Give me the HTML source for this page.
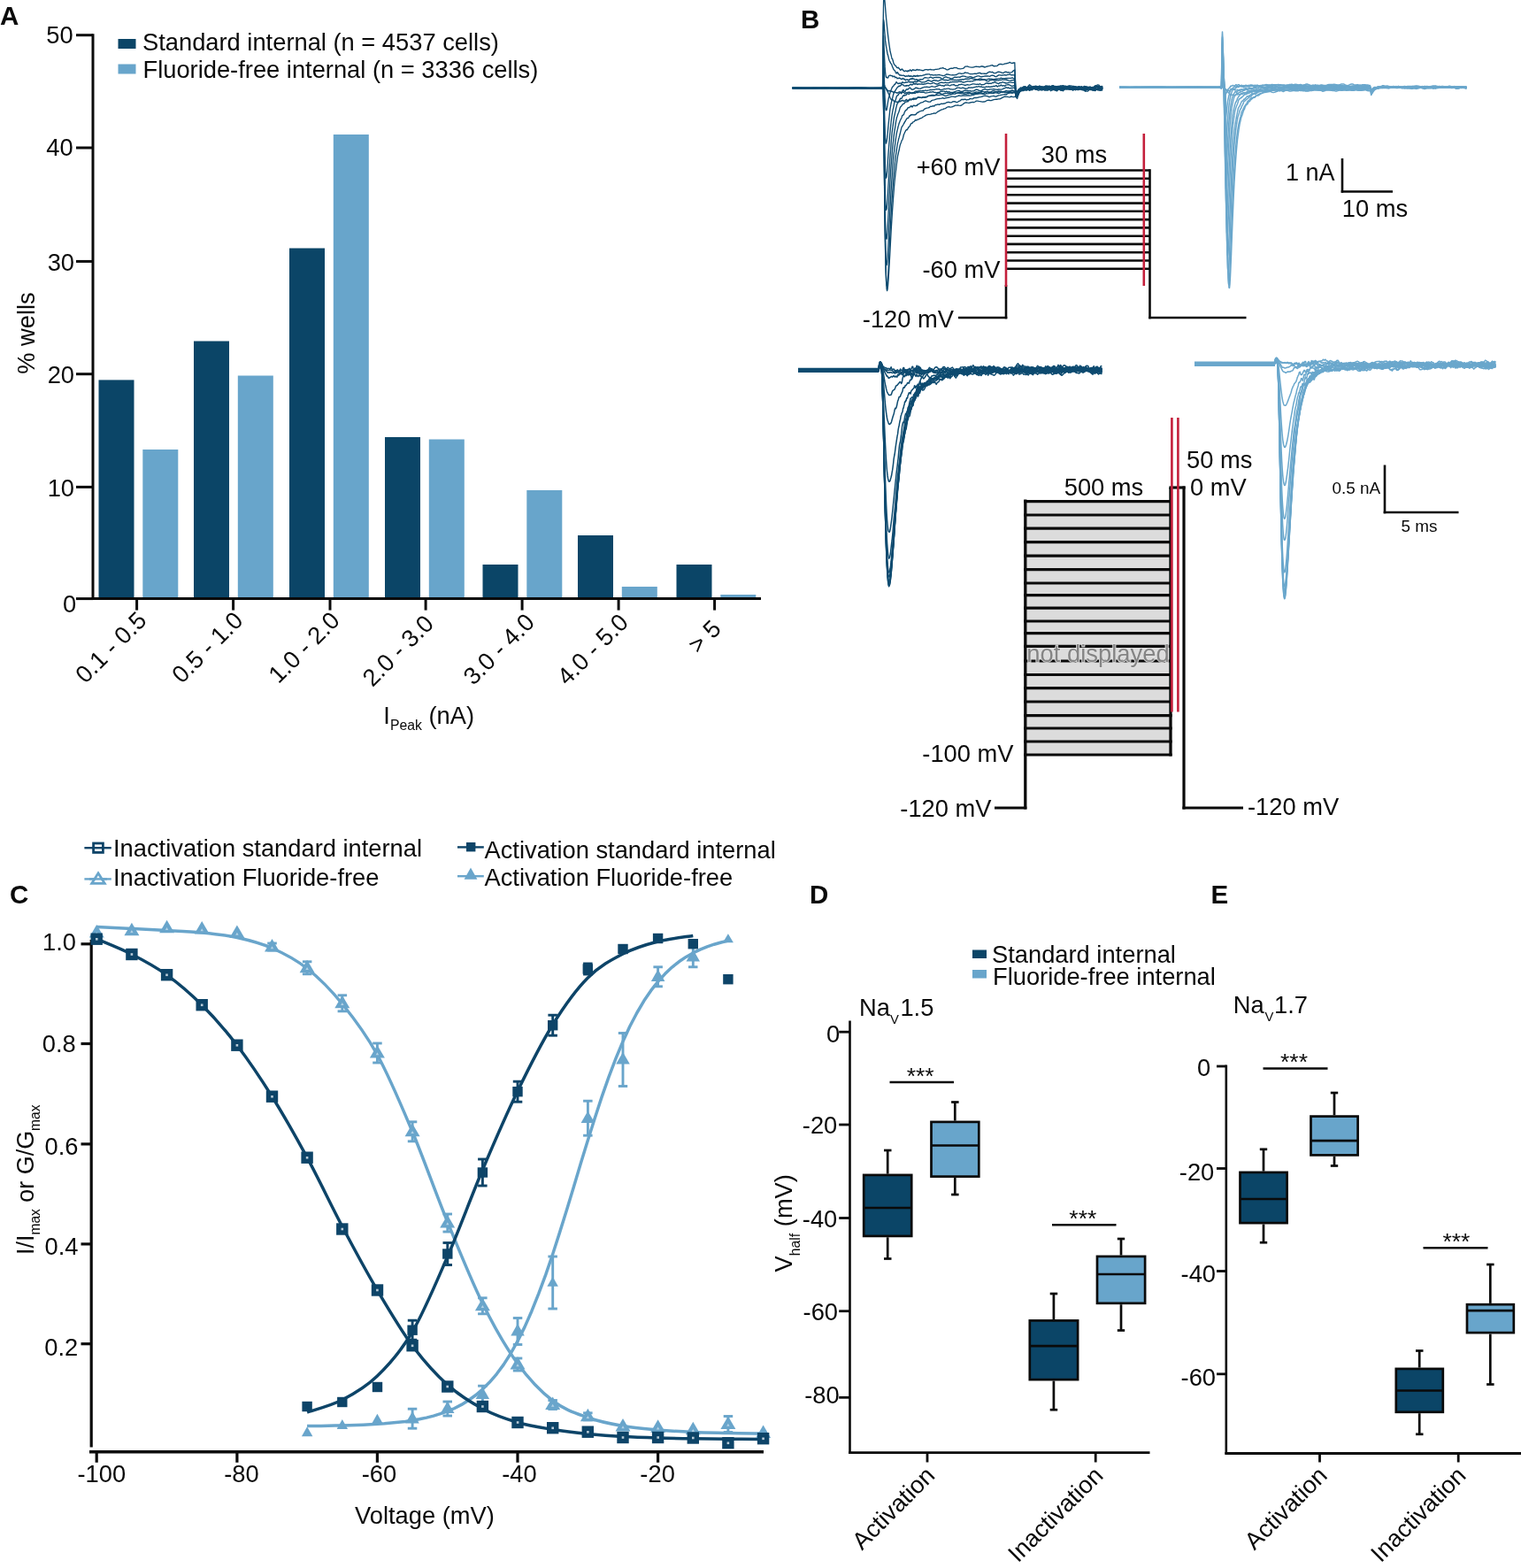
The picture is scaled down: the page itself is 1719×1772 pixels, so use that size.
<!DOCTYPE html>
<html lang="en">
<head>
<meta charset="utf-8">
<title>Figure</title>
<style>
html,body{margin:0;padding:0;background:#fff;}
svg{display:block;}
svg text{font-family:"Liberation Sans",Arial,Helvetica,sans-serif;}
</style>
</head>
<body>
<svg width="1719" height="1772" viewBox="0 0 1719 1772" fill="#0a0a0a">
<rect x="0" y="0" width="1719" height="1772" fill="#ffffff"/>
<g id="panelA">
<text x="0" y="28" font-size="29.5" font-weight="bold">A</text>
<rect x="111.5" y="429.4" width="40" height="246.6" fill="#0b4567"/>
<rect x="219" y="385.5" width="40" height="290.5" fill="#0b4567"/>
<rect x="327" y="280.5" width="40" height="395.5" fill="#0b4567"/>
<rect x="435" y="494" width="40" height="182" fill="#0b4567"/>
<rect x="545.5" y="638" width="40" height="38" fill="#0b4567"/>
<rect x="653" y="605" width="40" height="71" fill="#0b4567"/>
<rect x="764.5" y="638" width="40" height="38" fill="#0b4567"/>
<rect x="161.3" y="508" width="40" height="168" fill="#68a5cb"/>
<rect x="268.8" y="424.5" width="40" height="251.5" fill="#68a5cb"/>
<rect x="376.8" y="152" width="40" height="524" fill="#68a5cb"/>
<rect x="484.8" y="496.5" width="40" height="179.5" fill="#68a5cb"/>
<rect x="595.3" y="554" width="40" height="122" fill="#68a5cb"/>
<rect x="702.8" y="663" width="40" height="13" fill="#68a5cb"/>
<rect x="814.3" y="672" width="40" height="4" fill="#68a5cb"/>
<line x1="105" y1="38.2" x2="105" y2="677.5" stroke="#0a0a0a" stroke-width="3"/>
<line x1="103.5" y1="676.6" x2="860" y2="676.6" stroke="#0a0a0a" stroke-width="3"/>
<line x1="86" y1="39.7" x2="105" y2="39.7" stroke="#0a0a0a" stroke-width="3"/>
<text x="82.7" y="49.1" font-size="27.3" text-anchor="end">50</text>
<line x1="86" y1="167" x2="105" y2="167" stroke="#0a0a0a" stroke-width="3"/>
<text x="82.7" y="176.4" font-size="27.3" text-anchor="end">40</text>
<line x1="86" y1="295.4" x2="105" y2="295.4" stroke="#0a0a0a" stroke-width="3"/>
<text x="84" y="306" font-size="27.3" text-anchor="end">30</text>
<line x1="86" y1="422.7" x2="105" y2="422.7" stroke="#0a0a0a" stroke-width="3"/>
<text x="84" y="433.3" font-size="27.3" text-anchor="end">20</text>
<line x1="86" y1="550.4" x2="105" y2="550.4" stroke="#0a0a0a" stroke-width="3"/>
<text x="84" y="561" font-size="27.3" text-anchor="end">10</text>
<line x1="86" y1="676.6" x2="105" y2="676.6" stroke="#0a0a0a" stroke-width="3"/>
<text x="86.2" y="692.4" font-size="27.3" text-anchor="end">0</text>
<line x1="154.6" y1="676" x2="154.6" y2="689.6" stroke="#0a0a0a" stroke-width="3"/>
<text transform="translate(167.2 702.8) rotate(-45)" font-size="27.3" text-anchor="end">0.1 - 0.5</text>
<line x1="263.6" y1="676" x2="263.6" y2="689.6" stroke="#0a0a0a" stroke-width="3"/>
<text transform="translate(276.2 702.8) rotate(-45)" font-size="27.3" text-anchor="end">0.5 - 1.0</text>
<line x1="373" y1="676" x2="373" y2="689.6" stroke="#0a0a0a" stroke-width="3"/>
<text transform="translate(385.6 702.8) rotate(-45)" font-size="27.3" text-anchor="end">1.0 - 2.0</text>
<line x1="481.1" y1="676" x2="481.1" y2="689.6" stroke="#0a0a0a" stroke-width="3"/>
<text transform="translate(491.7 706.4) rotate(-45)" font-size="27.3" text-anchor="end">2.0 - 3.0</text>
<line x1="590.1" y1="676" x2="590.1" y2="689.6" stroke="#0a0a0a" stroke-width="3"/>
<text transform="translate(605.7 704.8) rotate(-45)" font-size="27.3" text-anchor="end">3.0 - 4.0</text>
<line x1="699.1" y1="676" x2="699.1" y2="689.6" stroke="#0a0a0a" stroke-width="3"/>
<text transform="translate(711.7 705) rotate(-45)" font-size="27.3" text-anchor="end">4.0 - 5.0</text>
<line x1="807.6" y1="676" x2="807.6" y2="689.6" stroke="#0a0a0a" stroke-width="3"/>
<text transform="translate(816.4 712.3) rotate(-45)" font-size="27.3" text-anchor="end">&gt; 5</text>
<rect x="133.5" y="44" width="20" height="11" fill="#0b4567"/>
<rect x="133.5" y="72.5" width="20" height="11" fill="#68a5cb"/>
<text x="161" y="56.5" font-size="27.3">Standard internal (n = 4537 cells)</text>
<text x="161.5" y="87.5" font-size="27.3">Fluoride-free internal (n = 3336 cells)</text>
<text transform="translate(39 376.5) rotate(-90)" font-size="27.3" text-anchor="middle">% wells</text>
<text x="433.3" y="817.5" font-size="27.3">I<tspan font-size="15.8" dy="7.5">Peak</tspan><tspan dy="-7.5"> (nA)</tspan></text>
</g>
<g id="panelB">
<text x="905" y="32" font-size="29.5" font-weight="bold">B</text>
<g fill="none">
<path d="M895.5,99.4 901.5,99.3 907.5,99.4 913.5,99.5 919.5,99.6 925.5,99.6 931.5,99.5 937.5,99.7 943.5,99.8 949.5,99.5 955.5,99.5 961.5,99.4 967.5,99.4 973.5,99.5 979.5,99.3 985.5,99.3 991.5,99.1 995.6,99.4 996.1,99.4 996.6,99.7 997.1,99.6 997.6,100.3 998.1,98.2 998.6,97.4 999.1,97.6 999.6,98.8 1000.1,99.4 1000.6,99.6 1001.1,99.6 1001.6,100.2 1002.1,100.9 1002.6,101.4 1003.1,102.1 1003.6,102.3 1004.1,102.7 1004.6,102.9 1005.1,102.6 1005.6,102.8 1006.1,102.6 1006.6,102.7 1007.1,103.5 1007.6,103.1 1008.1,103.5 1008.6,103.4 1009.1,103.8 1009.6,104.3 1010.1,104.7 1010.6,104.4 1011.1,103.7 1011.6,103.8 1012.1,104.5 1012.6,104.7 1013.1,104.7 1013.6,104.9 1014.1,105.3 1014.6,104.9 1015.1,104.7 1015.6,104.1 1016.1,104.1 1016.6,103.8 1017.1,104.1 1017.6,104 1018.1,104.8 1018.6,105.8 1019.1,105.3 1019.6,104.4 1020.1,104.1 1020.6,103.9 1021.1,104.4 1021.6,104.2 1022.1,105.4 1022.6,105.8 1023.1,105.5 1023.6,105.1 1024.1,104.6 1024.6,105 1025.1,105 1025.6,104.9 1026.1,104.2 1026.6,104.4 1027.1,104.5 1027.6,104.2 1028.1,104.5 1028.6,104.3 1029.1,105 1029.6,105.1 1030.1,105.4 1030.6,105.1 1031.1,104.5 1031.6,105 1032.1,104.8 1032.6,105.1 1033.1,104.1 1033.6,104.2 1034.1,103.3 1034.6,103.1 1035.1,103.1 1035.6,103.2 1036.1,103.8 1036.6,104.5 1037.1,104.7 1037.6,104.4 1039,103.8 1040.4,104.4 1041.8,104.3 1043.2,104.2 1044.6,104.5 1046,105.1 1047.4,104.8 1048.8,104.7 1050.2,104.4 1051.6,104 1053,104.1 1054.4,103.7 1055.8,104.4 1057.2,104.5 1058.6,104.8 1060,104.4 1061.4,104.4 1062.8,103.6 1064.2,103.2 1065.6,103.2 1067,103.1 1068.4,103.8 1069.8,103.1 1071.2,104.2 1072.6,103.5 1074,104.3 1075.4,104.3 1076.8,104.4 1078.2,104.2 1079.6,104.8 1081,105.4 1082.4,104.9 1083.8,104.5 1085.2,104.3 1086.6,104.6 1088,104.7 1089.4,105.1 1090.8,104.5 1092.2,104.4 1093.6,104.1 1095,104.7 1096.4,104.7 1097.8,105.6 1099.2,105.2 1100.6,105 1102,104.5 1103.4,104 1104.8,104.2 1106.2,104.2 1107.6,104.4 1109,103.6 1110.4,103.3 1111.8,103.7 1113.2,103.9 1114.6,103.6 1116,103.4 1117.4,104.3 1118.8,103.8 1120.2,103.8 1121.6,102.9 1123,102.6 1124.4,103.2 1125.8,103.4 1127.2,104.3 1128.6,103.7 1130,103.9 1131.4,103.8 1132.8,104 1134.2,103.6 1135.6,103.6 1137,104.2 1138.4,104.2 1139.8,104.8 1141.2,104.3 1142.6,104.4 1144,104.4 1145.4,104.4 1146.8,104.5 1148.2,103.5 1149.6,103.5 1151,102.2 1152.4,101.2 1153.8,100.9 1155.2,99.6 1156.6,97.8 1158,97.7 1159.4,98.3 1160.8,99 1162.2,98.8 1163.6,98.5 1165,98.7 1166.4,99.3 1167.8,98.4 1169.2,99.3 1170.6,97.6 1172,98.4 1173.4,97.8 1174.8,99.4 1176.2,99.7 1177.6,100.7 1179,99.7 1180.4,97.9 1181.8,97.8 1183.2,98.2 1184.6,99.1 1186,98.9 1187.4,98.2 1188.8,96.8 1190.2,96.6 1191.6,98 1193,99.1 1194.4,99.1 1195.8,98.1 1197.2,97.7 1198.6,96.9 1200,96.9 1201.4,96.6 1202.8,97.2 1204.2,97.1 1205.6,98.4 1207,97.6 1208.4,97.2 1209.8,97 1211.2,97.1 1212.6,97.3 1214,97.5 1215.4,98.1 1216.8,98.2 1218.2,99.5 1219.6,99.1 1221,99.2 1222.4,98 1223.8,98.6 1225.2,97.4 1226.6,97.6 1228,98.8 1229.4,99.8 1230.8,99.6 1232.2,98.8 1233.6,99.5 1235,99.4 1236.4,98.7 1237.8,97.5 1239.2,96.5 1240.6,95.9 1242,96.1 1243.4,98.2 1244.8,100 1246.2,99.4" fill="none" stroke="#0e4b70" stroke-width="1.35" stroke-linejoin="round"/>
<path d="M895.5,99.6 901.5,99.5 907.5,99.4 913.5,99.3 919.5,99.3 925.5,99.3 931.5,99.3 937.5,99.2 943.5,99.3 949.5,99.4 955.5,99.5 961.5,99.5 967.5,99.6 973.5,99.3 979.5,99.4 985.5,99.4 991.5,99.7 995.6,99.7 996.1,99.6 996.6,99.5 997.1,99.5 997.6,99.6 998.1,97 998.6,95.4 999.1,95.5 999.6,96.3 1000.1,97.7 1000.6,98.7 1001.1,99.1 1001.6,100.5 1002.1,101.6 1002.6,102.6 1003.1,103.5 1003.6,104.2 1004.1,105.7 1004.6,106.2 1005.1,107.9 1005.6,109.3 1006.1,110.5 1006.6,111.4 1007.1,112.5 1007.6,113 1008.1,112.9 1008.6,112.5 1009.1,112.8 1009.6,113.3 1010.1,114 1010.6,114.5 1011.1,114.8 1011.6,114.8 1012.1,114.9 1012.6,114.8 1013.1,115.1 1013.6,115.5 1014.1,115.3 1014.6,115.2 1015.1,114.9 1015.6,114.6 1016.1,114.1 1016.6,113.9 1017.1,114.3 1017.6,114.9 1018.1,114.2 1018.6,114 1019.1,113.7 1019.6,113.8 1020.1,113.3 1020.6,113.4 1021.1,113.9 1021.6,114.5 1022.1,114.2 1022.6,113.8 1023.1,113.7 1023.6,113.1 1024.1,112.7 1024.6,112.4 1025.1,113.3 1025.6,113.6 1026.1,113.7 1026.6,113.3 1027.1,112.8 1027.6,112.6 1028.1,112.1 1028.6,111.9 1029.1,112.1 1029.6,113 1030.1,112.8 1030.6,112.5 1031.1,111.9 1031.6,112.4 1032.1,112.4 1032.6,112.5 1033.1,111.9 1033.6,111.8 1034.1,111.3 1034.6,111.8 1035.1,112 1035.6,111.7 1036.1,111 1036.6,110.5 1037.1,110.5 1037.6,110.2 1039,109.9 1040.4,110.1 1041.8,110.6 1043.2,109.8 1044.6,109.9 1046,109.5 1047.4,109.7 1048.8,108.7 1050.2,108.4 1051.6,108.1 1053,107.8 1054.4,108.2 1055.8,108 1057.2,107.6 1058.6,107.5 1060,107.4 1061.4,107.6 1062.8,107.2 1064.2,107.1 1065.6,107.2 1067,107.8 1068.4,108.5 1069.8,108.2 1071.2,107.5 1072.6,107.2 1074,107.1 1075.4,106.5 1076.8,106 1078.2,106.2 1079.6,106.1 1081,105.4 1082.4,104.9 1083.8,105.4 1085.2,105.5 1086.6,105.8 1088,105.8 1089.4,106.2 1090.8,106.2 1092.2,106.2 1093.6,105.7 1095,105.7 1096.4,105.4 1097.8,106.2 1099.2,106 1100.6,106 1102,105.6 1103.4,105.6 1104.8,106 1106.2,105.5 1107.6,105.2 1109,104.8 1110.4,105.9 1111.8,106.4 1113.2,106.3 1114.6,105.7 1116,105.9 1117.4,105.7 1118.8,105.2 1120.2,105 1121.6,105.3 1123,105.5 1124.4,104.8 1125.8,104.9 1127.2,105.2 1128.6,105.5 1130,105.2 1131.4,104 1132.8,104 1134.2,103.9 1135.6,104.6 1137,104.8 1138.4,104.7 1139.8,104 1141.2,104 1142.6,103.8 1144,104.3 1145.4,104 1146.8,104.3 1148.2,103.4 1149.6,104 1151,102.2 1152.4,102.8 1153.8,102.4 1155.2,101.8 1156.6,100.5 1158,98.8 1159.4,98.2 1160.8,99.1 1162.2,99.5 1163.6,99 1165,99.5 1166.4,98.8 1167.8,99.9 1169.2,99.6 1170.6,99.9 1172,99.8 1173.4,99.1 1174.8,99 1176.2,98.1 1177.6,97.9 1179,99.1 1180.4,100.7 1181.8,101 1183.2,100.2 1184.6,98.7 1186,98.4 1187.4,97.8 1188.8,98.4 1190.2,97.4 1191.6,97.8 1193,97.5 1194.4,98 1195.8,97.3 1197.2,97.4 1198.6,98.9 1200,99.7 1201.4,99.8 1202.8,99.1 1204.2,99.7 1205.6,99.5 1207,99.4 1208.4,99.8 1209.8,100.3 1211.2,100.9 1212.6,100.8 1214,100.5 1215.4,100.6 1216.8,99.5 1218.2,100.5 1219.6,99.3 1221,98.7 1222.4,97.6 1223.8,99.4 1225.2,100.4 1226.6,101.1 1228,99.8 1229.4,99.7 1230.8,99 1232.2,99 1233.6,99.1 1235,99 1236.4,98.3 1237.8,97.8 1239.2,97.5 1240.6,98 1242,98.5 1243.4,99 1244.8,99.9 1246.2,99.3" fill="none" stroke="#0e4b70" stroke-width="1.35" stroke-linejoin="round"/>
<path d="M895.5,99 901.5,98.8 907.5,99.1 913.5,99.3 919.5,99.3 925.5,99.4 931.5,99.5 937.5,99.3 943.5,99.3 949.5,99.2 955.5,99.5 961.5,99.5 967.5,99.4 973.5,99.4 979.5,99.4 985.5,99.5 991.5,99.6 995.6,99.7 996.1,99.9 996.6,99.8 997.1,99.5 997.6,99.5 998.1,101.6 998.6,125.4 999.1,163.7 999.6,206.9 1000.1,246.6 1000.6,279.3 1001.1,303 1001.6,318.3 1002.1,326.7 1002.6,328.6 1003.1,326.8 1003.6,321.9 1004.1,315.3 1004.6,307.2 1005.1,298.2 1005.6,289.6 1006.1,280 1006.6,270.7 1007.1,261.3 1007.6,252.9 1008.1,244.9 1008.6,237.2 1009.1,230.5 1009.6,223.3 1010.1,217 1010.6,210.4 1011.1,204.8 1011.6,200.1 1012.1,195.4 1012.6,192 1013.1,187.5 1013.6,183.5 1014.1,179.6 1014.6,176.2 1015.1,174 1015.6,171.6 1016.1,169.8 1016.6,167.2 1017.1,164.6 1017.6,163 1018.1,161.8 1018.6,160.5 1019.1,158.9 1019.6,158.2 1020.1,157.3 1020.6,155.6 1021.1,153.5 1021.6,151.8 1022.1,150.8 1022.6,149.5 1023.1,148.6 1023.6,147.5 1024.1,147 1024.6,146.4 1025.1,146.8 1025.6,146.1 1026.1,145.4 1026.6,143.9 1027.1,143.7 1027.6,143.5 1028.1,142.7 1028.6,141.9 1029.1,140.6 1029.6,139.8 1030.1,139.4 1030.6,139.4 1031.1,139.1 1031.6,138.2 1032.1,137.8 1032.6,137.7 1033.1,137.3 1033.6,137 1034.1,136 1034.6,135.5 1035.1,136 1035.6,135.6 1036.1,135.7 1036.6,135.1 1037.1,135.1 1037.6,135.1 1039,134.4 1040.4,133.6 1041.8,133.3 1043.2,132.1 1044.6,131.5 1046,130.4 1047.4,129.9 1048.8,129.4 1050.2,129.4 1051.6,129.2 1053,128.6 1054.4,128.3 1055.8,127.8 1057.2,128.2 1058.6,127.3 1060,126.1 1061.4,125.4 1062.8,124.7 1064.2,123.9 1065.6,123.6 1067,122.8 1068.4,122.7 1069.8,121.5 1071.2,120.9 1072.6,120.6 1074,121.1 1075.4,120.9 1076.8,120.5 1078.2,119.8 1079.6,119.1 1081,119.1 1082.4,118.9 1083.8,119.2 1085.2,119.3 1086.6,119 1088,118 1089.4,116.9 1090.8,116 1092.2,115.8 1093.6,116.1 1095,116.3 1096.4,116 1097.8,115.6 1099.2,115.4 1100.6,115.7 1102,115 1103.4,114.1 1104.8,114.1 1106.2,114.4 1107.6,114.6 1109,114.9 1110.4,115.2 1111.8,115 1113.2,114.8 1114.6,114 1116,113.3 1117.4,113.1 1118.8,113.5 1120.2,113.6 1121.6,113.1 1123,112.6 1124.4,112.3 1125.8,112.2 1127.2,112.2 1128.6,111.9 1130,111.8 1131.4,111.2 1132.8,110.4 1134.2,109.7 1135.6,109.2 1137,109.4 1138.4,109.4 1139.8,109.7 1141.2,109.8 1142.6,109 1144,109.3 1145.4,109.6 1146.8,109.3 1148.2,108.5 1149.6,106.4 1151,103.8 1152.4,103.2 1153.8,101.2 1155.2,100.4 1156.6,100 1158,100.6 1159.4,100.6 1160.8,100.5 1162.2,99.9 1163.6,102.3 1165,101.4 1166.4,101.8 1167.8,100.4 1169.2,100.7 1170.6,100.2 1172,100.2 1173.4,100.6 1174.8,100.5 1176.2,99.6 1177.6,98.6 1179,98.5 1180.4,99 1181.8,100.3 1183.2,100.4 1184.6,100.6 1186,100.9 1187.4,100.4 1188.8,99.4 1190.2,98.1 1191.6,97.4 1193,99.6 1194.4,99.8 1195.8,101.3 1197.2,100.8 1198.6,102.2 1200,102.3 1201.4,102 1202.8,100.6 1204.2,100.2 1205.6,100.2 1207,99.9 1208.4,99.9 1209.8,100.6 1211.2,99.4 1212.6,99.1 1214,98 1215.4,98.9 1216.8,99.3 1218.2,100.1 1219.6,100.1 1221,98.9 1222.4,100.1 1223.8,99.6 1225.2,100.6 1226.6,100.1 1228,99.2 1229.4,98.4 1230.8,98.5 1232.2,100.9 1233.6,101.3 1235,101.2 1236.4,99.7 1237.8,100.1 1239.2,100.3 1240.6,100.9 1242,100 1243.4,97.8 1244.8,97.9 1246.2,99.6" fill="none" stroke="#0e4b70" stroke-width="1.35" stroke-linejoin="round"/>
<path d="M895.5,99.1 901.5,99.3 907.5,99.3 913.5,99.3 919.5,99.5 925.5,99.5 931.5,99.6 937.5,99.8 943.5,99.7 949.5,99.7 955.5,99.9 961.5,100.1 967.5,99.9 973.5,99.6 979.5,99.5 985.5,99.5 991.5,99.6 995.6,99.6 996.1,99.6 996.6,99.7 997.1,99.7 997.6,100.1 998.1,99.4 998.6,124.7 999.1,166.3 999.6,212.6 1000.1,252.8 1000.6,284.1 1001.1,304.6 1001.6,317.4 1002.1,323 1002.6,323 1003.1,319.4 1003.6,312.2 1004.1,303.7 1004.6,293.3 1005.1,283.3 1005.6,272 1006.1,261.6 1006.6,251.7 1007.1,242.6 1007.6,233.2 1008.1,225.2 1008.6,217.6 1009.1,210.8 1009.6,204 1010.1,197.9 1010.6,192.9 1011.1,187.4 1011.6,182.3 1012.1,178 1012.6,174.4 1013.1,170.9 1013.6,167.3 1014.1,164 1014.6,161.3 1015.1,159.4 1015.6,157 1016.1,155.4 1016.6,153.4 1017.1,151.8 1017.6,149.7 1018.1,147.4 1018.6,145.4 1019.1,143.6 1019.6,142.8 1020.1,142.3 1020.6,141.3 1021.1,140.5 1021.6,139.2 1022.1,139 1022.6,137.5 1023.1,137.1 1023.6,136 1024.1,135.4 1024.6,134.4 1025.1,133.8 1025.6,133.4 1026.1,133.3 1026.6,133.5 1027.1,132.5 1027.6,131.4 1028.1,130.8 1028.6,131 1029.1,130 1029.6,130.2 1030.1,129.5 1030.6,129.9 1031.1,129.5 1031.6,129.6 1032.1,129.9 1032.6,129.9 1033.1,129.5 1033.6,129.9 1034.1,129.8 1034.6,129.5 1035.1,129.3 1035.6,128.4 1036.1,128.2 1036.6,127.3 1037.1,127.2 1037.6,127.3 1039,126.1 1040.4,125.7 1041.8,125.2 1043.2,125 1044.6,123.4 1046,122.6 1047.4,122.1 1048.8,121.9 1050.2,121.5 1051.6,120.2 1053,120.3 1054.4,119.6 1055.8,120 1057.2,118.4 1058.6,118.5 1060,117.8 1061.4,118.4 1062.8,117.6 1064.2,117.2 1065.6,117.4 1067,117 1068.4,116.8 1069.8,115.8 1071.2,115.5 1072.6,115.5 1074,115.8 1075.4,115.8 1076.8,114.9 1078.2,114.6 1079.6,114.9 1081,115.6 1082.4,115.3 1083.8,114.3 1085.2,113.8 1086.6,112.5 1088,112.4 1089.4,112.5 1090.8,112.2 1092.2,113 1093.6,112.7 1095,112.5 1096.4,111.4 1097.8,111.7 1099.2,111.8 1100.6,110.7 1102,110.4 1103.4,110.5 1104.8,110.4 1106.2,109.8 1107.6,109.6 1109,109.4 1110.4,109 1111.8,108.4 1113.2,108.1 1114.6,108.5 1116,108.7 1117.4,109.5 1118.8,109.5 1120.2,108.8 1121.6,108.7 1123,108.3 1124.4,109 1125.8,109.1 1127.2,108.4 1128.6,107.8 1130,107.6 1131.4,107.3 1132.8,107.1 1134.2,106.9 1135.6,106.7 1137,107.1 1138.4,106 1139.8,105.4 1141.2,105 1142.6,104.8 1144,105.3 1145.4,104.6 1146.8,104.9 1148.2,104.6 1149.6,103.3 1151,101.2 1152.4,100 1153.8,98.9 1155.2,99.4 1156.6,98.7 1158,99.4 1159.4,98.7 1160.8,100.6 1162.2,99.9 1163.6,100.7 1165,99.7 1166.4,100.6 1167.8,100.2 1169.2,100.5 1170.6,101.3 1172,101.2 1173.4,102.2 1174.8,101.9 1176.2,101.4 1177.6,100.9 1179,100.3 1180.4,99.6 1181.8,100.3 1183.2,100.7 1184.6,101.2 1186,100.4 1187.4,99.7 1188.8,99.8 1190.2,99.9 1191.6,99.9 1193,99 1194.4,98.9 1195.8,98.3 1197.2,100 1198.6,100.2 1200,100 1201.4,100.3 1202.8,100.1 1204.2,100.2 1205.6,99 1207,98.2 1208.4,98.9 1209.8,99 1211.2,99.8 1212.6,100.1 1214,101.2 1215.4,101.7 1216.8,101.3 1218.2,99.9 1219.6,99.8 1221,100.2 1222.4,101.3 1223.8,100.2 1225.2,100.9 1226.6,100.5 1228,101 1229.4,101 1230.8,100.5 1232.2,100.1 1233.6,100 1235,100.4 1236.4,100.4 1237.8,101.3 1239.2,100.5 1240.6,101.7 1242,100.3 1243.4,100.1 1244.8,101.5 1246.2,101.5" fill="none" stroke="#0e4b70" stroke-width="1.35" stroke-linejoin="round"/>
<path d="M895.5,99.8 901.5,99.6 907.5,99.8 913.5,99.6 919.5,99.7 925.5,99.6 931.5,99.8 937.5,99.6 943.5,99.4 949.5,99.5 955.5,99.5 961.5,99.8 967.5,99.7 973.5,100 979.5,99.9 985.5,100.1 991.5,99.8 995.6,99.6 996.1,99.4 996.6,99.4 997.1,99.4 997.6,99.1 998.1,94.3 998.6,118.7 999.1,160.1 999.6,204.8 1000.1,243.4 1000.6,271.7 1001.1,289.5 1001.6,297.7 1002.1,299.6 1002.6,296.9 1003.1,291.5 1003.6,283.5 1004.1,274.4 1004.6,263.7 1005.1,253.9 1005.6,243.9 1006.1,233.9 1006.6,224.6 1007.1,215.1 1007.6,207.4 1008.1,199.7 1008.6,192.5 1009.1,185.4 1009.6,179.5 1010.1,174.5 1010.6,171 1011.1,166.8 1011.6,163 1012.1,158.8 1012.6,155.5 1013.1,152.2 1013.6,149.5 1014.1,147.1 1014.6,145.4 1015.1,142.8 1015.6,141.4 1016.1,139.4 1016.6,138.4 1017.1,136.8 1017.6,135.8 1018.1,134.7 1018.6,133.8 1019.1,132.7 1019.6,130.8 1020.1,130.3 1020.6,130 1021.1,129.9 1021.6,129 1022.1,127.1 1022.6,126.4 1023.1,125.3 1023.6,124.7 1024.1,124.5 1024.6,124 1025.1,123.8 1025.6,122.4 1026.1,121.8 1026.6,121.6 1027.1,121.8 1027.6,121.1 1028.1,121.1 1028.6,120.8 1029.1,120.7 1029.6,119.5 1030.1,119.9 1030.6,120.4 1031.1,121 1031.6,120.2 1032.1,119.2 1032.6,119.2 1033.1,119.1 1033.6,119.6 1034.1,119.6 1034.6,119.7 1035.1,119.2 1035.6,119.3 1036.1,119.5 1036.6,118.5 1037.1,118.7 1037.6,117.7 1039,117.3 1040.4,116.2 1041.8,115.8 1043.2,115.4 1044.6,114.5 1046,113.8 1047.4,114.3 1048.8,115 1050.2,115.1 1051.6,115 1053,113.6 1054.4,113.2 1055.8,112.8 1057.2,112.3 1058.6,111.8 1060,111.6 1061.4,111.5 1062.8,111.4 1064.2,111.2 1065.6,110.7 1067,111.3 1068.4,110.9 1069.8,110.5 1071.2,110.3 1072.6,110 1074,109.7 1075.4,109.2 1076.8,109.1 1078.2,109.3 1079.6,109.7 1081,108.9 1082.4,108.7 1083.8,107.9 1085.2,108.4 1086.6,108.3 1088,108 1089.4,108 1090.8,108.2 1092.2,107.9 1093.6,108 1095,108 1096.4,108.1 1097.8,107.8 1099.2,107.2 1100.6,107.2 1102,106.7 1103.4,106.4 1104.8,106 1106.2,105.6 1107.6,105.9 1109,105.9 1110.4,106 1111.8,105.6 1113.2,104 1114.6,104 1116,103.6 1117.4,104.3 1118.8,104.6 1120.2,105.2 1121.6,105.1 1123,104.5 1124.4,104.2 1125.8,103.7 1127.2,103.3 1128.6,102.9 1130,103.2 1131.4,103.2 1132.8,103.8 1134.2,103.4 1135.6,103.1 1137,102.5 1138.4,102.8 1139.8,103 1141.2,103 1142.6,102.5 1144,102 1145.4,102.5 1146.8,102.8 1148.2,107.3 1149.6,105.6 1151,104.2 1152.4,103.4 1153.8,101.3 1155.2,101.4 1156.6,101.3 1158,101.4 1159.4,100.1 1160.8,99 1162.2,98.1 1163.6,98.6 1165,99.1 1166.4,99.4 1167.8,98.6 1169.2,97.8 1170.6,97.9 1172,97.5 1173.4,98.3 1174.8,99.3 1176.2,101.5 1177.6,102 1179,101.4 1180.4,99.3 1181.8,97.3 1183.2,97.2 1184.6,97.2 1186,100.2 1187.4,100.9 1188.8,101.3 1190.2,101 1191.6,101.2 1193,101.9 1194.4,101.8 1195.8,101 1197.2,99.2 1198.6,100.4 1200,101.5 1201.4,102.8 1202.8,101.3 1204.2,100.9 1205.6,100.6 1207,101 1208.4,100.9 1209.8,101.2 1211.2,100.9 1212.6,101.3 1214,101.2 1215.4,101.2 1216.8,100.7 1218.2,100.7 1219.6,101.4 1221,100.9 1222.4,101.2 1223.8,100.7 1225.2,100.2 1226.6,100.8 1228,99.9 1229.4,100.9 1230.8,100.3 1232.2,99.8 1233.6,98.9 1235,98.3 1236.4,98.7 1237.8,99.4 1239.2,100.1 1240.6,100.1 1242,100.8 1243.4,100.1 1244.8,100 1246.2,99.2" fill="none" stroke="#0e4b70" stroke-width="1.35" stroke-linejoin="round"/>
<path d="M895.5,99.6 901.5,99.9 907.5,100 913.5,100.2 919.5,99.8 925.5,99.6 931.5,99.5 937.5,99.5 943.5,99.5 949.5,99.7 955.5,99.7 961.5,99.7 967.5,99.4 973.5,99.4 979.5,99.3 985.5,99.3 991.5,99.3 995.6,99.2 996.1,99.5 996.6,99.4 997.1,99.7 997.6,98.7 998.1,88.7 998.6,110.1 999.1,149.6 999.6,190.7 1000.1,225.4 1000.6,249.6 1001.1,264.4 1001.6,269.9 1002.1,270.1 1002.6,265.6 1003.1,259.1 1003.6,249.8 1004.1,240.8 1004.6,231.2 1005.1,222 1005.6,211.9 1006.1,202.5 1006.6,194 1007.1,187.1 1007.6,180.8 1008.1,174.5 1008.6,168.3 1009.1,163.7 1009.6,159.5 1010.1,154.9 1010.6,150.7 1011.1,147.4 1011.6,144.3 1012.1,140.7 1012.6,137.4 1013.1,134.7 1013.6,132.6 1014.1,131.2 1014.6,129.6 1015.1,128.3 1015.6,127.2 1016.1,125.7 1016.6,124 1017.1,122.1 1017.6,121.2 1018.1,120.4 1018.6,119.9 1019.1,119.4 1019.6,118.7 1020.1,117.9 1020.6,117.5 1021.1,117.4 1021.6,116.9 1022.1,116.8 1022.6,116.1 1023.1,115.4 1023.6,114.9 1024.1,115.1 1024.6,115 1025.1,114.8 1025.6,114.4 1026.1,114.9 1026.6,114 1027.1,113.9 1027.6,113.3 1028.1,113.2 1028.6,112.4 1029.1,112.3 1029.6,112.3 1030.1,112.4 1030.6,112.2 1031.1,111.8 1031.6,111.6 1032.1,111 1032.6,111.2 1033.1,112.1 1033.6,111.2 1034.1,111.5 1034.6,111.2 1035.1,112 1035.6,111.2 1036.1,111 1036.6,110.4 1037.1,110.3 1037.6,109.7 1039,110.1 1040.4,110.3 1041.8,110.1 1043.2,109.7 1044.6,110 1046,110.1 1047.4,109.4 1048.8,108.5 1050.2,108.2 1051.6,108 1053,107.5 1054.4,107.3 1055.8,107.7 1057.2,107.5 1058.6,106.2 1060,105.3 1061.4,105.2 1062.8,105.7 1064.2,106.3 1065.6,106.1 1067,105.7 1068.4,105.5 1069.8,105.3 1071.2,105.3 1072.6,105.1 1074,106 1075.4,106.1 1076.8,105.7 1078.2,104.1 1079.6,103.5 1081,102.9 1082.4,102.7 1083.8,102.3 1085.2,103.1 1086.6,103.5 1088,103.4 1089.4,102.7 1090.8,102.2 1092.2,102.4 1093.6,102.3 1095,102.8 1096.4,102.6 1097.8,103.2 1099.2,102.8 1100.6,102.9 1102,101.8 1103.4,101.2 1104.8,101.4 1106.2,102.2 1107.6,102.7 1109,102.6 1110.4,101.7 1111.8,101.2 1113.2,100.6 1114.6,101.1 1116,101.5 1117.4,101.4 1118.8,100.8 1120.2,100.8 1121.6,100.8 1123,100.7 1124.4,101 1125.8,101.2 1127.2,101.4 1128.6,101 1130,101.2 1131.4,101.1 1132.8,100.8 1134.2,100 1135.6,99.7 1137,98.7 1138.4,99.3 1139.8,99 1141.2,100 1142.6,99.4 1144,99.5 1145.4,99.1 1146.8,99.2 1148.2,107.2 1149.6,107.3 1151,104.9 1152.4,103.5 1153.8,101.4 1155.2,101.1 1156.6,100.5 1158,100.5 1159.4,100.2 1160.8,99.9 1162.2,100.2 1163.6,100.6 1165,100.5 1166.4,100 1167.8,100 1169.2,99.2 1170.6,99.1 1172,99.6 1173.4,99.3 1174.8,99.4 1176.2,99.4 1177.6,99.8 1179,101.5 1180.4,99.4 1181.8,100.9 1183.2,100.3 1184.6,102 1186,101.2 1187.4,100.7 1188.8,99.9 1190.2,100.4 1191.6,99.5 1193,99.7 1194.4,99.5 1195.8,99.8 1197.2,99.4 1198.6,99.3 1200,99.3 1201.4,100.3 1202.8,100.6 1204.2,100.5 1205.6,99.9 1207,99.2 1208.4,99.4 1209.8,99.5 1211.2,100 1212.6,101.1 1214,100.7 1215.4,101.6 1216.8,100.6 1218.2,101.7 1219.6,100.6 1221,100.3 1222.4,99.3 1223.8,100.4 1225.2,100.9 1226.6,102.8 1228,103.1 1229.4,103 1230.8,101.7 1232.2,100.7 1233.6,100.9 1235,101.9 1236.4,102.4 1237.8,102.5 1239.2,101.2 1240.6,101.5 1242,102.2 1243.4,102.4 1244.8,102 1246.2,101.7" fill="none" stroke="#0e4b70" stroke-width="1.35" stroke-linejoin="round"/>
<path d="M895.5,99.5 901.5,99.2 907.5,99.3 913.5,99.4 919.5,99.8 925.5,99.8 931.5,99.5 937.5,99.3 943.5,99.1 949.5,99.2 955.5,99.1 961.5,99.1 967.5,99.2 973.5,99.5 979.5,99.5 985.5,99.4 991.5,99.2 995.6,99.1 996.1,99.5 996.6,99.7 997.1,99.7 997.6,100.2 998.1,82.6 998.6,102 999.1,138.2 999.6,175.5 1000.1,205.2 1000.6,224.4 1001.1,234.9 1001.6,237.4 1002.1,235.9 1002.6,231.2 1003.1,224.5 1003.6,215.8 1004.1,207.7 1004.6,198.9 1005.1,190.3 1005.6,182.1 1006.1,175.4 1006.6,169.1 1007.1,162 1007.6,155.5 1008.1,150.4 1008.6,146.3 1009.1,143.1 1009.6,138.8 1010.1,135.6 1010.6,131.7 1011.1,130 1011.6,127.3 1012.1,125.6 1012.6,122.7 1013.1,120.6 1013.6,118.6 1014.1,117.2 1014.6,116.2 1015.1,115.9 1015.6,115.6 1016.1,115 1016.6,113.2 1017.1,112.1 1017.6,111.1 1018.1,111.5 1018.6,111.3 1019.1,111.2 1019.6,110.1 1020.1,109 1020.6,108.3 1021.1,107.6 1021.6,108.1 1022.1,108 1022.6,107.8 1023.1,107.3 1023.6,107.6 1024.1,107.5 1024.6,106.7 1025.1,105.8 1025.6,105.9 1026.1,105.8 1026.6,105.8 1027.1,106.6 1027.6,106.1 1028.1,105.7 1028.6,105 1029.1,105.4 1029.6,105.2 1030.1,105.4 1030.6,105.7 1031.1,105.5 1031.6,105.3 1032.1,105.2 1032.6,105.3 1033.1,105.1 1033.6,105.4 1034.1,105.2 1034.6,105.3 1035.1,104.7 1035.6,104.3 1036.1,103.6 1036.6,103.1 1037.1,103.4 1037.6,103 1039,102.7 1040.4,102.6 1041.8,102.9 1043.2,102.3 1044.6,102.6 1046,102 1047.4,102.6 1048.8,102.1 1050.2,101.8 1051.6,101.4 1053,101.6 1054.4,101.3 1055.8,101.3 1057.2,100.8 1058.6,100.6 1060,100.8 1061.4,100.6 1062.8,101.8 1064.2,101.4 1065.6,101.1 1067,100.5 1068.4,100.6 1069.8,100.3 1071.2,100.2 1072.6,100.1 1074,100.8 1075.4,100.8 1076.8,101.1 1078.2,100.9 1079.6,100.7 1081,99.5 1082.4,99.2 1083.8,99.1 1085.2,99.5 1086.6,99.7 1088,99.1 1089.4,99.5 1090.8,100.2 1092.2,100.2 1093.6,99.9 1095,98.8 1096.4,99.2 1097.8,99 1099.2,99.2 1100.6,98.7 1102,98.5 1103.4,97.8 1104.8,98.1 1106.2,97.5 1107.6,98.2 1109,97.8 1110.4,98.6 1111.8,98.4 1113.2,98.8 1114.6,97.9 1116,98.2 1117.4,97.8 1118.8,98.4 1120.2,98 1121.6,98 1123,97.3 1124.4,97.5 1125.8,96.6 1127.2,98 1128.6,97 1130,97.1 1131.4,96 1132.8,97.1 1134.2,96.7 1135.6,97.4 1137,96.1 1138.4,95.9 1139.8,95.5 1141.2,96.2 1142.6,97 1144,97.3 1145.4,96.9 1146.8,96.5 1148.2,105.8 1149.6,105.1 1151,104 1152.4,103 1153.8,101.8 1155.2,99.9 1156.6,99.1 1158,100.3 1159.4,99.9 1160.8,99.6 1162.2,98 1163.6,98.3 1165,100.3 1166.4,98.7 1167.8,99.2 1169.2,98.7 1170.6,99.6 1172,99 1173.4,98.7 1174.8,100.8 1176.2,101 1177.6,99.7 1179,99.3 1180.4,100.6 1181.8,101.4 1183.2,99.7 1184.6,99.9 1186,100 1187.4,102.7 1188.8,102 1190.2,101.7 1191.6,101.1 1193,101.9 1194.4,102.9 1195.8,101.5 1197.2,99.9 1198.6,99.8 1200,100.8 1201.4,100.5 1202.8,99.7 1204.2,99.6 1205.6,100.2 1207,99.4 1208.4,98.7 1209.8,98.7 1211.2,99 1212.6,98.5 1214,98.5 1215.4,97.8 1216.8,99.4 1218.2,99.7 1219.6,99.7 1221,99.2 1222.4,99.4 1223.8,99.7 1225.2,99.9 1226.6,100.5 1228,101.3 1229.4,100.8 1230.8,99.4 1232.2,99.4 1233.6,99.4 1235,99.3 1236.4,98.4 1237.8,96.8 1239.2,97.1 1240.6,98.9 1242,100.3 1243.4,99.3 1244.8,99.1 1246.2,98.3" fill="none" stroke="#0e4b70" stroke-width="1.35" stroke-linejoin="round"/>
<path d="M895.5,99.5 901.5,99.6 907.5,99.8 913.5,99.7 919.5,99.8 925.5,99.7 931.5,99.4 937.5,99.3 943.5,99.3 949.5,99.7 955.5,99.8 961.5,99.8 967.5,99.6 973.5,99.7 979.5,99.7 985.5,99.7 991.5,99.5 995.6,99.7 996.1,99.7 996.6,99.5 997.1,99.6 997.6,99.7 998.1,74.5 998.6,88 999.1,120.2 999.6,152.6 1000.1,176.8 1000.6,191.9 1001.1,198.7 1001.6,201.2 1002.1,199 1002.6,194.7 1003.1,187.5 1003.6,179.5 1004.1,172.4 1004.6,165.5 1005.1,159.5 1005.6,152.8 1006.1,147.4 1006.6,142.6 1007.1,137.7 1007.6,133.9 1008.1,129.9 1008.6,127.1 1009.1,124.2 1009.6,122.1 1010.1,120 1010.6,116.8 1011.1,115 1011.6,113.9 1012.1,113.2 1012.6,111.6 1013.1,109.8 1013.6,108.4 1014.1,107.9 1014.6,107.4 1015.1,107.5 1015.6,106.4 1016.1,105.8 1016.6,105.4 1017.1,105 1017.6,104.4 1018.1,104.6 1018.6,104.3 1019.1,104.2 1019.6,103 1020.1,102.7 1020.6,101.7 1021.1,101.9 1021.6,102.2 1022.1,103.3 1022.6,103.6 1023.1,103.2 1023.6,102.2 1024.1,101.3 1024.6,100.9 1025.1,101 1025.6,100.9 1026.1,101.1 1026.6,100.4 1027.1,100.1 1027.6,99.3 1028.1,99.1 1028.6,99.1 1029.1,99.7 1029.6,100.4 1030.1,100.9 1030.6,101 1031.1,101.3 1031.6,101.1 1032.1,101 1032.6,100.6 1033.1,100.6 1033.6,100.3 1034.1,99.9 1034.6,99.3 1035.1,99 1035.6,99.5 1036.1,99.7 1036.6,99.5 1037.1,99.5 1037.6,100 1039,100.1 1040.4,100.3 1041.8,99.4 1043.2,99 1044.6,98.4 1046,98.4 1047.4,98.2 1048.8,98.4 1050.2,98.6 1051.6,98.1 1053,97.5 1054.4,97.9 1055.8,98.1 1057.2,98.3 1058.6,97.4 1060,97 1061.4,96.2 1062.8,96.2 1064.2,96.8 1065.6,96.6 1067,97.3 1068.4,95.9 1069.8,96.2 1071.2,95.9 1072.6,96.6 1074,96.8 1075.4,95.9 1076.8,95.9 1078.2,95.5 1079.6,96.8 1081,96.6 1082.4,96.9 1083.8,95.6 1085.2,95.7 1086.6,95.2 1088,95.6 1089.4,95.8 1090.8,96.6 1092.2,95.8 1093.6,95.7 1095,96.1 1096.4,95.9 1097.8,95.4 1099.2,94.8 1100.6,94.8 1102,95.1 1103.4,95.4 1104.8,95.2 1106.2,95.5 1107.6,94.7 1109,95.7 1110.4,95.7 1111.8,95.6 1113.2,94.8 1114.6,93.9 1116,94 1117.4,94.5 1118.8,94.2 1120.2,94.5 1121.6,93.5 1123,93.5 1124.4,92.5 1125.8,93.7 1127.2,94.1 1128.6,94.7 1130,93.5 1131.4,93.7 1132.8,92.7 1134.2,93.1 1135.6,93.5 1137,94 1138.4,93.9 1139.8,93.4 1141.2,93.1 1142.6,93.1 1144,93.3 1145.4,93.4 1146.8,93.4 1148.2,106.4 1149.6,106.3 1151,103.5 1152.4,103 1153.8,102.3 1155.2,101.5 1156.6,98.8 1158,98.4 1159.4,98.4 1160.8,99 1162.2,97.2 1163.6,95.7 1165,96.9 1166.4,97.8 1167.8,98 1169.2,97.5 1170.6,99 1172,99.1 1173.4,99.2 1174.8,97.9 1176.2,98.6 1177.6,99.1 1179,99.3 1180.4,98.1 1181.8,96.9 1183.2,97.5 1184.6,98 1186,98.9 1187.4,98.6 1188.8,99.6 1190.2,99.2 1191.6,99.1 1193,98.4 1194.4,97.7 1195.8,98.9 1197.2,98.9 1198.6,99.3 1200,98.7 1201.4,99.2 1202.8,99.4 1204.2,98 1205.6,98.5 1207,99.3 1208.4,101.1 1209.8,100.7 1211.2,100.8 1212.6,99.6 1214,99.9 1215.4,99 1216.8,99.7 1218.2,100 1219.6,100.7 1221,100.2 1222.4,100.5 1223.8,99.3 1225.2,99.3 1226.6,98.3 1228,97.9 1229.4,98.3 1230.8,98.6 1232.2,99.2 1233.6,99.4 1235,98.7 1236.4,98.6 1237.8,97.7 1239.2,97.9 1240.6,97.4 1242,97.7 1243.4,97.7 1244.8,98.1 1246.2,97.4" fill="none" stroke="#0e4b70" stroke-width="1.35" stroke-linejoin="round"/>
<path d="M895.5,99.5 901.5,99.6 907.5,99.8 913.5,99.7 919.5,99.5 925.5,99.4 931.5,99.4 937.5,99.6 943.5,99.6 949.5,99.5 955.5,99.5 961.5,99.4 967.5,99.4 973.5,99.5 979.5,99.7 985.5,99.8 991.5,99.6 995.6,99.2 996.1,99.2 996.6,99.2 997.1,99.4 997.6,98.6 998.1,64.3 998.6,72.3 999.1,98.9 999.6,125.9 1000.1,146 1000.6,157.3 1001.1,162 1001.6,161.8 1002.1,159.6 1002.6,155.9 1003.1,151.4 1003.6,146.1 1004.1,140.9 1004.6,135.6 1005.1,131.1 1005.6,126.2 1006.1,122.4 1006.6,120 1007.1,117 1007.6,114.9 1008.1,112.8 1008.6,111.1 1009.1,108.8 1009.6,106.8 1010.1,105.4 1010.6,104.4 1011.1,103.5 1011.6,102.7 1012.1,102 1012.6,101.2 1013.1,100.4 1013.6,99.6 1014.1,98.9 1014.6,98.2 1015.1,98.1 1015.6,97.5 1016.1,97.1 1016.6,97.5 1017.1,97 1017.6,97 1018.1,96.3 1018.6,95.9 1019.1,95.8 1019.6,95.3 1020.1,95.5 1020.6,95.8 1021.1,96.3 1021.6,96.8 1022.1,97 1022.6,97.1 1023.1,97 1023.6,96.8 1024.1,97.2 1024.6,96.7 1025.1,96.5 1025.6,96.6 1026.1,96.9 1026.6,97.1 1027.1,96.6 1027.6,96.7 1028.1,95.9 1028.6,95.7 1029.1,95.2 1029.6,95.5 1030.1,95.4 1030.6,96 1031.1,95.8 1031.6,95.4 1032.1,94.9 1032.6,94.4 1033.1,94.7 1033.6,94.7 1034.1,95.3 1034.6,94.6 1035.1,94.3 1035.6,94.6 1036.1,95.2 1036.6,95.5 1037.1,94.9 1037.6,95.2 1039,94.8 1040.4,95.2 1041.8,95 1043.2,95.3 1044.6,95 1046,94.8 1047.4,94.3 1048.8,93.9 1050.2,94.3 1051.6,94.6 1053,94.3 1054.4,93.6 1055.8,93.7 1057.2,94.7 1058.6,95 1060,95 1061.4,93.9 1062.8,93.4 1064.2,93.1 1065.6,93.5 1067,93.6 1068.4,93.1 1069.8,93.6 1071.2,93.7 1072.6,93.6 1074,92.6 1075.4,92.8 1076.8,92.3 1078.2,92.6 1079.6,92.7 1081,92.6 1082.4,92.5 1083.8,91.8 1085.2,92.2 1086.6,92.2 1088,93 1089.4,93 1090.8,92.7 1092.2,92.1 1093.6,91.7 1095,91.8 1096.4,92 1097.8,91.9 1099.2,91.9 1100.6,91 1102,90.9 1103.4,90.1 1104.8,90.4 1106.2,90.3 1107.6,90.7 1109,90.2 1110.4,90.2 1111.8,90 1113.2,90.2 1114.6,91.3 1116,91.7 1117.4,91.8 1118.8,90.7 1120.2,90.5 1121.6,90.1 1123,90.7 1124.4,90.7 1125.8,91 1127.2,90.9 1128.6,90.8 1130,90.1 1131.4,90.3 1132.8,89.9 1134.2,90.2 1135.6,89.8 1137,90 1138.4,90.5 1139.8,90.9 1141.2,91.2 1142.6,91 1144,90.6 1145.4,90.7 1146.8,90.3 1148.2,107.4 1149.6,106.3 1151,103.7 1152.4,101.3 1153.8,100.7 1155.2,100.8 1156.6,101.4 1158,99.8 1159.4,99.5 1160.8,99.8 1162.2,101.1 1163.6,102 1165,100.9 1166.4,99.8 1167.8,98.3 1169.2,98.2 1170.6,99.8 1172,100 1173.4,99.9 1174.8,99.6 1176.2,99.2 1177.6,98.9 1179,100.1 1180.4,102 1181.8,101.9 1183.2,102.2 1184.6,101 1186,101 1187.4,98.6 1188.8,99.1 1190.2,99.8 1191.6,101.8 1193,101.5 1194.4,101.9 1195.8,99.9 1197.2,100.1 1198.6,100 1200,100.9 1201.4,99 1202.8,99.9 1204.2,100.4 1205.6,101 1207,100.1 1208.4,100.3 1209.8,101.2 1211.2,101.3 1212.6,102.2 1214,101.2 1215.4,100.4 1216.8,99 1218.2,98 1219.6,97.7 1221,98.1 1222.4,99.7 1223.8,99.5 1225.2,99.3 1226.6,98.2 1228,98.3 1229.4,98.6 1230.8,99.5 1232.2,98.8 1233.6,99.1 1235,100.1 1236.4,100.5 1237.8,100.3 1239.2,98.4 1240.6,97.9 1242,98 1243.4,98.5 1244.8,99.6 1246.2,98.7" fill="none" stroke="#0e4b70" stroke-width="1.35" stroke-linejoin="round"/>
<path d="M895.5,99.6 901.5,99.8 907.5,99.9 913.5,99.7 919.5,99.7 925.5,99.6 931.5,99.8 937.5,99.9 943.5,99.8 949.5,99.6 955.5,99.4 961.5,99.1 967.5,98.9 973.5,98.9 979.5,99.4 985.5,99.6 991.5,99.7 995.6,99.8 996.1,99.8 996.6,99.9 997.1,99.9 997.6,100.6 998.1,56.2 998.6,56.9 999.1,75.8 999.6,96 1000.1,110.6 1000.6,119.1 1001.1,123.8 1001.6,124.7 1002.1,124 1002.6,121.4 1003.1,118 1003.6,114.8 1004.1,112.2 1004.6,109.7 1005.1,108.7 1005.6,106.4 1006.1,104.6 1006.6,102.5 1007.1,101.6 1007.6,100.5 1008.1,99.2 1008.6,98.3 1009.1,97.8 1009.6,97.5 1010.1,96.6 1010.6,95.9 1011.1,95.3 1011.6,95.5 1012.1,94.3 1012.6,93.4 1013.1,92.5 1013.6,93.5 1014.1,93.8 1014.6,94.3 1015.1,94.6 1015.6,94.3 1016.1,94 1016.6,94.3 1017.1,94 1017.6,94.1 1018.1,94.1 1018.6,94.7 1019.1,93.5 1019.6,93.1 1020.1,92.8 1020.6,93.4 1021.1,93.4 1021.6,93.6 1022.1,93.5 1022.6,93.3 1023.1,93.2 1023.6,93.3 1024.1,92.9 1024.6,93 1025.1,93 1025.6,92.8 1026.1,92.6 1026.6,92.6 1027.1,92.2 1027.6,92.5 1028.1,92.6 1028.6,93 1029.1,92.5 1029.6,92.6 1030.1,92.8 1030.6,93 1031.1,92.6 1031.6,93 1032.1,92.7 1032.6,93.3 1033.1,92.3 1033.6,92.1 1034.1,91.9 1034.6,92.5 1035.1,92.6 1035.6,92.5 1036.1,92.2 1036.6,92.6 1037.1,91.6 1037.6,91.7 1039,91.5 1040.4,92.4 1041.8,93 1043.2,92.8 1044.6,92.9 1046,92.3 1047.4,91.7 1048.8,90.5 1050.2,91 1051.6,91.6 1053,92.2 1054.4,91.1 1055.8,90.6 1057.2,91 1058.6,91 1060,91.7 1061.4,91.1 1062.8,90.4 1064.2,89.8 1065.6,89.8 1067,90.5 1068.4,90.5 1069.8,90.5 1071.2,90.9 1072.6,90.3 1074,89.9 1075.4,90.2 1076.8,89.9 1078.2,90.5 1079.6,90.5 1081,90.7 1082.4,90.4 1083.8,90.1 1085.2,90 1086.6,90 1088,89.7 1089.4,90 1090.8,89.2 1092.2,89.2 1093.6,89.2 1095,89.3 1096.4,88.8 1097.8,88.4 1099.2,89.1 1100.6,89.2 1102,89.5 1103.4,89.8 1104.8,90.2 1106.2,89.4 1107.6,88.9 1109,89.1 1110.4,89.6 1111.8,90 1113.2,90 1114.6,90.2 1116,89.6 1117.4,89.2 1118.8,89.2 1120.2,89.1 1121.6,89.3 1123,89.6 1124.4,89.4 1125.8,89.2 1127.2,89.2 1128.6,88.8 1130,88.6 1131.4,88.2 1132.8,88.6 1134.2,88.6 1135.6,88.6 1137,88.3 1138.4,88.5 1139.8,88.4 1141.2,88.4 1142.6,88.3 1144,87.8 1145.4,88.8 1146.8,88.7 1148.2,109.6 1149.6,108.3 1151,105.3 1152.4,103.2 1153.8,102.9 1155.2,102.5 1156.6,102.6 1158,102 1159.4,101.4 1160.8,101.6 1162.2,101.2 1163.6,102.2 1165,100.3 1166.4,100.5 1167.8,99.9 1169.2,100 1170.6,100.6 1172,100.4 1173.4,100.7 1174.8,99.1 1176.2,99.2 1177.6,100.1 1179,100.2 1180.4,100.2 1181.8,100.7 1183.2,99.7 1184.6,98.3 1186,97 1187.4,97.9 1188.8,98.8 1190.2,99.9 1191.6,99.3 1193,98.4 1194.4,98.2 1195.8,98.4 1197.2,98.4 1198.6,98.1 1200,97.6 1201.4,97.9 1202.8,97.8 1204.2,99 1205.6,98.2 1207,97.8 1208.4,97.1 1209.8,98.2 1211.2,98.8 1212.6,99.3 1214,100.1 1215.4,101.2 1216.8,100.9 1218.2,99.8 1219.6,99.8 1221,100 1222.4,101.6 1223.8,101.5 1225.2,101.4 1226.6,100.3 1228,99.5 1229.4,99.2 1230.8,98.5 1232.2,98 1233.6,99.1 1235,99.5 1236.4,99.6 1237.8,98.8 1239.2,98.3 1240.6,99.2 1242,98.4 1243.4,98.5 1244.8,97.5 1246.2,97.9" fill="none" stroke="#0e4b70" stroke-width="1.35" stroke-linejoin="round"/>
<path d="M895.5,99.9 901.5,99.8 907.5,99.6 913.5,99.3 919.5,99 925.5,99 931.5,99.1 937.5,99.4 943.5,99.9 949.5,99.9 955.5,99.8 961.5,99.4 967.5,99.6 973.5,99.6 979.5,99.7 985.5,99.7 991.5,99.7 995.6,99.6 996.1,99.6 996.6,99.6 997.1,99.7 997.6,99.5 998.1,46.9 998.6,40.4 999.1,52.3 999.6,65.4 1000.1,75.4 1000.6,82 1001.1,86 1001.6,87.5 1002.1,87.1 1002.6,87.8 1003.1,87.9 1003.6,88.1 1004.1,86.9 1004.6,85.8 1005.1,85.3 1005.6,85.2 1006.1,85.1 1006.6,85.6 1007.1,85.5 1007.6,85.6 1008.1,85.6 1008.6,85.9 1009.1,86.8 1009.6,86.3 1010.1,86.1 1010.6,86.4 1011.1,86.3 1011.6,87.8 1012.1,87.4 1012.6,87.4 1013.1,87.3 1013.6,88.1 1014.1,88.8 1014.6,88.4 1015.1,88.6 1015.6,88.3 1016.1,88.5 1016.6,88 1017.1,88.3 1017.6,88.8 1018.1,89 1018.6,89.3 1019.1,89.5 1019.6,89.3 1020.1,88.7 1020.6,88.5 1021.1,89 1021.6,89.7 1022.1,89.3 1022.6,89.8 1023.1,90.1 1023.6,90.7 1024.1,89.9 1024.6,89.9 1025.1,89.8 1025.6,90.4 1026.1,90.3 1026.6,90.7 1027.1,90.3 1027.6,90.7 1028.1,89.6 1028.6,89.5 1029.1,88.9 1029.6,89 1030.1,89.5 1030.6,88.7 1031.1,89.1 1031.6,88.7 1032.1,89 1032.6,89.1 1033.1,89.4 1033.6,89.5 1034.1,90.1 1034.6,90.1 1035.1,90 1035.6,89.6 1036.1,89.7 1036.6,90.5 1037.1,90.7 1037.6,90.1 1039,90 1040.4,89.7 1041.8,89.9 1043.2,89.4 1044.6,87.9 1046,87.6 1047.4,87.9 1048.8,88.1 1050.2,87.9 1051.6,87.1 1053,87.7 1054.4,88.5 1055.8,87.6 1057.2,87.5 1058.6,87.3 1060,87.5 1061.4,87.5 1062.8,87.9 1064.2,88.8 1065.6,89.1 1067,87.6 1068.4,87 1069.8,87 1071.2,87.8 1072.6,87.8 1074,88.7 1075.4,88.8 1076.8,88.5 1078.2,87.5 1079.6,87.2 1081,87.5 1082.4,87.1 1083.8,87.2 1085.2,87.2 1086.6,86.4 1088,86 1089.4,86.1 1090.8,86.4 1092.2,86.9 1093.6,87.2 1095,87.2 1096.4,86.6 1097.8,86.9 1099.2,87.7 1100.6,87.4 1102,87 1103.4,86.3 1104.8,85.9 1106.2,85.9 1107.6,86.3 1109,86.8 1110.4,86.5 1111.8,86.3 1113.2,85.9 1114.6,86 1116,86 1117.4,86.1 1118.8,86.3 1120.2,85.4 1121.6,85.1 1123,85.3 1124.4,86.4 1125.8,86.7 1127.2,85.9 1128.6,84.9 1130,84.8 1131.4,85.2 1132.8,85 1134.2,84.9 1135.6,84.6 1137,85.2 1138.4,84.5 1139.8,84.3 1141.2,83.8 1142.6,84.8 1144,84.6 1145.4,84.8 1146.8,84.7 1148.2,109.6 1149.6,109.8 1151,107.1 1152.4,103.4 1153.8,102.8 1155.2,101.4 1156.6,100.4 1158,100.7 1159.4,99.7 1160.8,101.2 1162.2,99.6 1163.6,99.7 1165,98.8 1166.4,98.6 1167.8,98.1 1169.2,97.9 1170.6,99.2 1172,98.3 1173.4,98.4 1174.8,97 1176.2,97.7 1177.6,98.5 1179,98.9 1180.4,99.1 1181.8,98.4 1183.2,98.4 1184.6,99.1 1186,99.8 1187.4,99.3 1188.8,97.7 1190.2,98.5 1191.6,99.4 1193,100.8 1194.4,100.1 1195.8,99.5 1197.2,98.9 1198.6,98.5 1200,98.7 1201.4,99.1 1202.8,98.6 1204.2,98.4 1205.6,98.5 1207,99.3 1208.4,99.7 1209.8,98.6 1211.2,98.8 1212.6,98.6 1214,99.3 1215.4,98.1 1216.8,98.1 1218.2,98.3 1219.6,99.7 1221,99.5 1222.4,100.2 1223.8,99.5 1225.2,99.1 1226.6,99 1228,98.9 1229.4,99.8 1230.8,99.5 1232.2,99.5 1233.6,100 1235,100.8 1236.4,101.6 1237.8,101.9 1239.2,101.4 1240.6,101.4 1242,101.2 1243.4,101 1244.8,100.8 1246.2,100" fill="none" stroke="#0e4b70" stroke-width="1.35" stroke-linejoin="round"/>
<path d="M895.5,99.3 901.5,99.3 907.5,99.4 913.5,99.5 919.5,99.3 925.5,99.6 931.5,99.4 937.5,99.7 943.5,99.5 949.5,100 955.5,99.8 961.5,99.7 967.5,99.7 973.5,99.8 979.5,99.9 985.5,99.8 991.5,99.8 995.6,99.8 996.1,99.8 996.6,99.4 997.1,99.2 997.6,98.6 998.1,37.8 998.6,22.2 999.1,25 999.6,32.9 1000.1,40.1 1000.6,45.9 1001.1,49.8 1001.6,52.8 1002.1,55.9 1002.6,58.5 1003.1,61.3 1003.6,62.8 1004.1,64.6 1004.6,67 1005.1,68.5 1005.6,69.4 1006.1,70.4 1006.6,71.4 1007.1,71.9 1007.6,72.5 1008.1,73.9 1008.6,75.6 1009.1,76.3 1009.6,77.9 1010.1,78.7 1010.6,79.2 1011.1,79.5 1011.6,80.3 1012.1,81.5 1012.6,82.5 1013.1,83 1013.6,82 1014.1,81.6 1014.6,81.9 1015.1,83.5 1015.6,83.3 1016.1,84.3 1016.6,84.8 1017.1,85.1 1017.6,84.8 1018.1,85.1 1018.6,85 1019.1,85.3 1019.6,85.3 1020.1,85.3 1020.6,85.1 1021.1,85.2 1021.6,85.4 1022.1,85.8 1022.6,85.6 1023.1,86.5 1023.6,86.4 1024.1,86.2 1024.6,85.8 1025.1,86.1 1025.6,86.2 1026.1,85.8 1026.6,85.3 1027.1,86.1 1027.6,86 1028.1,86.3 1028.6,85.6 1029.1,86.3 1029.6,86 1030.1,85.9 1030.6,86.3 1031.1,86.5 1031.6,86.5 1032.1,86.3 1032.6,85.4 1033.1,85.9 1033.6,85.4 1034.1,86.5 1034.6,85.9 1035.1,86.3 1035.6,85.8 1036.1,85.9 1036.6,85.3 1037.1,86.3 1037.6,85.5 1039,85.9 1040.4,85.4 1041.8,85.6 1043.2,85 1044.6,84.9 1046,84.2 1047.4,84 1048.8,83.9 1050.2,83.8 1051.6,84.8 1053,84.3 1054.4,85 1055.8,84.8 1057.2,84.6 1058.6,84.8 1060,84.6 1061.4,84.4 1062.8,84.9 1064.2,85.1 1065.6,85.7 1067,85.4 1068.4,84.8 1069.8,83.8 1071.2,84 1072.6,84.3 1074,84.7 1075.4,84.8 1076.8,84.6 1078.2,84.9 1079.6,84.7 1081,84.5 1082.4,83.5 1083.8,82.8 1085.2,82.8 1086.6,83.3 1088,83.1 1089.4,82.9 1090.8,81.9 1092.2,82.3 1093.6,82.3 1095,83 1096.4,83.6 1097.8,83.7 1099.2,83.6 1100.6,83.3 1102,83.1 1103.4,83.5 1104.8,82.9 1106.2,82.5 1107.6,82.3 1109,83.4 1110.4,83.1 1111.8,83.2 1113.2,83.2 1114.6,83.5 1116,82.4 1117.4,81.5 1118.8,81.2 1120.2,81.7 1121.6,81.3 1123,82.5 1124.4,82.7 1125.8,82.5 1127.2,81.5 1128.6,81.1 1130,81.3 1131.4,81.8 1132.8,82.4 1134.2,82.5 1135.6,81.3 1137,81.2 1138.4,81.9 1139.8,81.7 1141.2,82.1 1142.6,81.8 1144,81.3 1145.4,79.8 1146.8,79 1148.2,108.1 1149.6,108.2 1151,104.9 1152.4,102.3 1153.8,100.5 1155.2,99.9 1156.6,99 1158,99.9 1159.4,98.8 1160.8,99.8 1162.2,98.6 1163.6,98.2 1165,97.9 1166.4,99.4 1167.8,98.2 1169.2,97.9 1170.6,97.1 1172,98.2 1173.4,98.3 1174.8,98.8 1176.2,99 1177.6,98.3 1179,100 1180.4,100.1 1181.8,99.7 1183.2,98.3 1184.6,98.2 1186,99 1187.4,99.1 1188.8,100.3 1190.2,100.7 1191.6,100.9 1193,100.2 1194.4,99.9 1195.8,100.1 1197.2,100.8 1198.6,101.6 1200,101 1201.4,98.9 1202.8,97.9 1204.2,98.3 1205.6,97.5 1207,97.4 1208.4,97.2 1209.8,98.8 1211.2,98.1 1212.6,98.6 1214,99.8 1215.4,100.9 1216.8,100.6 1218.2,100.4 1219.6,99.9 1221,100.7 1222.4,99.4 1223.8,100.3 1225.2,98.4 1226.6,99.6 1228,99.4 1229.4,100.3 1230.8,100.7 1232.2,101.6 1233.6,101.6 1235,102.1 1236.4,101.2 1237.8,101.9 1239.2,100.7 1240.6,101 1242,100.6 1243.4,101.2 1244.8,100.7 1246.2,100.1" fill="none" stroke="#0e4b70" stroke-width="1.35" stroke-linejoin="round"/>
<path d="M895.5,99.4 901.5,99.3 907.5,99.2 913.5,99.2 919.5,99.3 925.5,99.3 931.5,99.3 937.5,99.1 943.5,99.4 949.5,99.3 955.5,99.4 961.5,99.3 967.5,99.2 973.5,99.4 979.5,99.5 985.5,99.8 991.5,99.7 995.6,99.7 996.1,99.8 996.6,99.9 997.1,99.8 997.6,100.1 998.1,29.4 998.6,1.9 999.1,-3.7 999.6,-2.3 1000.1,2.6 1000.6,8.5 1001.1,15.2 1001.6,20.8 1002.1,25.7 1002.6,30.6 1003.1,35.6 1003.6,39.9 1004.1,43.9 1004.6,48 1005.1,51.5 1005.6,54.9 1006.1,58.3 1006.6,60.1 1007.1,62.2 1007.6,64.4 1008.1,66.3 1008.6,66.3 1009.1,68.3 1009.6,70.1 1010.1,71.9 1010.6,72.5 1011.1,73.5 1011.6,73.9 1012.1,74.3 1012.6,74.7 1013.1,75.6 1013.6,76.4 1014.1,76.6 1014.6,76.7 1015.1,76.1 1015.6,77 1016.1,77.1 1016.6,78 1017.1,78.5 1017.6,79.3 1018.1,79.2 1018.6,78.4 1019.1,78.6 1019.6,78 1020.1,78.8 1020.6,79.1 1021.1,79.9 1021.6,80.3 1022.1,80.6 1022.6,80.6 1023.1,80.1 1023.6,79.9 1024.1,80.2 1024.6,80.5 1025.1,80.5 1025.6,80.9 1026.1,79.7 1026.6,80.2 1027.1,80.3 1027.6,80.3 1028.1,79.3 1028.6,78.9 1029.1,79.3 1029.6,79.9 1030.1,80.3 1030.6,79.8 1031.1,79.2 1031.6,78.7 1032.1,78.9 1032.6,79.3 1033.1,79.3 1033.6,79.2 1034.1,79.3 1034.6,79.5 1035.1,79.4 1035.6,79 1036.1,78.6 1036.6,78.5 1037.1,79 1037.6,79 1039,78.8 1040.4,79.2 1041.8,79.5 1043.2,79.8 1044.6,79.1 1046,78.6 1047.4,78.7 1048.8,79 1050.2,78.7 1051.6,78.5 1053,78.9 1054.4,78.9 1055.8,79 1057.2,78.4 1058.6,78.3 1060,78.1 1061.4,77.9 1062.8,77.1 1064.2,77.1 1065.6,76.6 1067,77.3 1068.4,77.7 1069.8,78.8 1071.2,78.9 1072.6,78.1 1074,77.3 1075.4,77.1 1076.8,77.3 1078.2,76.5 1079.6,76.6 1081,76.5 1082.4,77.5 1083.8,77.6 1085.2,77.8 1086.6,77.7 1088,77.4 1089.4,76.8 1090.8,75.1 1092.2,75.2 1093.6,75 1095,75.6 1096.4,75.9 1097.8,76.1 1099.2,76.2 1100.6,75.8 1102,75.4 1103.4,75.2 1104.8,75.4 1106.2,75.5 1107.6,75.7 1109,74.8 1110.4,75 1111.8,75.5 1113.2,76 1114.6,75.3 1116,75 1117.4,74.7 1118.8,74.3 1120.2,73.8 1121.6,73.6 1123,74.7 1124.4,74.7 1125.8,74.6 1127.2,74.3 1128.6,72.9 1130,72.5 1131.4,72.4 1132.8,72.9 1134.2,72.6 1135.6,72 1137,71.9 1138.4,71.5 1139.8,71.1 1141.2,70.4 1142.6,71.1 1144,71.5 1145.4,71 1146.8,70.8 1148.2,109.2 1149.6,111.5 1151,106.3 1152.4,104 1153.8,102 1155.2,101.4 1156.6,101.7 1158,101.5 1159.4,102.1 1160.8,102 1162.2,101.2 1163.6,101.7 1165,101.2 1166.4,100.8 1167.8,100.2 1169.2,99.9 1170.6,99.8 1172,99.3 1173.4,100.2 1174.8,100.8 1176.2,100 1177.6,98.2 1179,97.9 1180.4,98.5 1181.8,99.6 1183.2,99.5 1184.6,98.4 1186,98.1 1187.4,97.8 1188.8,97.3 1190.2,97.1 1191.6,97.6 1193,98.9 1194.4,100.2 1195.8,98.1 1197.2,98.9 1198.6,97.4 1200,98.7 1201.4,98 1202.8,98.6 1204.2,98.5 1205.6,98.9 1207,98.7 1208.4,99.9 1209.8,100.1 1211.2,99.8 1212.6,99.3 1214,99.4 1215.4,101.2 1216.8,100.4 1218.2,100.6 1219.6,98 1221,98.7 1222.4,98.5 1223.8,101.8 1225.2,102.1 1226.6,103.1 1228,101.5 1229.4,100.8 1230.8,100.4 1232.2,100.9 1233.6,100.9 1235,101 1236.4,99.6 1237.8,98.8 1239.2,97.8 1240.6,98.1 1242,99.5 1243.4,99.4 1244.8,99.5 1246.2,99.8" fill="none" stroke="#0e4b70" stroke-width="1.35" stroke-linejoin="round"/>
</g>
<g fill="none">
<path d="M1265,98.7 1271,98.6 1277,98.5 1283,98.5 1289,98.4 1295,98.3 1301,98.4 1307,98.4 1313,98.6 1319,98.5 1325,98.5 1331,98.4 1337,98.4 1343,98.3 1349,98.4 1355,98.5 1361,98.5 1367,98.4 1373,98.4 1377.5,98.7 1378,98.6 1378.5,98.7 1379,98.7 1379.5,99.1 1380,99.8 1380.5,99.1 1381,97.7 1381.5,97.5 1382,98 1382.5,98.5 1383,99.6 1383.5,100.8 1384,101.6 1384.5,101.8 1385,101.5 1385.5,101.3 1386,101.4 1386.5,101.7 1387,101.7 1387.5,101.8 1388,101.8 1388.5,102.1 1389,102.6 1389.5,103.1 1390,102.6 1390.5,101.6 1391,100.7 1391.5,100.5 1392,100.9 1392.5,100.9 1393,101.1 1393.5,100.9 1394,101.2 1394.5,101.5 1395,101.5 1395.5,101.7 1396,101.8 1396.5,102.1 1397,102.1 1397.5,101.9 1398,101.8 1398.5,101.4 1399,101.9 1399.5,102.2 1400,102.1 1400.5,101.9 1401,101.4 1401.5,102.1 1402,101.8 1402.5,101.8 1403,101.2 1403.5,101.2 1404,101.3 1404.5,101.4 1405,101.5 1405.5,101.3 1406,101.4 1406.5,101.3 1407,101 1407.5,100.9 1408,100.7 1408.5,100.6 1409,100.5 1409.5,100.8 1410,101.8 1410.5,101.8 1411,102.2 1411.5,102.4 1412,102.9 1412.5,103 1413,102.8 1413.5,102.5 1414,102.3 1414.5,102.5 1415,102.9 1415.5,102.7 1416,101.9 1416.5,101.9 1417,102 1417.5,102 1418,101.7 1418.5,101.9 1419,101.9 1419.5,102.2 1420.9,102.2 1422.3,101.9 1423.7,101.5 1425.1,101.3 1426.5,101.9 1427.9,102.3 1429.3,101.6 1430.7,101.5 1432.1,101.4 1433.5,102.2 1434.9,102.6 1436.3,102.2 1437.7,101.8 1439.1,101.2 1440.5,101.5 1441.9,101.4 1443.3,102.1 1444.7,102.2 1446.1,102.9 1447.5,102.2 1448.9,101.8 1450.3,102 1451.7,102.2 1453.1,102.3 1454.5,101.9 1455.9,102.6 1457.3,102.9 1458.7,102.9 1460.1,102.7 1461.5,102.6 1462.9,102.5 1464.3,102.7 1465.7,102.5 1467.1,102.8 1468.5,102 1469.9,102.5 1471.3,102.2 1472.7,102.8 1474.1,102.6 1475.5,102.9 1476.9,103.1 1478.3,103 1479.7,102.8 1481.1,102.4 1482.5,102.5 1483.9,102 1485.3,101.7 1486.7,101.8 1488.1,101.9 1489.5,102 1490.9,101.5 1492.3,102.3 1493.7,102.5 1495.1,103.3 1496.5,102.7 1497.9,102.4 1499.3,101.9 1500.7,101.8 1502.1,102 1503.5,101.9 1504.9,102.2 1506.3,102.4 1507.7,102.5 1509.1,102.9 1510.5,103 1511.9,102.6 1513.3,102 1514.7,101.6 1516.1,101.7 1517.5,101.3 1518.9,101.3 1520.3,101.5 1521.7,101.6 1523.1,101.8 1524.5,101.3 1525.9,101.4 1527.3,101.9 1528.7,101.8 1530.1,101.7 1531.5,101.3 1532.9,101.3 1534.3,101.5 1535.7,101.6 1537.1,102.3 1538.5,102.2 1539.9,101.9 1541.3,101.8 1542.7,101.7 1544.1,101.8 1545.5,102.6 1546.9,102.8 1548.3,102.6 1549.7,102.3 1551.1,101.1 1552.5,100 1553.9,99.6 1555.3,99 1556.7,98.8 1558.1,98.6 1559.5,98.6 1560.9,98.3 1562.3,98.3 1563.7,98.1 1565.1,98.6 1566.5,98.4 1567.9,99.2 1569.3,99.1 1570.7,99.1 1572.1,98.9 1573.5,98.6 1574.9,98.3 1576.3,98.6 1577.7,99 1579.1,99.1 1580.5,99.1 1581.9,98.8 1583.3,98.9 1584.7,98.7 1586.1,98.4 1587.5,98.3 1588.9,97.9 1590.3,98.1 1591.7,98 1593.1,98.3 1594.5,98.4 1595.9,98.8 1597.3,98.6 1598.7,98.1 1600.1,97.8 1601.5,97.5 1602.9,97.3 1604.3,97.6 1605.7,98.1 1607.1,98 1608.5,98 1609.9,98 1611.3,98.6 1612.7,98.3 1614.1,98.5 1615.5,98.1 1616.9,98.5 1618.3,98.7 1619.7,98.4 1621.1,98.5 1622.5,98.2 1623.9,98.8 1625.3,98.3 1626.7,98.1 1628.1,97.9 1629.5,98.1 1630.9,98.2 1632.3,98.5 1633.7,98.2 1635.1,97.9 1636.5,98.2 1637.9,98.4 1639.3,98.5 1640.7,98.6 1642.1,98.1 1643.5,97.6 1644.9,97.9 1646.3,98.5 1647.7,98.9 1649.1,98.4 1650.5,98.2 1651.9,98.9 1653.3,99.1 1654.7,99.4 1656.1,99.1 1657.5,98.9" fill="none" stroke="#6aa7cc" stroke-width="1.5" stroke-linejoin="round"/>
<path d="M1265,98.6 1271,98.7 1277,98.6 1283,98.6 1289,98.6 1295,98.4 1301,98.5 1307,98.5 1313,98.6 1319,98.7 1325,98.8 1331,98.8 1337,98.6 1343,98.4 1349,98.5 1355,98.6 1361,98.7 1367,98.6 1373,98.5 1377.5,98.5 1378,98.6 1378.5,98.5 1379,98.3 1379.5,97.5 1380,98.4 1380.5,99.3 1381,96.9 1381.5,96.6 1382,96.7 1382.5,98.5 1383,99.2 1383.5,100.1 1384,100.2 1384.5,100.2 1385,100.9 1385.5,101.2 1386,101.7 1386.5,102.2 1387,102.6 1387.5,103.8 1388,104.3 1388.5,104.9 1389,104.9 1389.5,105.7 1390,106.6 1390.5,107 1391,107.3 1391.5,107.2 1392,107.5 1392.5,107.2 1393,107.2 1393.5,107.5 1394,107.5 1394.5,107.3 1395,107.5 1395.5,107.6 1396,107.8 1396.5,106.9 1397,106.5 1397.5,106.7 1398,106.9 1398.5,107 1399,106.8 1399.5,106.3 1400,106.4 1400.5,106.4 1401,107 1401.5,106.5 1402,106.4 1402.5,105.7 1403,105.5 1403.5,105.6 1404,105.6 1404.5,105.5 1405,104.8 1405.5,104.9 1406,104.6 1406.5,104.8 1407,104.7 1407.5,104.7 1408,104.6 1408.5,104.9 1409,105 1409.5,104.7 1410,104.6 1410.5,104.7 1411,104.2 1411.5,103.7 1412,103.1 1412.5,103.4 1413,102.9 1413.5,103.2 1414,103.4 1414.5,103.7 1415,104 1415.5,103.7 1416,103.6 1416.5,103.4 1417,103.3 1417.5,103.2 1418,103.3 1418.5,103.5 1419,103.8 1419.5,103.4 1420.9,103.4 1422.3,102.6 1423.7,102.6 1425.1,102.4 1426.5,102.9 1427.9,102.8 1429.3,103.1 1430.7,103 1432.1,103.3 1433.5,103.3 1434.9,102.7 1436.3,101.9 1437.7,101.6 1439.1,101.6 1440.5,101.6 1441.9,101.5 1443.3,101.2 1444.7,101.8 1446.1,101.4 1447.5,101.6 1448.9,101.5 1450.3,101.2 1451.7,101.8 1453.1,101.6 1454.5,102 1455.9,101.4 1457.3,101.1 1458.7,100.9 1460.1,101.3 1461.5,101.4 1462.9,101.8 1464.3,101.3 1465.7,101.3 1467.1,101.9 1468.5,101.7 1469.9,101.5 1471.3,100.9 1472.7,101.2 1474.1,101.6 1475.5,102.5 1476.9,102.6 1478.3,102.4 1479.7,101.5 1481.1,101.9 1482.5,101.6 1483.9,101.9 1485.3,101.7 1486.7,101.8 1488.1,101.3 1489.5,101.5 1490.9,102.1 1492.3,102.1 1493.7,102 1495.1,102 1496.5,101.9 1497.9,101.6 1499.3,100.9 1500.7,101 1502.1,101.2 1503.5,101.4 1504.9,101.3 1506.3,100.9 1507.7,100.8 1509.1,100.9 1510.5,101.6 1511.9,101.8 1513.3,101.8 1514.7,101.9 1516.1,102.3 1517.5,102.1 1518.9,101.9 1520.3,101.9 1521.7,102.2 1523.1,102 1524.5,101.9 1525.9,101.8 1527.3,102.2 1528.7,101.9 1530.1,102.2 1531.5,101.8 1532.9,101.8 1534.3,101.9 1535.7,102 1537.1,101.8 1538.5,102.2 1539.9,101.6 1541.3,101.7 1542.7,101.1 1544.1,101.5 1545.5,102 1546.9,102.1 1548.3,102.4 1549.7,103 1551.1,102.3 1552.5,101.5 1553.9,100.8 1555.3,99.2 1556.7,98.1 1558.1,97.7 1559.5,98.1 1560.9,98.3 1562.3,98.2 1563.7,97.9 1565.1,97.7 1566.5,97.9 1567.9,97.5 1569.3,97.8 1570.7,97.9 1572.1,98.5 1573.5,98.4 1574.9,98.2 1576.3,98.3 1577.7,98.6 1579.1,99.1 1580.5,99.3 1581.9,99 1583.3,98.7 1584.7,99.1 1586.1,99.4 1587.5,99.5 1588.9,98.7 1590.3,98.5 1591.7,98.2 1593.1,99.2 1594.5,99.4 1595.9,99.7 1597.3,99.4 1598.7,99.9 1600.1,100.4 1601.5,100.1 1602.9,99.7 1604.3,98.9 1605.7,98.7 1607.1,98.8 1608.5,99.7 1609.9,100.5 1611.3,100.2 1612.7,99.5 1614.1,99.1 1615.5,99.3 1616.9,98.9 1618.3,98.3 1619.7,98.4 1621.1,98.8 1622.5,99.7 1623.9,99.2 1625.3,99.5 1626.7,98.9 1628.1,98.8 1629.5,98.9 1630.9,99.2 1632.3,99 1633.7,98.9 1635.1,98.5 1636.5,98.1 1637.9,98 1639.3,98.7 1640.7,99.3 1642.1,98.8 1643.5,98.8 1644.9,98.7 1646.3,98.9 1647.7,98 1649.1,98.1 1650.5,98.6 1651.9,99.5 1653.3,98.7 1654.7,98.2 1656.1,98.4 1657.5,99" fill="none" stroke="#6aa7cc" stroke-width="1.5" stroke-linejoin="round"/>
<path d="M1265,98.9 1271,98.7 1277,98.7 1283,98.6 1289,98.6 1295,98.6 1301,98.5 1307,98.4 1313,98.3 1319,98.4 1325,98.4 1331,98.5 1337,98.5 1343,98.7 1349,98.6 1355,98.7 1361,98.4 1367,98.5 1373,98.4 1377.5,98.6 1378,98.7 1378.5,98.7 1379,98.6 1379.5,98.5 1380,98.8 1380.5,99.4 1381,96.5 1381.5,96.3 1382,97 1382.5,97.2 1383,97.6 1383.5,98 1384,98.9 1384.5,99.7 1385,105.1 1385.5,127.5 1386,163.7 1386.5,205.7 1387,245.4 1387.5,278.2 1388,302.1 1388.5,317.4 1389,325.1 1389.5,325.4 1390,320.8 1390.5,312 1391,300.7 1391.5,288.1 1392,274.7 1392.5,261.9 1393,249.1 1393.5,237.6 1394,225.9 1394.5,215.1 1395,205.4 1395.5,196.9 1396,189.1 1396.5,181.8 1397,175.3 1397.5,168.8 1398,163.3 1398.5,158.3 1399,154.1 1399.5,150.6 1400,146.7 1400.5,143.6 1401,140.7 1401.5,138.4 1402,136.3 1402.5,133.8 1403,132.3 1403.5,130.9 1404,129.7 1404.5,128.1 1405,126.4 1405.5,125 1406,123.9 1406.5,123.2 1407,121.4 1407.5,120.5 1408,118.9 1408.5,118.8 1409,118 1409.5,117.9 1410,117.3 1410.5,116.5 1411,115.5 1411.5,114.8 1412,114.7 1412.5,114.4 1413,113.7 1413.5,112.7 1414,112.6 1414.5,112 1415,111.7 1415.5,111 1416,110.4 1416.5,110.2 1417,110.1 1417.5,110.2 1418,110.2 1418.5,109.8 1419,109.1 1419.5,108.6 1420.9,107.8 1422.3,108 1423.7,107 1425.1,105.8 1426.5,105 1427.9,104.8 1429.3,104.4 1430.7,104.3 1432.1,104.1 1433.5,103.7 1434.9,103.4 1436.3,103.6 1437.7,104.2 1439.1,104.4 1440.5,104.2 1441.9,103.8 1443.3,103.4 1444.7,102.5 1446.1,102.4 1447.5,102.5 1448.9,102.9 1450.3,103.5 1451.7,102.8 1453.1,102 1454.5,101.5 1455.9,101.7 1457.3,101.6 1458.7,101 1460.1,100.5 1461.5,101 1462.9,101 1464.3,100.7 1465.7,100.4 1467.1,100.3 1468.5,100.3 1469.9,100.6 1471.3,100.6 1472.7,100.8 1474.1,99.9 1475.5,100.5 1476.9,100.4 1478.3,100.9 1479.7,100.3 1481.1,100.6 1482.5,100.4 1483.9,100.8 1485.3,100.7 1486.7,101.4 1488.1,101.1 1489.5,100.8 1490.9,100.7 1492.3,101.5 1493.7,101.3 1495.1,101.6 1496.5,100.9 1497.9,101.3 1499.3,101.4 1500.7,101.5 1502.1,101.5 1503.5,101.4 1504.9,101.3 1506.3,101.1 1507.7,100.5 1509.1,100.6 1510.5,100.7 1511.9,100.9 1513.3,101.2 1514.7,101.4 1516.1,101.7 1517.5,102.1 1518.9,101.4 1520.3,101.3 1521.7,101.2 1523.1,101.8 1524.5,101.2 1525.9,101.3 1527.3,101.6 1528.7,102.1 1530.1,101.7 1531.5,101.5 1532.9,101.4 1534.3,101.9 1535.7,102 1537.1,101.7 1538.5,100.9 1539.9,100.7 1541.3,100.8 1542.7,100.7 1544.1,100.9 1545.5,100.7 1546.9,100.4 1548.3,100.5 1549.7,101.9 1551.1,101.1 1552.5,99.5 1553.9,99.3 1555.3,99 1556.7,99.4 1558.1,99.3 1559.5,99.3 1560.9,99.1 1562.3,99.5 1563.7,99.3 1565.1,99.6 1566.5,99.6 1567.9,99.6 1569.3,99.2 1570.7,98.4 1572.1,98.8 1573.5,98.7 1574.9,98.5 1576.3,98.5 1577.7,98.8 1579.1,98.8 1580.5,98.7 1581.9,98.4 1583.3,99.3 1584.7,99.5 1586.1,99.3 1587.5,98.5 1588.9,97.8 1590.3,97.9 1591.7,98.2 1593.1,98.3 1594.5,98.1 1595.9,97.8 1597.3,97.4 1598.7,97.7 1600.1,98.4 1601.5,98.7 1602.9,98.3 1604.3,98 1605.7,98 1607.1,97.6 1608.5,97.9 1609.9,97.9 1611.3,98.4 1612.7,97.4 1614.1,97.7 1615.5,98.1 1616.9,98.2 1618.3,98.4 1619.7,98.3 1621.1,98.4 1622.5,97.6 1623.9,97.8 1625.3,98.1 1626.7,98.6 1628.1,98.4 1629.5,98.3 1630.9,98.2 1632.3,98.1 1633.7,98.6 1635.1,98.1 1636.5,98.2 1637.9,97.7 1639.3,98.5 1640.7,98.4 1642.1,98.6 1643.5,98.5 1644.9,99 1646.3,99.8 1647.7,99.9 1649.1,99.9 1650.5,99.4 1651.9,98.6 1653.3,98.1 1654.7,98.1 1656.1,98.5 1657.5,98.5" fill="none" stroke="#6aa7cc" stroke-width="1.5" stroke-linejoin="round"/>
<path d="M1265,98.5 1271,98.5 1277,98.8 1283,99 1289,99 1295,98.7 1301,98.6 1307,98.6 1313,98.7 1319,98.7 1325,98.8 1331,98.6 1337,98.8 1343,98.6 1349,98.6 1355,98.4 1361,98.7 1367,98.5 1373,98.3 1377.5,98.3 1378,98.5 1378.5,98.4 1379,98.3 1379.5,98.1 1380,98.9 1380.5,99.2 1381,94 1381.5,92.7 1382,94.3 1382.5,95.6 1383,96.8 1383.5,97.4 1384,98.6 1384.5,100.9 1385,117.6 1385.5,152.3 1386,195.8 1386.5,238.3 1387,273.2 1387.5,298.8 1388,314 1388.5,321.1 1389,320.7 1389.5,314.9 1390,304.9 1390.5,292.9 1391,280 1391.5,267 1392,253.7 1392.5,239.8 1393,227.3 1393.5,215.8 1394,206.1 1394.5,196.4 1395,188 1395.5,180.1 1396,174.2 1396.5,168.4 1397,162.8 1397.5,157.4 1398,153.1 1398.5,149.3 1399,145.8 1399.5,142.7 1400,140 1400.5,137.8 1401,135.6 1401.5,133.7 1402,131.9 1402.5,129.8 1403,127.8 1403.5,126.2 1404,125 1404.5,124.5 1405,123.7 1405.5,122.3 1406,121.2 1406.5,120.1 1407,119.7 1407.5,118.9 1408,118.1 1408.5,117.5 1409,116.9 1409.5,115.9 1410,114.6 1410.5,114.2 1411,113.7 1411.5,113.7 1412,112.9 1412.5,112 1413,111.7 1413.5,111.1 1414,111.4 1414.5,110.8 1415,111 1415.5,110.5 1416,110.8 1416.5,110 1417,109.9 1417.5,109.7 1418,109.6 1418.5,108.9 1419,108.3 1419.5,108.1 1420.9,107.6 1422.3,106.6 1423.7,106 1425.1,105.5 1426.5,105.5 1427.9,104.4 1429.3,103.8 1430.7,103.1 1432.1,103.2 1433.5,103.1 1434.9,102.9 1436.3,102.5 1437.7,102.3 1439.1,102.3 1440.5,102.1 1441.9,102.1 1443.3,101.5 1444.7,101 1446.1,100.2 1447.5,100.6 1448.9,100.9 1450.3,101.5 1451.7,101.7 1453.1,101.8 1454.5,101.6 1455.9,101.3 1457.3,101.5 1458.7,101.4 1460.1,101.4 1461.5,100.8 1462.9,101 1464.3,101 1465.7,100.8 1467.1,100.6 1468.5,100.4 1469.9,100.6 1471.3,100.9 1472.7,100.8 1474.1,100.9 1475.5,100.8 1476.9,100.9 1478.3,101 1479.7,101.3 1481.1,101.6 1482.5,101.9 1483.9,101.5 1485.3,101.2 1486.7,100.8 1488.1,101.6 1489.5,101.7 1490.9,102.1 1492.3,101.7 1493.7,101.4 1495.1,101.2 1496.5,100.8 1497.9,101 1499.3,101 1500.7,100.9 1502.1,101.2 1503.5,101.5 1504.9,101.6 1506.3,101.3 1507.7,100.9 1509.1,100.9 1510.5,100.9 1511.9,101 1513.3,100.9 1514.7,100.7 1516.1,100.6 1517.5,100.4 1518.9,100.4 1520.3,100.1 1521.7,100.6 1523.1,101 1524.5,101.2 1525.9,101 1527.3,100.7 1528.7,101 1530.1,100.7 1531.5,101 1532.9,100.6 1534.3,101.1 1535.7,100.8 1537.1,100.6 1538.5,100.4 1539.9,100.2 1541.3,100.2 1542.7,100.2 1544.1,100.7 1545.5,101 1546.9,100.8 1548.3,100.1 1549.7,101.6 1551.1,101.4 1552.5,100.6 1553.9,99.8 1555.3,99.6 1556.7,99.6 1558.1,99.7 1559.5,99.3 1560.9,99.3 1562.3,98.7 1563.7,98.3 1565.1,97.8 1566.5,98.5 1567.9,98.7 1569.3,99.3 1570.7,98.7 1572.1,98 1573.5,98.1 1574.9,98.5 1576.3,98.7 1577.7,99 1579.1,98.5 1580.5,98.6 1581.9,98.2 1583.3,98.5 1584.7,98.7 1586.1,98.7 1587.5,98.5 1588.9,98.1 1590.3,98.3 1591.7,98.9 1593.1,99.5 1594.5,99.4 1595.9,99.1 1597.3,99 1598.7,98.9 1600.1,99.4 1601.5,99 1602.9,99.5 1604.3,99.2 1605.7,99.2 1607.1,99.2 1608.5,99.4 1609.9,99.3 1611.3,99.1 1612.7,99.4 1614.1,99.5 1615.5,99.5 1616.9,99.4 1618.3,99.4 1619.7,99.8 1621.1,99.7 1622.5,99.7 1623.9,98.9 1625.3,99 1626.7,99 1628.1,99 1629.5,98.3 1630.9,98.5 1632.3,98.5 1633.7,98.6 1635.1,98.2 1636.5,97.9 1637.9,97.1 1639.3,97.5 1640.7,97.9 1642.1,98.9 1643.5,98.7 1644.9,98.8 1646.3,98.5 1647.7,98.5 1649.1,97.8 1650.5,97.8 1651.9,97.7 1653.3,98.3 1654.7,99 1656.1,99 1657.5,99" fill="none" stroke="#6aa7cc" stroke-width="1.5" stroke-linejoin="round"/>
<path d="M1265,98.6 1271,98.5 1277,98.7 1283,98.7 1289,98.7 1295,98.5 1301,98.5 1307,98.5 1313,98.5 1319,98.6 1325,98.6 1331,98.7 1337,98.6 1343,98.5 1349,98.5 1355,98.5 1361,98.6 1367,98.7 1373,98.8 1377.5,98.8 1378,98.8 1378.5,98.8 1379,98.7 1379.5,98.7 1380,99 1380.5,100 1381,91.9 1381.5,90.3 1382,91.3 1382.5,92.4 1383,94.1 1383.5,95.7 1384,97.4 1384.5,108.6 1385,139.5 1385.5,182.8 1386,226.2 1386.5,262.9 1387,288.3 1387.5,303.2 1388,307.9 1388.5,306.3 1389,298.3 1389.5,287.4 1390,274.4 1390.5,260.9 1391,246.5 1391.5,232.4 1392,219.8 1392.5,208.4 1393,197 1393.5,187 1394,177.6 1394.5,170.8 1395,164 1395.5,158.6 1396,153.1 1396.5,148.4 1397,144.1 1397.5,140.9 1398,137.6 1398.5,134.7 1399,132.2 1399.5,130.5 1400,129.3 1400.5,127.6 1401,125.6 1401.5,124.2 1402,123.2 1402.5,122.6 1403,121.6 1403.5,119.8 1404,119.1 1404.5,118.2 1405,117.2 1405.5,115.7 1406,114.5 1406.5,114.1 1407,114 1407.5,113.7 1408,113 1408.5,112.5 1409,112.3 1409.5,111.8 1410,111.5 1410.5,111.1 1411,110.5 1411.5,109.8 1412,109.9 1412.5,109.2 1413,109.3 1413.5,109 1414,109.1 1414.5,108 1415,107.4 1415.5,107 1416,106.8 1416.5,106.5 1417,106.1 1417.5,105.8 1418,106 1418.5,106.2 1419,106.3 1419.5,105.9 1420.9,104.8 1422.3,103.9 1423.7,102.9 1425.1,102.6 1426.5,102.7 1427.9,103 1429.3,103.1 1430.7,102.4 1432.1,101.9 1433.5,101.5 1434.9,101.6 1436.3,101.1 1437.7,102.2 1439.1,101.7 1440.5,101.9 1441.9,101.2 1443.3,101.8 1444.7,101.5 1446.1,101.8 1447.5,101.3 1448.9,101.2 1450.3,100.8 1451.7,101 1453.1,101.3 1454.5,101.7 1455.9,101.7 1457.3,101 1458.7,100.3 1460.1,99.6 1461.5,100.1 1462.9,100.4 1464.3,100.5 1465.7,100 1467.1,99.8 1468.5,100.1 1469.9,100.9 1471.3,100.9 1472.7,101.2 1474.1,101.1 1475.5,100.8 1476.9,100.8 1478.3,100.2 1479.7,100.3 1481.1,100.4 1482.5,101 1483.9,100.8 1485.3,100.4 1486.7,99.9 1488.1,99.6 1489.5,100.1 1490.9,100.6 1492.3,100.5 1493.7,99.7 1495.1,99.9 1496.5,100.1 1497.9,100.6 1499.3,100 1500.7,100.5 1502.1,100.8 1503.5,101.1 1504.9,101.1 1506.3,101.1 1507.7,101.1 1509.1,101.3 1510.5,101.4 1511.9,100.7 1513.3,99.8 1514.7,99.5 1516.1,99.7 1517.5,100 1518.9,99.9 1520.3,100 1521.7,100 1523.1,100.2 1524.5,100 1525.9,100.3 1527.3,99.9 1528.7,100.7 1530.1,100.7 1531.5,101.2 1532.9,101 1534.3,101.4 1535.7,101.4 1537.1,101.3 1538.5,100.8 1539.9,100.1 1541.3,100 1542.7,100.2 1544.1,100.5 1545.5,101 1546.9,100.6 1548.3,100.4 1549.7,102.3 1551.1,101.7 1552.5,100.9 1553.9,99.9 1555.3,98.8 1556.7,98.4 1558.1,98.4 1559.5,99.3 1560.9,99.1 1562.3,99.3 1563.7,99 1565.1,98.9 1566.5,98.8 1567.9,98.6 1569.3,98.4 1570.7,97.9 1572.1,98.4 1573.5,98 1574.9,97.4 1576.3,97.9 1577.7,98.6 1579.1,98.8 1580.5,98.5 1581.9,98.3 1583.3,99 1584.7,98.6 1586.1,99.3 1587.5,98.7 1588.9,99.2 1590.3,99.2 1591.7,99.4 1593.1,99.3 1594.5,99.6 1595.9,99.8 1597.3,99 1598.7,99.2 1600.1,99.6 1601.5,99.9 1602.9,99.4 1604.3,99.1 1605.7,99.2 1607.1,99.3 1608.5,99.1 1609.9,98.9 1611.3,98.2 1612.7,98.8 1614.1,99.2 1615.5,99.3 1616.9,98.8 1618.3,98.7 1619.7,98.5 1621.1,98.3 1622.5,98.2 1623.9,98.3 1625.3,98.4 1626.7,98.7 1628.1,98.7 1629.5,98.2 1630.9,98 1632.3,98.2 1633.7,99.1 1635.1,99 1636.5,99.1 1637.9,99.3 1639.3,99.3 1640.7,99.5 1642.1,99.2 1643.5,99.1 1644.9,99.7 1646.3,100.3 1647.7,99.9 1649.1,99.2 1650.5,98.2 1651.9,98.5 1653.3,98.2 1654.7,98.4 1656.1,99.1 1657.5,98.8" fill="none" stroke="#6aa7cc" stroke-width="1.5" stroke-linejoin="round"/>
<path d="M1265,98.9 1271,98.7 1277,98.7 1283,98.6 1289,98.7 1295,98.6 1301,98.6 1307,98.7 1313,98.6 1319,98.7 1325,98.4 1331,98.6 1337,98.7 1343,98.8 1349,98.5 1355,98.3 1361,98.5 1367,98.6 1373,98.5 1377.5,98.4 1378,98.3 1378.5,98.4 1379,98.3 1379.5,98.6 1380,98.2 1380.5,98.2 1381,84.3 1381.5,82.5 1382,84.1 1382.5,87.4 1383,90.2 1383.5,92.2 1384,98 1384.5,123.7 1385,165.1 1385.5,208.3 1386,244.4 1386.5,270.3 1387,284 1387.5,288.6 1388,286 1388.5,278.9 1389,267.5 1389.5,254.1 1390,240.3 1390.5,227.2 1391,214.7 1391.5,202.9 1392,191.9 1392.5,182.3 1393,173.1 1393.5,166.1 1394,159 1394.5,153.6 1395,148.1 1395.5,144 1396,140.6 1396.5,137.6 1397,134.7 1397.5,132 1398,129.4 1398.5,126.8 1399,124.3 1399.5,122.3 1400,121.4 1400.5,120.6 1401,120 1401.5,118.8 1402,117.6 1402.5,116.5 1403,115.4 1403.5,114.2 1404,114.2 1404.5,114.1 1405,113.5 1405.5,112.6 1406,112.1 1406.5,112.3 1407,111.6 1407.5,111.1 1408,110.7 1408.5,110 1409,109.5 1409.5,108.8 1410,108.7 1410.5,109 1411,109.1 1411.5,108.9 1412,107.8 1412.5,107.7 1413,107.6 1413.5,107.3 1414,106.8 1414.5,106 1415,105.7 1415.5,105.7 1416,106.2 1416.5,106.1 1417,106 1417.5,105.3 1418,105 1418.5,104.9 1419,104.9 1419.5,104.7 1420.9,104 1422.3,103.7 1423.7,103.7 1425.1,103.2 1426.5,102.7 1427.9,102.5 1429.3,102.6 1430.7,102.6 1432.1,102.2 1433.5,101.9 1434.9,101.2 1436.3,101.2 1437.7,100.7 1439.1,101.3 1440.5,101.2 1441.9,101.2 1443.3,101.5 1444.7,101.3 1446.1,101 1447.5,100.4 1448.9,100.2 1450.3,100.4 1451.7,99.9 1453.1,99.8 1454.5,99.7 1455.9,99.3 1457.3,99.2 1458.7,99.1 1460.1,100.1 1461.5,100 1462.9,99.9 1464.3,99.7 1465.7,99.5 1467.1,99.6 1468.5,99.4 1469.9,100 1471.3,100.1 1472.7,99.8 1474.1,100 1475.5,100 1476.9,100.2 1478.3,100.5 1479.7,101 1481.1,100.6 1482.5,99.7 1483.9,99.4 1485.3,99.7 1486.7,99.4 1488.1,99.6 1489.5,100 1490.9,100.1 1492.3,99.8 1493.7,99.7 1495.1,99.7 1496.5,99.6 1497.9,99.4 1499.3,98.8 1500.7,99.5 1502.1,99.6 1503.5,99.6 1504.9,99.3 1506.3,99.6 1507.7,100 1509.1,100.3 1510.5,99.6 1511.9,100.4 1513.3,100.2 1514.7,100.5 1516.1,99.8 1517.5,99.8 1518.9,100.1 1520.3,100.7 1521.7,100.4 1523.1,100.7 1524.5,100.6 1525.9,100.5 1527.3,100 1528.7,99.8 1530.1,99.9 1531.5,99.7 1532.9,99.7 1534.3,99.6 1535.7,99.3 1537.1,99.5 1538.5,99.2 1539.9,100 1541.3,99.8 1542.7,99.8 1544.1,99.8 1545.5,100 1546.9,99.8 1548.3,99.5 1549.7,101.9 1551.1,100 1552.5,99 1553.9,98.4 1555.3,98.8 1556.7,98.8 1558.1,98.7 1559.5,99.1 1560.9,98.5 1562.3,98.7 1563.7,98.4 1565.1,98.1 1566.5,98.2 1567.9,98.5 1569.3,99.2 1570.7,99 1572.1,98.6 1573.5,98.4 1574.9,98.8 1576.3,99 1577.7,99.4 1579.1,99.6 1580.5,99.2 1581.9,98.9 1583.3,98 1584.7,98.5 1586.1,98.9 1587.5,99.2 1588.9,98.9 1590.3,98.4 1591.7,97.9 1593.1,97.7 1594.5,97.5 1595.9,97.5 1597.3,97.8 1598.7,98.1 1600.1,98.5 1601.5,98.7 1602.9,98.5 1604.3,98.4 1605.7,98.6 1607.1,98.6 1608.5,98.4 1609.9,98 1611.3,97.9 1612.7,98.1 1614.1,98.1 1615.5,98.5 1616.9,98.1 1618.3,98.4 1619.7,97.7 1621.1,98.4 1622.5,98.5 1623.9,98.5 1625.3,98 1626.7,97.4 1628.1,97.7 1629.5,98.2 1630.9,99.2 1632.3,99 1633.7,99.1 1635.1,98.3 1636.5,98.6 1637.9,98.6 1639.3,99.1 1640.7,99.3 1642.1,99 1643.5,99.3 1644.9,99.4 1646.3,99.8 1647.7,99.6 1649.1,99.5 1650.5,98.8 1651.9,98.9 1653.3,98.8 1654.7,99.4 1656.1,99.9 1657.5,100.6" fill="none" stroke="#6aa7cc" stroke-width="1.5" stroke-linejoin="round"/>
<path d="M1265,98.9 1271,98.8 1277,98.7 1283,98.6 1289,98.7 1295,98.7 1301,98.5 1307,98.5 1313,98.6 1319,98.7 1325,98.8 1331,98.8 1337,98.7 1343,98.7 1349,98.5 1355,98.6 1361,98.6 1367,98.8 1373,98.8 1377.5,98.6 1378,98.5 1378.5,98.6 1379,98.7 1379.5,99.4 1380,99.8 1380.5,100 1381,80.7 1381.5,77.1 1382,79.5 1382.5,82.8 1383,86.2 1383.5,89.5 1384,108.3 1384.5,146.4 1385,189 1385.5,224.9 1386,249.2 1386.5,262.7 1387,265.5 1387.5,261.5 1388,252.2 1388.5,240.5 1389,227 1389.5,213.9 1390,201.2 1390.5,189 1391,178.9 1391.5,169.6 1392,161.1 1392.5,152.6 1393,145.9 1393.5,140.8 1394,137.1 1394.5,133.4 1395,130.2 1395.5,126.4 1396,124.6 1396.5,122.6 1397,121.2 1397.5,119.6 1398,118.6 1398.5,117.5 1399,116 1399.5,114.1 1400,112.8 1400.5,111.8 1401,111.8 1401.5,111.4 1402,111.2 1402.5,110.2 1403,110.5 1403.5,109.8 1404,109.7 1404.5,108.9 1405,108.8 1405.5,107.5 1406,107.4 1406.5,106.8 1407,107 1407.5,106.5 1408,106.4 1408.5,106.6 1409,106.1 1409.5,106.1 1410,105.7 1410.5,105.6 1411,105.6 1411.5,105.2 1412,105.2 1412.5,104.7 1413,104.2 1413.5,103.7 1414,104.2 1414.5,104 1415,103.8 1415.5,103.5 1416,103.3 1416.5,103.3 1417,103.3 1417.5,102.6 1418,102.7 1418.5,102.5 1419,102.6 1419.5,102.8 1420.9,102.4 1422.3,102.7 1423.7,101.8 1425.1,101.8 1426.5,101.4 1427.9,100.9 1429.3,100.4 1430.7,100.5 1432.1,100.6 1433.5,100 1434.9,99.6 1436.3,100 1437.7,100 1439.1,100.3 1440.5,100.2 1441.9,100.3 1443.3,100.3 1444.7,99.8 1446.1,99.7 1447.5,100.1 1448.9,100 1450.3,99.7 1451.7,99.5 1453.1,99.7 1454.5,100 1455.9,100.1 1457.3,99.7 1458.7,99.7 1460.1,98.7 1461.5,99.1 1462.9,99.1 1464.3,99.7 1465.7,99.4 1467.1,99.4 1468.5,99.3 1469.9,99.5 1471.3,99.8 1472.7,99.4 1474.1,99.2 1475.5,98.7 1476.9,98.2 1478.3,99 1479.7,99.1 1481.1,99.5 1482.5,99.2 1483.9,99 1485.3,99.8 1486.7,99.4 1488.1,98.8 1489.5,97.9 1490.9,98.2 1492.3,98.2 1493.7,98.6 1495.1,98.7 1496.5,99 1497.9,99 1499.3,99.2 1500.7,99.4 1502.1,99.5 1503.5,99.4 1504.9,99.1 1506.3,98.7 1507.7,99.2 1509.1,99.6 1510.5,99.6 1511.9,98.9 1513.3,98.7 1514.7,99 1516.1,99.1 1517.5,99.2 1518.9,99.2 1520.3,99.3 1521.7,98.9 1523.1,98.7 1524.5,98.9 1525.9,99.3 1527.3,99.9 1528.7,99.9 1530.1,99.8 1531.5,99.7 1532.9,99.6 1534.3,99.9 1535.7,99.9 1537.1,100.5 1538.5,100.6 1539.9,100.4 1541.3,99.9 1542.7,100.2 1544.1,99.4 1545.5,99.1 1546.9,99.1 1548.3,99.8 1549.7,102.8 1551.1,101.7 1552.5,100.7 1553.9,100.1 1555.3,99.5 1556.7,98.9 1558.1,98.8 1559.5,99 1560.9,99.5 1562.3,99.4 1563.7,98.7 1565.1,98 1566.5,98.4 1567.9,98.6 1569.3,98.8 1570.7,98.7 1572.1,98.8 1573.5,98.5 1574.9,98.1 1576.3,98 1577.7,97.9 1579.1,98.4 1580.5,98.5 1581.9,98.3 1583.3,98.4 1584.7,98.2 1586.1,98.3 1587.5,97.8 1588.9,97.7 1590.3,97.6 1591.7,97.4 1593.1,97.5 1594.5,98.3 1595.9,98.2 1597.3,98.4 1598.7,98.4 1600.1,98.7 1601.5,98.6 1602.9,98.6 1604.3,98.3 1605.7,98.3 1607.1,97.9 1608.5,98.8 1609.9,98.6 1611.3,99 1612.7,99.1 1614.1,98.9 1615.5,98.6 1616.9,98.3 1618.3,98.2 1619.7,98.3 1621.1,98.4 1622.5,98.9 1623.9,98.8 1625.3,98.5 1626.7,98.1 1628.1,98 1629.5,97.4 1630.9,97.6 1632.3,97.9 1633.7,98.5 1635.1,98.3 1636.5,98.3 1637.9,98.4 1639.3,98.7 1640.7,99.1 1642.1,98.8 1643.5,98.9 1644.9,98.7 1646.3,98.9 1647.7,98.8 1649.1,98.4 1650.5,98.4 1651.9,98.7 1653.3,99 1654.7,98.8 1656.1,98.7 1657.5,98.4" fill="none" stroke="#6aa7cc" stroke-width="1.5" stroke-linejoin="round"/>
<path d="M1265,98.6 1271,98.7 1277,98.9 1283,98.6 1289,98.6 1295,98.5 1301,98.6 1307,98.6 1313,98.6 1319,98.7 1325,98.8 1331,98.7 1337,98.5 1343,98.5 1349,98.5 1355,98.5 1361,98.5 1367,98.6 1373,98.6 1377.5,98.6 1378,98.5 1378.5,98.6 1379,98.6 1379.5,98.9 1380,98.9 1380.5,99.1 1381,75.3 1381.5,70.8 1382,73.7 1382.5,78 1383,82.8 1383.5,94.8 1384,126.9 1384.5,167.2 1385,201.5 1385.5,225.5 1386,237.3 1386.5,240.7 1387,236.2 1387.5,227.6 1388,215.5 1388.5,203.7 1389,191.8 1389.5,181 1390,170.3 1390.5,161.1 1391,153.5 1391.5,147.6 1392,141.8 1392.5,136.3 1393,131.7 1393.5,128.3 1394,125.5 1394.5,123.2 1395,120.6 1395.5,118.8 1396,117.1 1396.5,115.6 1397,115.1 1397.5,113.9 1398,113.2 1398.5,111.3 1399,110.6 1399.5,109.7 1400,109.1 1400.5,108.2 1401,107.7 1401.5,107.6 1402,106.9 1402.5,106 1403,105.6 1403.5,105.9 1404,106.4 1404.5,105.8 1405,105.8 1405.5,105.4 1406,105.5 1406.5,104.9 1407,104.8 1407.5,104.9 1408,105 1408.5,104.6 1409,104 1409.5,103.4 1410,103.3 1410.5,103.1 1411,103.1 1411.5,103.1 1412,103.2 1412.5,103.1 1413,102.8 1413.5,102.8 1414,102.6 1414.5,102.8 1415,102.4 1415.5,102.3 1416,101.9 1416.5,101.5 1417,100.9 1417.5,101.1 1418,101.4 1418.5,101.8 1419,101.2 1419.5,100.9 1420.9,101.2 1422.3,100.9 1423.7,100.8 1425.1,99.9 1426.5,99.8 1427.9,99.5 1429.3,99.3 1430.7,99.3 1432.1,99.4 1433.5,99.6 1434.9,99.4 1436.3,99.5 1437.7,99.5 1439.1,100 1440.5,99.6 1441.9,98.6 1443.3,98.5 1444.7,98.9 1446.1,99.4 1447.5,99.3 1448.9,98.9 1450.3,98.8 1451.7,98.2 1453.1,98.2 1454.5,98 1455.9,98 1457.3,98.3 1458.7,98.5 1460.1,98.3 1461.5,98.2 1462.9,98.3 1464.3,98.4 1465.7,98.2 1467.1,98.1 1468.5,98.2 1469.9,98.4 1471.3,98.6 1472.7,98.5 1474.1,99.1 1475.5,99 1476.9,99.1 1478.3,99.1 1479.7,99.9 1481.1,100 1482.5,99.7 1483.9,99 1485.3,99.5 1486.7,99.5 1488.1,99.6 1489.5,99.6 1490.9,99.9 1492.3,100.4 1493.7,100.8 1495.1,100.8 1496.5,100.6 1497.9,100.1 1499.3,99.8 1500.7,99.8 1502.1,100 1503.5,100 1504.9,99.6 1506.3,99.2 1507.7,99.2 1509.1,99.1 1510.5,98.4 1511.9,98.6 1513.3,98.9 1514.7,99.1 1516.1,98.5 1517.5,98.3 1518.9,98.1 1520.3,98.1 1521.7,98.1 1523.1,98.4 1524.5,98.3 1525.9,98.9 1527.3,99.1 1528.7,99.3 1530.1,98.8 1531.5,98.7 1532.9,98.2 1534.3,98.4 1535.7,98.6 1537.1,99 1538.5,98.9 1539.9,98.6 1541.3,98.4 1542.7,98.3 1544.1,98.7 1545.5,98.7 1546.9,98.4 1548.3,97.8 1549.7,101.9 1551.1,101.1 1552.5,100.5 1553.9,99.4 1555.3,99.3 1556.7,98.8 1558.1,98.3 1559.5,97.8 1560.9,98.3 1562.3,98.8 1563.7,98.9 1565.1,98.5 1566.5,98.4 1567.9,98.5 1569.3,98.7 1570.7,99.3 1572.1,99.2 1573.5,99.1 1574.9,98.4 1576.3,98 1577.7,97.6 1579.1,97.9 1580.5,97.6 1581.9,98.2 1583.3,98.4 1584.7,98.7 1586.1,98 1587.5,98 1588.9,98 1590.3,98.4 1591.7,98.1 1593.1,98.1 1594.5,97.8 1595.9,97.8 1597.3,97.6 1598.7,97.2 1600.1,97.1 1601.5,97.1 1602.9,97.6 1604.3,98.1 1605.7,98.9 1607.1,99.5 1608.5,99.3 1609.9,99.1 1611.3,98.8 1612.7,98.6 1614.1,98.7 1615.5,98.5 1616.9,98.6 1618.3,98.1 1619.7,98.9 1621.1,98.8 1622.5,99 1623.9,98.5 1625.3,98.6 1626.7,98.4 1628.1,98.3 1629.5,98.3 1630.9,98 1632.3,97.7 1633.7,98.2 1635.1,98.5 1636.5,98.8 1637.9,98.9 1639.3,98.7 1640.7,98.7 1642.1,98.5 1643.5,98.3 1644.9,97.9 1646.3,97.8 1647.7,98.3 1649.1,98.9 1650.5,98.5 1651.9,98.5 1653.3,98.4 1654.7,98.7 1656.1,98.8 1657.5,98.6" fill="none" stroke="#6aa7cc" stroke-width="1.5" stroke-linejoin="round"/>
<path d="M1265,98.5 1271,98.6 1277,98.5 1283,98.6 1289,98.6 1295,98.6 1301,98.5 1307,98.5 1313,98.6 1319,98.6 1325,98.4 1331,98.4 1337,98.5 1343,98.7 1349,98.7 1355,98.5 1361,98.4 1367,98.5 1373,98.6 1377.5,98.5 1378,98.6 1378.5,98.6 1379,98.8 1379.5,99 1380,98.8 1380.5,98.4 1381,67.8 1381.5,62.4 1382,65.3 1382.5,71.5 1383,79.7 1383.5,106 1384,144.1 1384.5,178.5 1385,202.5 1385.5,213.2 1386,214.6 1386.5,209.5 1387,200.5 1387.5,190.4 1388,179.5 1388.5,168.9 1389,158.6 1389.5,149.6 1390,141.9 1390.5,135.9 1391,130.6 1391.5,126.2 1392,122.5 1392.5,119.4 1393,117.3 1393.5,114.6 1394,112.6 1394.5,110.8 1395,109.2 1395.5,108.3 1396,107.6 1396.5,107.3 1397,106.6 1397.5,105.9 1398,105.2 1398.5,105.2 1399,105.3 1399.5,105.2 1400,104.7 1400.5,104.6 1401,104.3 1401.5,104.2 1402,103.6 1402.5,103.7 1403,103.3 1403.5,103.6 1404,103.1 1404.5,103 1405,102.4 1405.5,102.3 1406,102.3 1406.5,102 1407,101.8 1407.5,101.4 1408,101.2 1408.5,101.4 1409,101.4 1409.5,101.7 1410,100.9 1410.5,100.6 1411,100.1 1411.5,100.4 1412,100.5 1412.5,100.8 1413,100.7 1413.5,100.4 1414,100.5 1414.5,101 1415,100.5 1415.5,100.1 1416,99.5 1416.5,99.7 1417,99.7 1417.5,99.6 1418,99.2 1418.5,99.1 1419,99.1 1419.5,99.9 1420.9,99.8 1422.3,99.4 1423.7,98.4 1425.1,98.4 1426.5,98.5 1427.9,98.8 1429.3,98.4 1430.7,98.3 1432.1,97.6 1433.5,97.7 1434.9,97.5 1436.3,97.4 1437.7,97.5 1439.1,98 1440.5,98.9 1441.9,98.8 1443.3,98.3 1444.7,98.7 1446.1,98.3 1447.5,99 1448.9,98.7 1450.3,98.6 1451.7,98.3 1453.1,98.9 1454.5,99.1 1455.9,99 1457.3,98.4 1458.7,98.2 1460.1,97.5 1461.5,97.8 1462.9,97.7 1464.3,98.3 1465.7,97.7 1467.1,97.6 1468.5,97.8 1469.9,98.2 1471.3,98.2 1472.7,97.7 1474.1,97.8 1475.5,98.2 1476.9,98.4 1478.3,98.2 1479.7,97.9 1481.1,98.3 1482.5,98.2 1483.9,98.4 1485.3,98.6 1486.7,98.6 1488.1,98.1 1489.5,97.5 1490.9,97.3 1492.3,98.3 1493.7,98.4 1495.1,98.4 1496.5,98.4 1497.9,98.8 1499.3,98.7 1500.7,98.7 1502.1,98.6 1503.5,98.9 1504.9,98 1506.3,97.9 1507.7,98.2 1509.1,98.7 1510.5,99.1 1511.9,98.7 1513.3,98.2 1514.7,98 1516.1,98 1517.5,98.5 1518.9,98.3 1520.3,98.5 1521.7,98.4 1523.1,98.4 1524.5,97.9 1525.9,97.9 1527.3,97.9 1528.7,98 1530.1,98.2 1531.5,98.1 1532.9,98.4 1534.3,98.7 1535.7,99 1537.1,99.2 1538.5,98.9 1539.9,98.4 1541.3,97.8 1542.7,97.5 1544.1,97.4 1545.5,97.2 1546.9,97.5 1548.3,97.3 1549.7,102.9 1551.1,101.2 1552.5,100.3 1553.9,100 1555.3,99.4 1556.7,98.8 1558.1,98.3 1559.5,97.9 1560.9,97.6 1562.3,96.8 1563.7,96.8 1565.1,97.2 1566.5,97.6 1567.9,97.5 1569.3,97.4 1570.7,97.8 1572.1,98.2 1573.5,98.2 1574.9,97.9 1576.3,98.4 1577.7,98.3 1579.1,98 1580.5,97.5 1581.9,98.1 1583.3,98.6 1584.7,98.5 1586.1,97.8 1587.5,97.6 1588.9,97.7 1590.3,98.3 1591.7,98.7 1593.1,99.2 1594.5,99.3 1595.9,99.3 1597.3,99.2 1598.7,98.7 1600.1,98.6 1601.5,98.4 1602.9,98.8 1604.3,98.9 1605.7,99 1607.1,98.9 1608.5,99 1609.9,98.7 1611.3,98.5 1612.7,98.6 1614.1,99.1 1615.5,98.8 1616.9,99.1 1618.3,99.1 1619.7,99.8 1621.1,98.8 1622.5,98.3 1623.9,98.3 1625.3,98.6 1626.7,98.9 1628.1,98.7 1629.5,98.5 1630.9,98.6 1632.3,98.4 1633.7,98.5 1635.1,98.7 1636.5,98.7 1637.9,99.1 1639.3,98.5 1640.7,99.2 1642.1,98.7 1643.5,99.2 1644.9,98.8 1646.3,99.1 1647.7,99.2 1649.1,98.8 1650.5,98.4 1651.9,98.3 1653.3,98.6 1654.7,99.1 1656.1,98.4 1657.5,97.9" fill="none" stroke="#6aa7cc" stroke-width="1.5" stroke-linejoin="round"/>
<path d="M1265,98.3 1271,98.3 1277,98.4 1283,98.7 1289,98.7 1295,98.8 1301,98.6 1307,98.6 1313,98.5 1319,98.5 1325,98.6 1331,98.7 1337,98.7 1343,98.7 1349,98.9 1355,98.8 1361,98.9 1367,98.9 1373,98.9 1377.5,98.9 1378,98.9 1378.5,99 1379,98.7 1379.5,99 1380,98.9 1380.5,99.2 1381,61.6 1381.5,54.8 1382,59.3 1382.5,66.3 1383,84.8 1383.5,116.8 1384,149.4 1384.5,172.5 1385,185 1385.5,188.3 1386,185.1 1386.5,178.3 1387,170.1 1387.5,160.9 1388,151.8 1388.5,143.5 1389,136.6 1389.5,131.3 1390,126.5 1390.5,122.5 1391,118.8 1391.5,116 1392,113 1392.5,111.2 1393,109.5 1393.5,108.6 1394,107.1 1394.5,106 1395,105 1395.5,104.5 1396,103.8 1396.5,103.9 1397,103.7 1397.5,104.3 1398,103.8 1398.5,103.4 1399,102.6 1399.5,102.5 1400,102.4 1400.5,101.9 1401,101.6 1401.5,101.3 1402,101.4 1402.5,101.3 1403,101 1403.5,101 1404,101.2 1404.5,101.4 1405,101.3 1405.5,101 1406,101 1406.5,100.6 1407,100.2 1407.5,99.5 1408,99.5 1408.5,99.7 1409,100 1409.5,100.4 1410,100.7 1410.5,100.7 1411,100.4 1411.5,99.5 1412,99.1 1412.5,99 1413,99.5 1413.5,99.7 1414,99.5 1414.5,99.7 1415,99.7 1415.5,99.9 1416,99.5 1416.5,99.3 1417,99 1417.5,98.6 1418,98.2 1418.5,98.6 1419,98.5 1419.5,98.6 1420.9,97.9 1422.3,97.7 1423.7,98.5 1425.1,98.8 1426.5,99.6 1427.9,99.4 1429.3,99.6 1430.7,99.3 1432.1,98.6 1433.5,98.5 1434.9,98.1 1436.3,98.1 1437.7,98.1 1439.1,98.6 1440.5,98.9 1441.9,99 1443.3,98.3 1444.7,98.2 1446.1,98.4 1447.5,98.7 1448.9,98.2 1450.3,97.9 1451.7,98.2 1453.1,98.1 1454.5,98.3 1455.9,97.7 1457.3,98.1 1458.7,98.3 1460.1,98.7 1461.5,98.7 1462.9,98.1 1464.3,97.8 1465.7,98.4 1467.1,98.8 1468.5,98.8 1469.9,98.1 1471.3,97.8 1472.7,98.5 1474.1,98.8 1475.5,98.9 1476.9,98.2 1478.3,98 1479.7,98 1481.1,98 1482.5,98.1 1483.9,97.6 1485.3,97.7 1486.7,97.5 1488.1,97.4 1489.5,97.7 1490.9,97.9 1492.3,98.5 1493.7,97.9 1495.1,97.7 1496.5,97.6 1497.9,98 1499.3,98 1500.7,98.3 1502.1,98 1503.5,97.5 1504.9,97.3 1506.3,97.3 1507.7,97.6 1509.1,97.2 1510.5,97.8 1511.9,98 1513.3,97.8 1514.7,97 1516.1,96.9 1517.5,97.5 1518.9,98.1 1520.3,98 1521.7,98 1523.1,97.6 1524.5,97.9 1525.9,97.8 1527.3,98 1528.7,98 1530.1,97.8 1531.5,97.6 1532.9,97.2 1534.3,97.3 1535.7,97.5 1537.1,97.6 1538.5,97.5 1539.9,97.1 1541.3,97.4 1542.7,97.1 1544.1,97.4 1545.5,98 1546.9,98.5 1548.3,98.1 1549.7,104.3 1551.1,102.4 1552.5,101.2 1553.9,100.3 1555.3,99.9 1556.7,99.7 1558.1,99.9 1559.5,99.5 1560.9,99.4 1562.3,98.6 1563.7,98.5 1565.1,98.6 1566.5,99.3 1567.9,99.1 1569.3,98.7 1570.7,97.9 1572.1,98.4 1573.5,98 1574.9,98.1 1576.3,98.4 1577.7,99.1 1579.1,99.2 1580.5,98.7 1581.9,98.9 1583.3,99.4 1584.7,99.8 1586.1,99.4 1587.5,99.4 1588.9,99.5 1590.3,99.9 1591.7,99.8 1593.1,99.7 1594.5,99.9 1595.9,99.6 1597.3,99.7 1598.7,99.2 1600.1,99.1 1601.5,98.9 1602.9,98.7 1604.3,98.8 1605.7,99 1607.1,99.6 1608.5,99.9 1609.9,99.5 1611.3,99.6 1612.7,99.5 1614.1,99.9 1615.5,99.2 1616.9,99.8 1618.3,99.2 1619.7,100 1621.1,99.6 1622.5,99.9 1623.9,99.5 1625.3,99.1 1626.7,98.5 1628.1,98.5 1629.5,98.8 1630.9,98.5 1632.3,98.2 1633.7,97.9 1635.1,98.4 1636.5,98.8 1637.9,98.6 1639.3,98.3 1640.7,98.1 1642.1,97.9 1643.5,98.6 1644.9,98.6 1646.3,98.8 1647.7,98.6 1649.1,98.7 1650.5,98.4 1651.9,98.8 1653.3,98.5 1654.7,98.3 1656.1,97.9 1657.5,98.2" fill="none" stroke="#6aa7cc" stroke-width="1.5" stroke-linejoin="round"/>
<path d="M1265,98.6 1271,98.6 1277,98.4 1283,98.5 1289,98.8 1295,98.7 1301,98.5 1307,98.5 1313,98.5 1319,98.4 1325,98.3 1331,98.3 1337,98.3 1343,98.2 1349,98.3 1355,98.4 1361,98.6 1367,98.6 1373,98.7 1377.5,98.6 1378,98.5 1378.5,98.3 1379,98.4 1379.5,98 1380,97.8 1380.5,97.3 1381,55.1 1381.5,48.2 1382,53.6 1382.5,65.2 1383,91.1 1383.5,120.7 1384,143 1384.5,156 1385,160.2 1385.5,159.3 1386,154.9 1386.5,148.7 1387,142.4 1387.5,135.4 1388,129.1 1388.5,123.4 1389,119 1389.5,115.2 1390,112.1 1390.5,109.5 1391,107.4 1391.5,106 1392,104.5 1392.5,102.8 1393,101.6 1393.5,100.9 1394,101.1 1394.5,100.4 1395,100.2 1395.5,100.2 1396,100.1 1396.5,100 1397,99 1397.5,98 1398,97.2 1398.5,97.4 1399,97.8 1399.5,98.4 1400,98.4 1400.5,98 1401,97.6 1401.5,97.3 1402,97.8 1402.5,97.5 1403,98 1403.5,97.5 1404,97.9 1404.5,98.1 1405,98.4 1405.5,98.8 1406,98.4 1406.5,98 1407,97.6 1407.5,97.6 1408,97.9 1408.5,97.8 1409,97.8 1409.5,97.7 1410,97.8 1410.5,98.1 1411,97.6 1411.5,97.6 1412,97.4 1412.5,97.5 1413,97.1 1413.5,97.1 1414,97.3 1414.5,96.9 1415,96.3 1415.5,96.5 1416,96.8 1416.5,97.6 1417,97.8 1417.5,97.8 1418,97.6 1418.5,97.1 1419,97.1 1419.5,96.8 1420.9,97.3 1422.3,97 1423.7,97.3 1425.1,97 1426.5,97.4 1427.9,96.9 1429.3,96.6 1430.7,96.4 1432.1,96.8 1433.5,97.3 1434.9,97.7 1436.3,98.3 1437.7,98.6 1439.1,98.6 1440.5,97.8 1441.9,97.7 1443.3,98 1444.7,98.2 1446.1,98.1 1447.5,98.1 1448.9,98.3 1450.3,98.1 1451.7,97.1 1453.1,96.8 1454.5,97.1 1455.9,97.6 1457.3,97.2 1458.7,97.5 1460.1,97.6 1461.5,97.3 1462.9,96.8 1464.3,97 1465.7,97.1 1467.1,97.1 1468.5,97.1 1469.9,97.3 1471.3,97.5 1472.7,97.6 1474.1,97.3 1475.5,97.4 1476.9,97 1478.3,97.6 1479.7,97.3 1481.1,97.5 1482.5,97 1483.9,96.8 1485.3,96.6 1486.7,97.2 1488.1,97.3 1489.5,97.6 1490.9,96.7 1492.3,96.3 1493.7,96 1495.1,96.3 1496.5,96.9 1497.9,96.8 1499.3,97.1 1500.7,97 1502.1,97.2 1503.5,97.3 1504.9,97 1506.3,97 1507.7,97.2 1509.1,97.6 1510.5,97.6 1511.9,97 1513.3,97 1514.7,97.2 1516.1,97.3 1517.5,96.8 1518.9,96.9 1520.3,96.9 1521.7,97.6 1523.1,97.4 1524.5,97.8 1525.9,97.4 1527.3,97.3 1528.7,97.1 1530.1,97.1 1531.5,97.4 1532.9,97.2 1534.3,97 1535.7,97.1 1537.1,97.4 1538.5,97.6 1539.9,97 1541.3,96.9 1542.7,96.7 1544.1,97.1 1545.5,97.1 1546.9,97.1 1548.3,96.7 1549.7,104.6 1551.1,102.7 1552.5,101 1553.9,99.7 1555.3,99.2 1556.7,98.9 1558.1,98.6 1559.5,98.4 1560.9,98.3 1562.3,98.3 1563.7,98.2 1565.1,97.7 1566.5,97.3 1567.9,97.2 1569.3,97.6 1570.7,98 1572.1,98.5 1573.5,98.7 1574.9,98.5 1576.3,98.5 1577.7,98.3 1579.1,98.4 1580.5,98.5 1581.9,98.3 1583.3,98.3 1584.7,98.4 1586.1,99.2 1587.5,99.7 1588.9,99.7 1590.3,99.5 1591.7,99.3 1593.1,99.6 1594.5,99.6 1595.9,100.4 1597.3,99.8 1598.7,99.7 1600.1,98.9 1601.5,99.2 1602.9,99.3 1604.3,99.4 1605.7,99.1 1607.1,98.8 1608.5,99.1 1609.9,99.1 1611.3,98.5 1612.7,98.3 1614.1,98.8 1615.5,99.5 1616.9,98.8 1618.3,98.3 1619.7,98 1621.1,98.3 1622.5,98.4 1623.9,98.4 1625.3,98.3 1626.7,98.5 1628.1,98.5 1629.5,98.1 1630.9,98 1632.3,98.1 1633.7,98.1 1635.1,98.4 1636.5,98.6 1637.9,98.7 1639.3,99 1640.7,99 1642.1,98.8 1643.5,98.7 1644.9,98.4 1646.3,98.3 1647.7,98.1 1649.1,98.2 1650.5,98.1 1651.9,98 1653.3,98.1 1654.7,98.4 1656.1,98.5 1657.5,99.1" fill="none" stroke="#6aa7cc" stroke-width="1.5" stroke-linejoin="round"/>
<path d="M1265,98.7 1271,98.9 1277,98.7 1283,98.7 1289,98.6 1295,98.6 1301,98.6 1307,98.3 1313,98.5 1319,98.5 1325,98.8 1331,98.6 1337,98.6 1343,98.7 1349,98.5 1355,98.3 1361,98.2 1367,98.3 1373,98.5 1377.5,98.4 1378,98.6 1378.5,98.5 1379,98.5 1379.5,97.6 1380,97.6 1380.5,97.6 1381,50.4 1381.5,41.8 1382,48.1 1382.5,67 1383,92.4 1383.5,113.9 1384,127.3 1384.5,133.1 1385,134 1385.5,131.8 1386,128.5 1386.5,123.9 1387,119.2 1387.5,114.9 1388,112 1388.5,109.7 1389,107.8 1389.5,105.9 1390,103.9 1390.5,102.7 1391,101.8 1391.5,101.1 1392,100.5 1392.5,100.1 1393,100 1393.5,99.5 1394,99 1394.5,98 1395,98.1 1395.5,97.9 1396,97.8 1396.5,97.9 1397,98.3 1397.5,98.8 1398,98.6 1398.5,98.2 1399,98 1399.5,98.1 1400,97.8 1400.5,97.4 1401,96.9 1401.5,96.7 1402,97.4 1402.5,97.6 1403,97.8 1403.5,97.3 1404,96.9 1404.5,97.2 1405,97.8 1405.5,98.2 1406,97.7 1406.5,97.4 1407,97 1407.5,97 1408,96.2 1408.5,96.8 1409,97 1409.5,97.1 1410,96.7 1410.5,96.4 1411,96.4 1411.5,96.8 1412,97 1412.5,97.5 1413,97.2 1413.5,97.2 1414,96.9 1414.5,97 1415,97.4 1415.5,97.1 1416,97.3 1416.5,97 1417,97.5 1417.5,97.3 1418,96.7 1418.5,96.9 1419,97 1419.5,96.9 1420.9,96.6 1422.3,96.7 1423.7,97 1425.1,96.8 1426.5,96.6 1427.9,96.3 1429.3,96.2 1430.7,95.6 1432.1,95.7 1433.5,95.9 1434.9,96.3 1436.3,96.6 1437.7,96.5 1439.1,96.6 1440.5,96.8 1441.9,96.7 1443.3,96.9 1444.7,96.7 1446.1,96.5 1447.5,96.5 1448.9,96.4 1450.3,96.4 1451.7,96.1 1453.1,96.5 1454.5,96.3 1455.9,96.4 1457.3,96.1 1458.7,96.7 1460.1,96.5 1461.5,96.6 1462.9,96.5 1464.3,96.5 1465.7,96.6 1467.1,96.6 1468.5,96.3 1469.9,96.6 1471.3,96.4 1472.7,96.5 1474.1,95.6 1475.5,96.2 1476.9,95.9 1478.3,96 1479.7,96 1481.1,96.5 1482.5,96.6 1483.9,96.3 1485.3,96.4 1486.7,96.1 1488.1,96.4 1489.5,96.6 1490.9,97.3 1492.3,97.2 1493.7,97.4 1495.1,97.3 1496.5,97.6 1497.9,97.4 1499.3,97.3 1500.7,97 1502.1,96.2 1503.5,96.4 1504.9,96.5 1506.3,97.4 1507.7,96.8 1509.1,96.9 1510.5,96.4 1511.9,96.8 1513.3,96.4 1514.7,96.6 1516.1,96.8 1517.5,97 1518.9,97 1520.3,97.3 1521.7,97.3 1523.1,97.5 1524.5,97.6 1525.9,97.6 1527.3,97.4 1528.7,97.6 1530.1,97.2 1531.5,97.1 1532.9,96.3 1534.3,96.5 1535.7,96.4 1537.1,97.2 1538.5,97.5 1539.9,97.5 1541.3,97.5 1542.7,97.2 1544.1,97.5 1545.5,96.9 1546.9,96.9 1548.3,96.8 1549.7,106.7 1551.1,105.1 1552.5,102.9 1553.9,101.3 1555.3,100.7 1556.7,99.9 1558.1,99.7 1559.5,99.3 1560.9,99.2 1562.3,99.3 1563.7,99 1565.1,98.8 1566.5,99 1567.9,99.5 1569.3,99.9 1570.7,99.6 1572.1,99.1 1573.5,99.2 1574.9,98.9 1576.3,98.9 1577.7,98.6 1579.1,98.6 1580.5,98.2 1581.9,98.3 1583.3,98.4 1584.7,98.2 1586.1,98.3 1587.5,98.4 1588.9,98.3 1590.3,98.2 1591.7,98.7 1593.1,98.9 1594.5,99.1 1595.9,98.8 1597.3,98.5 1598.7,99 1600.1,99.3 1601.5,99.1 1602.9,98.6 1604.3,98.2 1605.7,98.4 1607.1,97.9 1608.5,97.9 1609.9,97.5 1611.3,97.6 1612.7,98 1614.1,98.4 1615.5,98.3 1616.9,97.6 1618.3,97.3 1619.7,96.9 1621.1,96.9 1622.5,97.1 1623.9,97.4 1625.3,97.6 1626.7,97.7 1628.1,98.1 1629.5,98.2 1630.9,98.6 1632.3,98.8 1633.7,98.5 1635.1,99 1636.5,98.8 1637.9,98.7 1639.3,98.5 1640.7,98.4 1642.1,98.7 1643.5,99.1 1644.9,99 1646.3,98.9 1647.7,98.2 1649.1,98.6 1650.5,98.6 1651.9,98.9 1653.3,99 1654.7,99.2 1656.1,99.1 1657.5,99" fill="none" stroke="#6aa7cc" stroke-width="1.5" stroke-linejoin="round"/>
<path d="M1265,98.5 1271,98.5 1277,98.5 1283,98.5 1289,98.3 1295,98.5 1301,98.4 1307,98.4 1313,98.4 1319,98.5 1325,98.8 1331,98.5 1337,98.3 1343,98.1 1349,98.2 1355,98.5 1361,98.7 1367,98.7 1373,98.8 1377.5,98.8 1378,98.7 1378.5,98.5 1379,98.5 1379.5,98.2 1380,97.9 1380.5,97.6 1381,44.9 1381.5,35.9 1382,44.5 1382.5,63.2 1383,80.8 1383.5,94 1384,101.1 1384.5,104.5 1385,105.7 1385.5,106.1 1386,104.9 1386.5,104.4 1387,102.8 1387.5,102 1388,100.8 1388.5,100.1 1389,99.8 1389.5,99.4 1390,98.8 1390.5,98 1391,97 1391.5,97.4 1392,97.2 1392.5,96.9 1393,96.5 1393.5,96.4 1394,96.8 1394.5,96.8 1395,97.1 1395.5,97.1 1396,96.5 1396.5,96 1397,95.7 1397.5,96.1 1398,96.2 1398.5,96.4 1399,96.1 1399.5,95.7 1400,95.7 1400.5,95.8 1401,96.6 1401.5,97.1 1402,97.1 1402.5,97 1403,96.2 1403.5,96.4 1404,96.7 1404.5,97 1405,96.9 1405.5,96.7 1406,96.6 1406.5,96.8 1407,97.3 1407.5,96.7 1408,96.6 1408.5,96.6 1409,96.8 1409.5,96.8 1410,96.8 1410.5,97.6 1411,97.7 1411.5,97.1 1412,96.3 1412.5,96.3 1413,96.2 1413.5,96 1414,96 1414.5,96.2 1415,96.4 1415.5,96.5 1416,96.4 1416.5,96.6 1417,96.5 1417.5,96.6 1418,96.3 1418.5,96.3 1419,96.4 1419.5,96.4 1420.9,96.3 1422.3,96.7 1423.7,96.8 1425.1,96.6 1426.5,96.2 1427.9,96.4 1429.3,96.4 1430.7,96.8 1432.1,96.7 1433.5,96.4 1434.9,95.9 1436.3,95.8 1437.7,95.5 1439.1,95.7 1440.5,95.7 1441.9,95.8 1443.3,95.7 1444.7,95.6 1446.1,95.8 1447.5,95.7 1448.9,95.9 1450.3,96.1 1451.7,96.4 1453.1,96.6 1454.5,96.1 1455.9,96.1 1457.3,95.5 1458.7,95.6 1460.1,95.3 1461.5,95.9 1462.9,95.4 1464.3,95.3 1465.7,95.4 1467.1,96 1468.5,95.7 1469.9,95.5 1471.3,96 1472.7,96.4 1474.1,96.5 1475.5,95.3 1476.9,94.9 1478.3,95.3 1479.7,96.2 1481.1,96.8 1482.5,96.7 1483.9,96.6 1485.3,96.8 1486.7,96.1 1488.1,96.7 1489.5,96.3 1490.9,96.7 1492.3,96.4 1493.7,96.6 1495.1,97 1496.5,96.5 1497.9,96.4 1499.3,96.2 1500.7,95.8 1502.1,95.6 1503.5,95.4 1504.9,95.6 1506.3,95.5 1507.7,95.3 1509.1,95.5 1510.5,95.7 1511.9,96 1513.3,95.9 1514.7,95.5 1516.1,94.9 1517.5,95 1518.9,95 1520.3,96 1521.7,96.4 1523.1,96.8 1524.5,96.2 1525.9,95.5 1527.3,95 1528.7,94.9 1530.1,95.7 1531.5,95.9 1532.9,96 1534.3,95.6 1535.7,96.2 1537.1,96.1 1538.5,96.2 1539.9,95.7 1541.3,95.7 1542.7,95.7 1544.1,96 1545.5,95.9 1546.9,96.2 1548.3,96.4 1549.7,107.4 1551.1,104 1552.5,101.3 1553.9,99.9 1555.3,99.3 1556.7,99 1558.1,99 1559.5,99.2 1560.9,99.3 1562.3,99 1563.7,98.7 1565.1,98.9 1566.5,98.9 1567.9,98.6 1569.3,98.3 1570.7,97.8 1572.1,98.3 1573.5,98.6 1574.9,98.8 1576.3,98.8 1577.7,98.4 1579.1,98.5 1580.5,98.8 1581.9,99.1 1583.3,99.3 1584.7,98.7 1586.1,98.6 1587.5,98.4 1588.9,98.6 1590.3,98.4 1591.7,98.5 1593.1,98.3 1594.5,98.3 1595.9,98.4 1597.3,98.7 1598.7,98.8 1600.1,98 1601.5,97.8 1602.9,97.7 1604.3,97.8 1605.7,97.7 1607.1,97.7 1608.5,97.8 1609.9,98.4 1611.3,98.2 1612.7,98 1614.1,97.7 1615.5,97.8 1616.9,97.9 1618.3,98.1 1619.7,98.4 1621.1,98.7 1622.5,98.6 1623.9,98.3 1625.3,98.6 1626.7,99.1 1628.1,99.2 1629.5,99 1630.9,98.8 1632.3,98.9 1633.7,98.9 1635.1,99.2 1636.5,98.7 1637.9,99.1 1639.3,98.3 1640.7,98.5 1642.1,98 1643.5,98 1644.9,98.3 1646.3,98.2 1647.7,98.1 1649.1,97.9 1650.5,98 1651.9,98.6 1653.3,98.2 1654.7,98.9 1656.1,98.3 1657.5,98.8" fill="none" stroke="#6aa7cc" stroke-width="1.5" stroke-linejoin="round"/>
</g>
<line x1="902" y1="418.4" x2="993" y2="418.4" stroke="#0e4b70" stroke-width="5.4"/>
<path d="M989,418.6 990.6,418.6 991.1,418.4 991.6,418.6 992.1,418.9 992.6,419.3 993.1,417.7 993.6,414.6 994.1,412.7 994.6,411.5 995.1,411.9 995.6,412.5 996.1,414.4 996.6,419.9 997.1,431.8 997.6,448.5 998.1,470.2 998.6,493.7 999.1,518.9 999.6,542.2 1000.1,564.8 1000.6,585.6 1001.1,604.5 1001.6,620.4 1002.1,633.5 1002.6,644 1003.1,652.1 1003.6,657.8 1004.1,661.3 1004.6,662.7 1005.1,662.1 1005.6,660.5 1006.1,657.6 1006.6,653.5 1007.1,649.2 1007.6,643.6 1008.1,637.6 1008.6,631.2 1009.1,625.6 1009.6,618.8 1010.1,611.7 1010.6,604.3 1011.1,597.3 1011.6,590.8 1012.1,584.2 1012.6,578.2 1013.1,572.3 1013.6,565.8 1014.1,560.2 1014.6,554.5 1015.1,548.2 1015.6,543.9 1016.1,538.1 1016.6,532.4 1017.1,527.1 1017.6,522.5 1018.1,518.2 1018.6,515.3 1019.1,511.2 1019.6,508.6 1020.1,504.2 1020.6,499.8 1021.1,497.4 1021.6,494.5 1022.1,492.6 1022.6,490.2 1023.1,487.1 1023.6,486 1024.1,485 1024.6,482 1025.1,478.7 1025.6,475.3 1026.1,474.7 1026.6,472.5 1027.1,470.5 1027.6,470.4 1028.1,470.1 1028.6,467.8 1029.1,465.2 1029.6,462.2 1030.1,460.3 1030.6,457 1031.1,454.1 1031.6,452.5 1032.1,451.3 1032.6,451.9 1033.1,450.3 1033.6,448.6 1034.1,447.1 1034.6,448.4 1035.1,447.2 1035.6,447.4 1036.1,446.4 1036.6,447.1 1037.1,445.7 1037.6,443.9 1038.1,443.5 1038.6,444.2 1039.1,444 1039.6,444.2 1040.1,441.8 1040.6,440.6 1041.1,437.6 1041.6,437.5 1042.1,439.1 1042.6,439.5 1043.9,437.3 1045.2,436.9 1046.5,433.7 1047.8,432.1 1049.1,430.6 1050.4,431.1 1051.7,431.8 1053,432.1 1054.3,431.9 1055.6,432.6 1056.9,430.3 1058.2,430.1 1059.5,426.9 1060.8,425.4 1062.1,423.9 1063.4,425.5 1064.7,425.5 1066,424.9 1067.3,423.5 1068.6,424.1 1069.9,425.3 1071.2,426 1072.5,425.7 1073.8,426.3 1075.1,422.9 1076.4,423.4 1077.7,421.8 1079,425.5 1080.3,423.4 1081.6,424.9 1082.9,422.2 1084.2,421.5 1085.5,418.8 1086.8,419.6 1088.1,419.4 1089.4,421.1 1090.7,418.7 1092,419.8 1093.3,417.1 1094.6,416.3 1095.9,414.5 1097.2,413.8 1098.5,415.2 1099.8,412.7 1101.1,414.7 1102.4,414.5 1103.7,415.3 1105,414.6 1106.3,416.5 1107.6,418.1 1108.9,418 1110.2,419.2 1111.5,420.2 1112.8,420.7 1114.1,420.5 1115.4,421.2 1116.7,420.4 1118,420.3 1119.3,419.5 1120.6,419.5 1121.9,418.1 1123.2,416.2 1124.5,416.1 1125.8,417.1 1127.1,417.3 1128.4,418.3 1129.7,418.8 1131,420.7 1132.3,421.9 1133.6,421.5 1134.9,421.6 1136.2,421 1137.5,419.6 1138.8,420.2 1140.1,418.9 1141.4,419.4 1142.7,419.7 1144,418.7 1145.3,416.9 1146.6,415.3 1147.9,416.5 1149.2,416.9 1150.5,417.4 1151.8,417 1153.1,417.4 1154.4,416.7 1155.7,418.6 1157,419.7 1158.3,419.3 1159.6,420 1160.9,421.2 1162.2,421.5 1163.5,419.8 1164.8,417.4 1166.1,419.6 1167.4,419.3 1168.7,419.4 1170,418.1 1171.3,418.9 1172.6,419.2 1173.9,418.8 1175.2,416.3 1176.5,417 1177.8,417.5 1179.1,419.4 1180.4,419.8 1181.7,417.6 1183,417.4 1184.3,417.1 1185.6,416.8 1186.9,416 1188.2,416.6 1189.5,416.9 1190.8,419 1192.1,416.4 1193.4,418.8 1194.7,418.4 1196,418.8 1197.3,420.9 1198.6,420.4 1199.9,420.8 1201.2,418 1202.5,417.3 1203.8,418.1 1205.1,418.8 1206.4,419.7 1207.7,421.3 1209,420.1 1210.3,419 1211.6,417.3 1212.9,418 1214.2,419.5 1215.5,420.4 1216.8,421.6 1218.1,421.6 1219.4,422.1 1220.7,421.2 1222,419.2 1223.3,417.9 1224.6,419 1225.9,419.7 1227.2,418.1 1228.5,416.4 1229.8,416.6 1231.1,417 1232.4,417.3 1233.7,416.9 1235,419.3 1236.3,419.3 1237.6,422.2 1238.9,421 1240.2,420.7 1241.5,419.2 1242.8,420.2 1244.1,419.5 1245.4,418.4" fill="none" stroke="#0e4b70" stroke-width="1.5" stroke-linejoin="round"/>
<path d="M989,418 990.6,418 991.1,417.7 991.6,417.8 992.1,417.9 992.6,418.5 993.1,416.9 993.6,414.3 994.1,412.6 994.6,411.3 995.1,411.2 995.6,411.1 996.1,412.8 996.6,419.1 997.1,431.2 997.6,448.1 998.1,469.3 998.6,492.9 999.1,517.3 999.6,541.1 1000.1,563.5 1000.6,584.9 1001.1,603.7 1001.6,619.6 1002.1,632.6 1002.6,642.4 1003.1,650.2 1003.6,656.2 1004.1,659.9 1004.6,661.4 1005.1,661.3 1005.6,659.6 1006.1,657.2 1006.6,652.8 1007.1,648.1 1007.6,642.9 1008.1,636.5 1008.6,631 1009.1,624.6 1009.6,617.5 1010.1,611.9 1010.6,604.7 1011.1,598.1 1011.6,589.4 1012.1,582.5 1012.6,576.6 1013.1,571.6 1013.6,564.1 1014.1,558.1 1014.6,551.1 1015.1,547.4 1015.6,543.5 1016.1,538.5 1016.6,534.1 1017.1,527.6 1017.6,523.9 1018.1,518.5 1018.6,515.3 1019.1,510.4 1019.6,505.9 1020.1,503.3 1020.6,500.1 1021.1,499.2 1021.6,496.5 1022.1,493.1 1022.6,487.2 1023.1,485.8 1023.6,482.7 1024.1,481 1024.6,476.8 1025.1,474 1025.6,472.8 1026.1,471.2 1026.6,469.1 1027.1,467 1027.6,465.7 1028.1,466.1 1028.6,465.2 1029.1,462.5 1029.6,462.9 1030.1,461.9 1030.6,457.8 1031.1,455.5 1031.6,452.4 1032.1,453 1032.6,450.3 1033.1,450.2 1033.6,450.3 1034.1,449.9 1034.6,450.4 1035.1,449.6 1035.6,448.1 1036.1,447.7 1036.6,447.6 1037.1,446.6 1037.6,444.5 1038.1,445.1 1038.6,444.6 1039.1,443 1039.6,441.4 1040.1,440 1040.6,439.6 1041.1,438.5 1041.6,439.2 1042.1,440.4 1042.6,441.1 1043.9,440.7 1045.2,438.9 1046.5,436 1047.8,435.8 1049.1,433.2 1050.4,433.2 1051.7,431.2 1053,429.6 1054.3,428 1055.6,426.9 1056.9,427.7 1058.2,426.9 1059.5,425.4 1060.8,424.8 1062.1,425 1063.4,423.8 1064.7,423.8 1066,422.8 1067.3,424 1068.6,424.6 1069.9,422.8 1071.2,422 1072.5,422.2 1073.8,423.5 1075.1,423.6 1076.4,420.9 1077.7,421.5 1079,421.1 1080.3,423 1081.6,421.3 1082.9,421.8 1084.2,420.6 1085.5,419.7 1086.8,422.8 1088.1,422.6 1089.4,424.3 1090.7,421.7 1092,422.1 1093.3,423.5 1094.6,423.1 1095.9,422.5 1097.2,422.2 1098.5,422.9 1099.8,423 1101.1,421.9 1102.4,419.9 1103.7,418.1 1105,418 1106.3,419.3 1107.6,419.6 1108.9,420 1110.2,418.6 1111.5,418.1 1112.8,416.9 1114.1,416.4 1115.4,416.2 1116.7,414.4 1118,415.2 1119.3,418 1120.6,417.3 1121.9,417.8 1123.2,416.8 1124.5,418.4 1125.8,419.2 1127.1,419.1 1128.4,421.1 1129.7,418.7 1131,418.9 1132.3,418.8 1133.6,420.8 1134.9,419.4 1136.2,418 1137.5,416.8 1138.8,419.6 1140.1,420.3 1141.4,418.8 1142.7,416.7 1144,414.9 1145.3,417 1146.6,417.2 1147.9,419 1149.2,418 1150.5,420.1 1151.8,419.2 1153.1,419.9 1154.4,417.9 1155.7,417.4 1157,417.9 1158.3,418.7 1159.6,422.2 1160.9,422 1162.2,421.5 1163.5,420.7 1164.8,420.9 1166.1,421.9 1167.4,421.2 1168.7,421.3 1170,421.9 1171.3,421.8 1172.6,423.3 1173.9,422.2 1175.2,420.3 1176.5,419.4 1177.8,419.2 1179.1,420.5 1180.4,421.7 1181.7,422.7 1183,422 1184.3,421.7 1185.6,419.5 1186.9,419.9 1188.2,422.4 1189.5,423.3 1190.8,422.8 1192.1,421.9 1193.4,422.4 1194.7,421.9 1196,420.8 1197.3,418.8 1198.6,417.2 1199.9,416 1201.2,416.7 1202.5,416.4 1203.8,415.7 1205.1,416 1206.4,416.5 1207.7,416.6 1209,417.3 1210.3,417.7 1211.6,418.3 1212.9,416.1 1214.2,417.2 1215.5,415.5 1216.8,417.3 1218.1,417.2 1219.4,416.3 1220.7,415.9 1222,417.3 1223.3,418 1224.6,417.9 1225.9,417 1227.2,417.3 1228.5,417.9 1229.8,418 1231.1,418.2 1232.4,417.3 1233.7,418.3 1235,419.7 1236.3,419.5 1237.6,417.7 1238.9,416.9 1240.2,415.9 1241.5,416.5 1242.8,416.4 1244.1,417.8 1245.4,416.6" fill="none" stroke="#0e4b70" stroke-width="1.5" stroke-linejoin="round"/>
<path d="M989,417.9 990.6,418 991.1,418 991.6,418 992.1,417.8 992.6,417.8 993.1,416.9 993.6,415.5 994.1,414.2 994.6,413.3 995.1,412.6 995.6,412.8 996.1,413.8 996.6,420.3 997.1,432.4 997.6,449.6 998.1,470.2 998.6,492.9 999.1,516.9 999.6,540.7 1000.1,563 1000.6,583.8 1001.1,602.4 1001.6,618.1 1002.1,631.1 1002.6,640.8 1003.1,648.6 1003.6,653.5 1004.1,657.2 1004.6,658.4 1005.1,658.2 1005.6,656.9 1006.1,654.2 1006.6,650.2 1007.1,645 1007.6,640 1008.1,634.5 1008.6,628.2 1009.1,623 1009.6,616.1 1010.1,609.4 1010.6,601.9 1011.1,595.3 1011.6,588 1012.1,581.4 1012.6,575.2 1013.1,569.3 1013.6,562.7 1014.1,557.1 1014.6,550.9 1015.1,546.8 1015.6,541.2 1016.1,536 1016.6,530.8 1017.1,526.3 1017.6,522.9 1018.1,516.9 1018.6,512.3 1019.1,507.5 1019.6,501.9 1020.1,499.5 1020.6,496.1 1021.1,494.1 1021.6,487.5 1022.1,485.9 1022.6,483.4 1023.1,483 1023.6,481 1024.1,477.1 1024.6,473.5 1025.1,474.2 1025.6,472.6 1026.1,470.9 1026.6,464 1027.1,462.7 1027.6,461.9 1028.1,460.7 1028.6,459.2 1029.1,457.3 1029.6,456 1030.1,455.3 1030.6,454.4 1031.1,454.8 1031.6,452.6 1032.1,453.2 1032.6,452.8 1033.1,451.6 1033.6,450.9 1034.1,448.5 1034.6,446.6 1035.1,444.3 1035.6,444.2 1036.1,445.1 1036.6,445.9 1037.1,442.8 1037.6,440.2 1038.1,437.5 1038.6,439 1039.1,438 1039.6,437.1 1040.1,437.5 1040.6,438 1041.1,438.7 1041.6,437.9 1042.1,437.4 1042.6,436.1 1043.9,434.3 1045.2,433.3 1046.5,432.5 1047.8,431.4 1049.1,431.4 1050.4,430.6 1051.7,427.4 1053,427.4 1054.3,427.7 1055.6,428.2 1056.9,428.3 1058.2,428.7 1059.5,429.1 1060.8,426.9 1062.1,426.2 1063.4,424.8 1064.7,426.9 1066,425.9 1067.3,426.7 1068.6,423.6 1069.9,424.3 1071.2,424.3 1072.5,424.4 1073.8,422.3 1075.1,420.2 1076.4,420.6 1077.7,422 1079,424 1080.3,423.3 1081.6,422.9 1082.9,421 1084.2,422.2 1085.5,418.5 1086.8,418.7 1088.1,418.1 1089.4,419 1090.7,420.5 1092,419.1 1093.3,420.6 1094.6,420.7 1095.9,420.3 1097.2,418.1 1098.5,417.9 1099.8,420 1101.1,420.4 1102.4,421.6 1103.7,423.3 1105,421.7 1106.3,421.2 1107.6,419.2 1108.9,419.8 1110.2,419.7 1111.5,420.2 1112.8,420.4 1114.1,421.3 1115.4,420.7 1116.7,421.4 1118,421.5 1119.3,420.9 1120.6,423.1 1121.9,423.4 1123.2,424.2 1124.5,423.6 1125.8,421.9 1127.1,419 1128.4,418.9 1129.7,418.5 1131,419.8 1132.3,419.6 1133.6,418.9 1134.9,418.5 1136.2,419.2 1137.5,417.5 1138.8,417.3 1140.1,419 1141.4,420.1 1142.7,422.3 1144,418.8 1145.3,417.7 1146.6,415.8 1147.9,415.1 1149.2,416.6 1150.5,415.1 1151.8,416.1 1153.1,413.4 1154.4,414.9 1155.7,412.3 1157,414.1 1158.3,414.1 1159.6,414.4 1160.9,414.3 1162.2,414.3 1163.5,415.6 1164.8,415.2 1166.1,417.1 1167.4,418.7 1168.7,417.1 1170,415.8 1171.3,417.6 1172.6,419.6 1173.9,419.7 1175.2,418.7 1176.5,418.3 1177.8,418 1179.1,415.7 1180.4,416.4 1181.7,413.9 1183,414.6 1184.3,413.5 1185.6,414.9 1186.9,415.8 1188.2,415.6 1189.5,416.7 1190.8,415.3 1192.1,417.7 1193.4,417.3 1194.7,417.6 1196,416.8 1197.3,418.9 1198.6,417.2 1199.9,419.1 1201.2,418.4 1202.5,419.7 1203.8,418.1 1205.1,418.4 1206.4,419.2 1207.7,419.8 1209,417.6 1210.3,416.3 1211.6,414.6 1212.9,414.2 1214.2,414.8 1215.5,415.1 1216.8,417.8 1218.1,417.5 1219.4,416.2 1220.7,414.3 1222,413.9 1223.3,416.2 1224.6,417.3 1225.9,417.8 1227.2,417.2 1228.5,416.3 1229.8,417.7 1231.1,418.6 1232.4,419.5 1233.7,416.8 1235,415.2 1236.3,413.8 1237.6,417.4 1238.9,416.9 1240.2,417.9 1241.5,416 1242.8,415.9 1244.1,416.3 1245.4,417" fill="none" stroke="#0e4b70" stroke-width="1.5" stroke-linejoin="round"/>
<path d="M989,418.6 990.6,418.9 991.1,419 991.6,419.2 992.1,419.2 992.6,419.3 993.1,417.5 993.6,415.3 994.1,413.7 994.6,413.4 995.1,413.7 995.6,414.1 996.1,415.3 996.6,420.5 997.1,431.9 997.6,448.4 998.1,468.9 998.6,492.1 999.1,516.2 999.6,539.3 1000.1,561.9 1000.6,582.7 1001.1,600.5 1001.6,615.9 1002.1,628.8 1002.6,639.2 1003.1,646.7 1003.6,652 1004.1,655.4 1004.6,657 1005.1,657.1 1005.6,656 1006.1,653.4 1006.6,649 1007.1,644.4 1007.6,639 1008.1,633 1008.6,627.9 1009.1,621.8 1009.6,615.6 1010.1,609.1 1010.6,602.3 1011.1,596 1011.6,588.5 1012.1,581.3 1012.6,574.6 1013.1,569 1013.6,562.8 1014.1,556.7 1014.6,551 1015.1,546 1015.6,540.7 1016.1,533.6 1016.6,528.1 1017.1,523.1 1017.6,520.9 1018.1,515.5 1018.6,511.6 1019.1,506 1019.6,504 1020.1,501.4 1020.6,498.6 1021.1,492.6 1021.6,487.8 1022.1,485.9 1022.6,486.5 1023.1,484.4 1023.6,481.9 1024.1,482.1 1024.6,478.7 1025.1,476.8 1025.6,472.7 1026.1,470.3 1026.6,467.9 1027.1,465.8 1027.6,464.5 1028.1,461.7 1028.6,460.3 1029.1,461.6 1029.6,463 1030.1,461.4 1030.6,459.7 1031.1,457.4 1031.6,454.8 1032.1,455.6 1032.6,454.1 1033.1,453.7 1033.6,451.2 1034.1,452.2 1034.6,450.6 1035.1,448.4 1035.6,445.3 1036.1,443.5 1036.6,445 1037.1,446.3 1037.6,448.1 1038.1,446.8 1038.6,442.1 1039.1,441.6 1039.6,440.6 1040.1,441.8 1040.6,440.1 1041.1,439.9 1041.6,438.4 1042.1,439.1 1042.6,437.3 1043.9,436.3 1045.2,435.8 1046.5,434.1 1047.8,434.6 1049.1,435 1050.4,435 1051.7,434.1 1053,431.2 1054.3,431.1 1055.6,431.3 1056.9,432.1 1058.2,434.4 1059.5,432 1060.8,431.7 1062.1,429.1 1063.4,428.9 1064.7,428.5 1066,428.7 1067.3,427.7 1068.6,425.8 1069.9,423.4 1071.2,423.7 1072.5,423 1073.8,422.2 1075.1,422.8 1076.4,420.7 1077.7,422.4 1079,424.8 1080.3,427.2 1081.6,425.2 1082.9,423.1 1084.2,419.7 1085.5,420.8 1086.8,421 1088.1,422.9 1089.4,421.9 1090.7,423.1 1092,421.6 1093.3,420.9 1094.6,418.7 1095.9,420.4 1097.2,420 1098.5,420.2 1099.8,420 1101.1,421.2 1102.4,420.4 1103.7,421.4 1105,421.7 1106.3,422.8 1107.6,422.8 1108.9,424.5 1110.2,422.6 1111.5,421.6 1112.8,419.6 1114.1,420.1 1115.4,418.3 1116.7,419.5 1118,420.2 1119.3,420 1120.6,418.1 1121.9,417.3 1123.2,418.7 1124.5,419.2 1125.8,418.2 1127.1,419.2 1128.4,419.7 1129.7,419.9 1131,418.1 1132.3,418.8 1133.6,417.8 1134.9,419.2 1136.2,418 1137.5,417.2 1138.8,417.7 1140.1,418.8 1141.4,419.1 1142.7,417.9 1144,416.7 1145.3,417.4 1146.6,418.5 1147.9,416.6 1149.2,420.2 1150.5,420 1151.8,423.1 1153.1,422.7 1154.4,421.9 1155.7,421.6 1157,423.3 1158.3,422.9 1159.6,423.6 1160.9,422.4 1162.2,423.9 1163.5,422.1 1164.8,421.7 1166.1,420.1 1167.4,419.4 1168.7,418.6 1170,419.5 1171.3,417.9 1172.6,417.4 1173.9,416.3 1175.2,416.6 1176.5,414.8 1177.8,415.7 1179.1,416.5 1180.4,416.6 1181.7,415.6 1183,415.8 1184.3,414.6 1185.6,416 1186.9,417.2 1188.2,418.6 1189.5,419.3 1190.8,418.3 1192.1,420.9 1193.4,421.3 1194.7,421.8 1196,420.5 1197.3,421.6 1198.6,422.2 1199.9,424.3 1201.2,423.3 1202.5,422 1203.8,421 1205.1,419.1 1206.4,419.8 1207.7,419.3 1209,420.4 1210.3,418.6 1211.6,418.3 1212.9,416.2 1214.2,416.4 1215.5,417.1 1216.8,418.2 1218.1,418.5 1219.4,417.9 1220.7,417.9 1222,417.2 1223.3,415.1 1224.6,415.5 1225.9,417.5 1227.2,418.3 1228.5,419.6 1229.8,419 1231.1,419.2 1232.4,418.1 1233.7,417.3 1235,417.5 1236.3,418.4 1237.6,419.7 1238.9,420.2 1240.2,421.7 1241.5,422.6 1242.8,421.6 1244.1,422.1 1245.4,422.7" fill="none" stroke="#0e4b70" stroke-width="1.5" stroke-linejoin="round"/>
<path d="M989,417.8 990.6,417.9 991.1,417.9 991.6,417.8 992.1,417.7 992.6,417.5 993.1,416.5 993.6,415.6 994.1,414.6 994.6,414.4 995.1,414.7 995.6,414.8 996.1,415.8 996.6,420.8 997.1,432.5 997.6,448.6 998.1,468.8 998.6,491.3 999.1,514.7 999.6,537.8 1000.1,559.5 1000.6,579 1001.1,596.4 1001.6,611.7 1002.1,624.5 1002.6,634.4 1003.1,641.5 1003.6,647 1004.1,650.3 1004.6,651.9 1005.1,652 1005.6,650.3 1006.1,647 1006.6,643 1007.1,638.4 1007.6,633.2 1008.1,628 1008.6,622.2 1009.1,617.3 1009.6,610.2 1010.1,604.1 1010.6,596.9 1011.1,590.3 1011.6,584.2 1012.1,578 1012.6,572 1013.1,565.9 1013.6,559 1014.1,553 1014.6,546.7 1015.1,542.8 1015.6,538 1016.1,534.3 1016.6,528.7 1017.1,524.1 1017.6,520.3 1018.1,515.7 1018.6,510.9 1019.1,506.6 1019.6,503.1 1020.1,500.7 1020.6,498.3 1021.1,495.9 1021.6,493.9 1022.1,491.9 1022.6,490.1 1023.1,486.7 1023.6,484.4 1024.1,479.7 1024.6,478.2 1025.1,473.3 1025.6,472.6 1026.1,468.3 1026.6,466.5 1027.1,464 1027.6,462.1 1028.1,457.5 1028.6,456.3 1029.1,455.5 1029.6,454.3 1030.1,452.8 1030.6,451.7 1031.1,453 1031.6,454.4 1032.1,453.5 1032.6,453.4 1033.1,451.7 1033.6,452.1 1034.1,451.5 1034.6,448.6 1035.1,448 1035.6,447.2 1036.1,445.8 1036.6,444.5 1037.1,441.4 1037.6,440.9 1038.1,440.8 1038.6,440.8 1039.1,440.9 1039.6,438.1 1040.1,439.6 1040.6,438.5 1041.1,438.1 1041.6,438.6 1042.1,438 1042.6,438.3 1043.9,435 1045.2,434 1046.5,433.5 1047.8,431.5 1049.1,430.8 1050.4,430.7 1051.7,429.3 1053,428.5 1054.3,428.7 1055.6,427.2 1056.9,426.7 1058.2,423.6 1059.5,423.6 1060.8,421.5 1062.1,420.6 1063.4,421.4 1064.7,421.8 1066,419.7 1067.3,420 1068.6,419.4 1069.9,420.7 1071.2,421.5 1072.5,421.8 1073.8,423.1 1075.1,423 1076.4,421.9 1077.7,421.6 1079,420.1 1080.3,422.6 1081.6,422.5 1082.9,422.4 1084.2,421.2 1085.5,421.4 1086.8,421.5 1088.1,422.2 1089.4,420.6 1090.7,423 1092,423 1093.3,424.7 1094.6,422.6 1095.9,422.7 1097.2,420.6 1098.5,419.1 1099.8,418.8 1101.1,419.1 1102.4,421.1 1103.7,423.4 1105,423.4 1106.3,420.8 1107.6,418.9 1108.9,418.3 1110.2,418.7 1111.5,419.9 1112.8,420.1 1114.1,417.5 1115.4,417 1116.7,416 1118,417.5 1119.3,417.2 1120.6,419.7 1121.9,421.1 1123.2,419.3 1124.5,419 1125.8,418.9 1127.1,418.3 1128.4,420.5 1129.7,420.3 1131,420.9 1132.3,417.6 1133.6,418.8 1134.9,419.5 1136.2,418.5 1137.5,416.2 1138.8,416.6 1140.1,418.3 1141.4,419.1 1142.7,417.3 1144,416.4 1145.3,416.9 1146.6,416.3 1147.9,414.4 1149.2,412 1150.5,410.8 1151.8,412.6 1153.1,413.9 1154.4,414.9 1155.7,414.8 1157,415.3 1158.3,415.5 1159.6,416.2 1160.9,417.7 1162.2,420.2 1163.5,421.3 1164.8,422 1166.1,421 1167.4,420.2 1168.7,417.3 1170,416.3 1171.3,416.5 1172.6,419.1 1173.9,420.3 1175.2,421.9 1176.5,421.7 1177.8,421.8 1179.1,419.4 1180.4,419.3 1181.7,418.8 1183,418.8 1184.3,418 1185.6,419 1186.9,418.2 1188.2,415.8 1189.5,414.6 1190.8,413.5 1192.1,413.9 1193.4,415.4 1194.7,416.8 1196,416.5 1197.3,415.4 1198.6,414.2 1199.9,415.7 1201.2,417.8 1202.5,417 1203.8,416.8 1205.1,414.4 1206.4,417.5 1207.7,418.6 1209,418.9 1210.3,418.9 1211.6,418.1 1212.9,418 1214.2,417.2 1215.5,416.3 1216.8,417.1 1218.1,416.8 1219.4,418.2 1220.7,419.6 1222,420 1223.3,420.1 1224.6,417.9 1225.9,416.6 1227.2,416.4 1228.5,418.3 1229.8,419.3 1231.1,419.6 1232.4,419.3 1233.7,421.1 1235,421.2 1236.3,420.2 1237.6,419.8 1238.9,419.3 1240.2,419.1 1241.5,418.6 1242.8,418.6 1244.1,416.1 1245.4,415.6" fill="none" stroke="#0e4b70" stroke-width="1.5" stroke-linejoin="round"/>
<path d="M989,419.7 990.6,419.5 991.1,419.5 991.6,419.3 992.1,419.4 992.6,420 993.1,418.4 993.6,415.6 994.1,414 994.6,413.6 995.1,414.1 995.6,413.9 996.1,415.4 996.6,420.9 997.1,431.6 997.6,448 998.1,467.8 998.6,490.1 999.1,512.3 999.6,534.7 1000.1,555.7 1000.6,575.4 1001.1,592.1 1001.6,607.2 1002.1,619.8 1002.6,630 1003.1,637.2 1003.6,642.1 1004.1,645.5 1004.6,646.9 1005.1,646.7 1005.6,645.2 1006.1,642.5 1006.6,638.9 1007.1,634.7 1007.6,629.5 1008.1,624.1 1008.6,618 1009.1,612.7 1009.6,606.2 1010.1,599.9 1010.6,593.2 1011.1,586.3 1011.6,580.2 1012.1,574.6 1012.6,569.9 1013.1,565 1013.6,559 1014.1,553.1 1014.6,545.9 1015.1,540.2 1015.6,535.4 1016.1,530.7 1016.6,525.5 1017.1,520.9 1017.6,517.9 1018.1,513.4 1018.6,509 1019.1,505.1 1019.6,502.6 1020.1,498.3 1020.6,494.2 1021.1,492.1 1021.6,489.7 1022.1,488.9 1022.6,486.3 1023.1,484.5 1023.6,480 1024.1,477.6 1024.6,474.4 1025.1,472.5 1025.6,472.1 1026.1,469.4 1026.6,468.9 1027.1,465.8 1027.6,464.7 1028.1,462.4 1028.6,462.7 1029.1,460.3 1029.6,460.2 1030.1,460.2 1030.6,459.7 1031.1,459.2 1031.6,456.8 1032.1,458.2 1032.6,454.2 1033.1,453.9 1033.6,451.7 1034.1,450.4 1034.6,448.2 1035.1,447.3 1035.6,444.6 1036.1,441.8 1036.6,441.3 1037.1,442.2 1037.6,440.9 1038.1,439.5 1038.6,439.9 1039.1,441.4 1039.6,440.2 1040.1,439 1040.6,437.1 1041.1,438.6 1041.6,437.3 1042.1,439.1 1042.6,438.4 1043.9,437.4 1045.2,434.7 1046.5,434 1047.8,436 1049.1,434.8 1050.4,433.9 1051.7,432.5 1053,433.2 1054.3,431 1055.6,428.9 1056.9,427.7 1058.2,427.9 1059.5,428 1060.8,425.5 1062.1,423.9 1063.4,423 1064.7,423.7 1066,422.1 1067.3,424 1068.6,423.3 1069.9,425.5 1071.2,424 1072.5,425.1 1073.8,420.4 1075.1,421.1 1076.4,420.6 1077.7,421.8 1079,419.1 1080.3,418.6 1081.6,420.8 1082.9,422.6 1084.2,421.1 1085.5,420.2 1086.8,419.2 1088.1,420.7 1089.4,420 1090.7,421.9 1092,421 1093.3,421.6 1094.6,421.5 1095.9,420 1097.2,421.1 1098.5,419.4 1099.8,419.2 1101.1,418.4 1102.4,418.7 1103.7,420 1105,420.3 1106.3,417.3 1107.6,418.3 1108.9,419.6 1110.2,420.5 1111.5,421.1 1112.8,417.9 1114.1,417.3 1115.4,417.1 1116.7,419.8 1118,419.9 1119.3,419.9 1120.6,419.2 1121.9,419.9 1123.2,419.5 1124.5,419.3 1125.8,419.8 1127.1,419.9 1128.4,421.1 1129.7,422.4 1131,422.1 1132.3,420.1 1133.6,418.9 1134.9,420.4 1136.2,421.7 1137.5,422.6 1138.8,420.5 1140.1,420.9 1141.4,420.9 1142.7,421 1144,418.7 1145.3,419.5 1146.6,421.5 1147.9,422.6 1149.2,422.5 1150.5,418.9 1151.8,420.3 1153.1,418.6 1154.4,420.8 1155.7,419.5 1157,419.5 1158.3,419.4 1159.6,421 1160.9,421.2 1162.2,420.2 1163.5,420.2 1164.8,421.5 1166.1,422.2 1167.4,423.6 1168.7,421.9 1170,420.5 1171.3,419 1172.6,418.6 1173.9,419.7 1175.2,419.2 1176.5,420.3 1177.8,419.6 1179.1,418.2 1180.4,417.9 1181.7,419.3 1183,417.3 1184.3,416.9 1185.6,416.3 1186.9,418.3 1188.2,417.5 1189.5,417.4 1190.8,417.7 1192.1,419.7 1193.4,417.2 1194.7,415.3 1196,412.4 1197.3,414.3 1198.6,412.5 1199.9,414.6 1201.2,415.1 1202.5,416.3 1203.8,415.4 1205.1,417 1206.4,417.8 1207.7,417.6 1209,416.9 1210.3,417.4 1211.6,416.1 1212.9,415.6 1214.2,415.4 1215.5,416.5 1216.8,415 1218.1,414.8 1219.4,415.1 1220.7,413.1 1222,415.3 1223.3,416.6 1224.6,418.7 1225.9,417.8 1227.2,419.3 1228.5,418.7 1229.8,419.6 1231.1,416.6 1232.4,417.9 1233.7,420.4 1235,421.5 1236.3,420.7 1237.6,419.3 1238.9,419.6 1240.2,419.1 1241.5,418.7 1242.8,418.4 1244.1,420.9 1245.4,419.5" fill="none" stroke="#0e4b70" stroke-width="1.5" stroke-linejoin="round"/>
<path d="M989,418 990.6,418.2 991.1,418.2 991.6,418.4 992.1,417.8 992.6,417.4 993.1,415.8 993.6,413.1 994.1,411 994.6,409.7 995.1,409.4 995.6,409.7 996.1,411.9 996.6,417.3 997.1,428 997.6,443.4 998.1,462 998.6,482.7 999.1,504.3 999.6,525.6 1000.1,545.7 1000.6,563.6 1001.1,579.9 1001.6,593.2 1002.1,604.4 1002.6,613.7 1003.1,620.6 1003.6,626 1004.1,629.2 1004.6,631.1 1005.1,630.8 1005.6,629.5 1006.1,627.1 1006.6,623.3 1007.1,618.9 1007.6,614.4 1008.1,610.7 1008.6,605.7 1009.1,600.8 1009.6,594.1 1010.1,588.4 1010.6,582.5 1011.1,577.5 1011.6,572.4 1012.1,565.9 1012.6,560 1013.1,553.3 1013.6,547.6 1014.1,542 1014.6,537.3 1015.1,533.3 1015.6,528.4 1016.1,524.4 1016.6,520.8 1017.1,515.4 1017.6,510.2 1018.1,506.2 1018.6,502.4 1019.1,498.5 1019.6,495.6 1020.1,492.8 1020.6,490.8 1021.1,487.6 1021.6,484.2 1022.1,481 1022.6,478.2 1023.1,475.3 1023.6,474.5 1024.1,472.1 1024.6,469.6 1025.1,465.5 1025.6,464.4 1026.1,464 1026.6,462 1027.1,459.4 1027.6,459 1028.1,458.9 1028.6,457.2 1029.1,456.1 1029.6,453.8 1030.1,453.5 1030.6,452.8 1031.1,452.8 1031.6,451.5 1032.1,449.5 1032.6,449.1 1033.1,447.4 1033.6,445.3 1034.1,445.2 1034.6,444 1035.1,444.1 1035.6,441 1036.1,438.9 1036.6,437.5 1037.1,436.6 1037.6,438.3 1038.1,438.6 1038.6,439.9 1039.1,439.2 1039.6,437.4 1040.1,436.7 1040.6,436.7 1041.1,436 1041.6,433.8 1042.1,433 1042.6,435 1043.9,436.4 1045.2,435.2 1046.5,434.4 1047.8,430.7 1049.1,430.1 1050.4,427.5 1051.7,428.3 1053,427.7 1054.3,429.2 1055.6,429.4 1056.9,428 1058.2,427.1 1059.5,425.4 1060.8,425.1 1062.1,424 1063.4,425 1064.7,426.6 1066,428 1067.3,425.9 1068.6,424.5 1069.9,423.3 1071.2,426.5 1072.5,425.7 1073.8,425.4 1075.1,422.1 1076.4,422.2 1077.7,420.5 1079,421.5 1080.3,420.9 1081.6,421.6 1082.9,421 1084.2,422.3 1085.5,422 1086.8,421.1 1088.1,420.2 1089.4,419.3 1090.7,422.6 1092,422.6 1093.3,423.6 1094.6,421.8 1095.9,421.3 1097.2,421.5 1098.5,419.1 1099.8,418.1 1101.1,418.1 1102.4,420.5 1103.7,422.3 1105,423.6 1106.3,424.4 1107.6,423.7 1108.9,423 1110.2,422.1 1111.5,420.3 1112.8,419.4 1114.1,419.9 1115.4,421.4 1116.7,419.5 1118,418.4 1119.3,417.8 1120.6,420.4 1121.9,419.3 1123.2,418 1124.5,416.9 1125.8,417 1127.1,418.4 1128.4,419.3 1129.7,419.4 1131,419.4 1132.3,418.5 1133.6,416.9 1134.9,414.9 1136.2,415.2 1137.5,416.6 1138.8,419.2 1140.1,420 1141.4,419.5 1142.7,419.1 1144,419.6 1145.3,418.8 1146.6,417.5 1147.9,416.5 1149.2,416.4 1150.5,419.3 1151.8,419.4 1153.1,420.9 1154.4,420 1155.7,418.9 1157,420.3 1158.3,420 1159.6,420.2 1160.9,419.3 1162.2,420.2 1163.5,418.5 1164.8,417.4 1166.1,416.2 1167.4,415.8 1168.7,417.1 1170,416.3 1171.3,418.8 1172.6,415.6 1173.9,415.7 1175.2,415.8 1176.5,417.6 1177.8,416.4 1179.1,417.4 1180.4,417.6 1181.7,419.3 1183,418.6 1184.3,418.7 1185.6,418.1 1186.9,417.5 1188.2,417.8 1189.5,418 1190.8,417.4 1192.1,417.8 1193.4,417.6 1194.7,419.4 1196,419.5 1197.3,420.2 1198.6,419.5 1199.9,418.5 1201.2,417.8 1202.5,417.1 1203.8,417 1205.1,417.3 1206.4,416.4 1207.7,416.5 1209,416.7 1210.3,416.4 1211.6,415.6 1212.9,416.5 1214.2,418.9 1215.5,419.1 1216.8,419.7 1218.1,419.3 1219.4,420.1 1220.7,418.3 1222,417.8 1223.3,418.8 1224.6,419.2 1225.9,418.5 1227.2,418 1228.5,418.2 1229.8,417.9 1231.1,419.5 1232.4,420.8 1233.7,422.2 1235,423.1 1236.3,421.8 1237.6,420.3 1238.9,419.9 1240.2,420 1241.5,420.6 1242.8,419.6 1244.1,420.6 1245.4,418.9" fill="none" stroke="#0e4b70" stroke-width="1.5" stroke-linejoin="round"/>
<path d="M989,419.3 990.6,419.2 991.1,419.4 991.6,419.4 992.1,419.4 992.6,419.9 993.1,418.5 993.6,416.6 994.1,415.4 994.6,414.6 995.1,414.7 995.6,414.8 996.1,416 996.6,420.2 997.1,428.7 997.6,441 998.1,457.1 998.6,475.3 999.1,493.6 999.6,511.6 1000.1,528.3 1000.6,544.2 1001.1,558 1001.6,569.9 1002.1,580 1002.6,587.9 1003.1,593.9 1003.6,597.8 1004.1,600.1 1004.6,601 1005.1,601.3 1005.6,600.7 1006.1,598.5 1006.6,595.2 1007.1,591.7 1007.6,587.8 1008.1,583.8 1008.6,579.2 1009.1,574.2 1009.6,569.3 1010.1,564.7 1010.6,559.5 1011.1,554.2 1011.6,549.3 1012.1,544.2 1012.6,539.8 1013.1,534.5 1013.6,530.6 1014.1,526.8 1014.6,522 1015.1,518.3 1015.6,512.5 1016.1,507.3 1016.6,502.6 1017.1,500.5 1017.6,498.8 1018.1,494.2 1018.6,490.9 1019.1,486.3 1019.6,481.9 1020.1,479.5 1020.6,477.2 1021.1,477.9 1021.6,476.2 1022.1,474.6 1022.6,471.2 1023.1,469.2 1023.6,467.4 1024.1,467 1024.6,467.2 1025.1,465.2 1025.6,464 1026.1,460.6 1026.6,459.9 1027.1,458.9 1027.6,456.5 1028.1,454 1028.6,452.3 1029.1,450.3 1029.6,450.5 1030.1,449.6 1030.6,448.8 1031.1,449.5 1031.6,449.2 1032.1,448.7 1032.6,445.9 1033.1,446.9 1033.6,445 1034.1,444 1034.6,443.3 1035.1,444.8 1035.6,442.6 1036.1,440.4 1036.6,438.7 1037.1,441.5 1037.6,439.7 1038.1,438 1038.6,435.5 1039.1,434.3 1039.6,430.9 1040.1,431.8 1040.6,434 1041.1,435.8 1041.6,436.6 1042.1,436.2 1042.6,436.2 1043.9,433.1 1045.2,432.4 1046.5,433 1047.8,434.2 1049.1,432.1 1050.4,431.6 1051.7,430 1053,429.2 1054.3,429.2 1055.6,427.9 1056.9,428.7 1058.2,427.5 1059.5,428.9 1060.8,428.2 1062.1,428 1063.4,428.9 1064.7,429.8 1066,428.2 1067.3,426 1068.6,426.2 1069.9,426.2 1071.2,427 1072.5,426.3 1073.8,427.6 1075.1,425.8 1076.4,424.8 1077.7,423 1079,423.1 1080.3,421.8 1081.6,422.7 1082.9,420 1084.2,419.6 1085.5,419 1086.8,418.6 1088.1,418.1 1089.4,417 1090.7,418.9 1092,418.8 1093.3,421.3 1094.6,421.5 1095.9,420.4 1097.2,419.5 1098.5,419.9 1099.8,421.1 1101.1,421.6 1102.4,422.2 1103.7,422.1 1105,421.4 1106.3,418.9 1107.6,418.9 1108.9,418.9 1110.2,418.5 1111.5,417.4 1112.8,417 1114.1,415.5 1115.4,416.9 1116.7,416.1 1118,417.8 1119.3,417.8 1120.6,417.4 1121.9,417.3 1123.2,415.6 1124.5,416.9 1125.8,416.6 1127.1,414.9 1128.4,415 1129.7,415.5 1131,417.5 1132.3,418 1133.6,419.3 1134.9,420 1136.2,421.1 1137.5,420.3 1138.8,421.8 1140.1,419.8 1141.4,420.5 1142.7,421.2 1144,420.4 1145.3,421.1 1146.6,418.9 1147.9,420.4 1149.2,419.8 1150.5,420.8 1151.8,418.7 1153.1,417.5 1154.4,417 1155.7,418.3 1157,419.2 1158.3,419.8 1159.6,421.8 1160.9,421.4 1162.2,419.5 1163.5,417.8 1164.8,418.8 1166.1,419.5 1167.4,420.7 1168.7,420.7 1170,420.8 1171.3,419.9 1172.6,418.7 1173.9,419.7 1175.2,418.7 1176.5,421.1 1177.8,420.8 1179.1,421.4 1180.4,419.2 1181.7,418.2 1183,417.8 1184.3,418.1 1185.6,419.4 1186.9,419.1 1188.2,418.1 1189.5,418.8 1190.8,418.7 1192.1,418.3 1193.4,417.7 1194.7,417.6 1196,416.2 1197.3,416.5 1198.6,418.8 1199.9,421.4 1201.2,420.3 1202.5,420.8 1203.8,421.5 1205.1,420.5 1206.4,419.3 1207.7,419.9 1209,420.2 1210.3,420.3 1211.6,418.4 1212.9,416.8 1214.2,415.6 1215.5,416 1216.8,416.7 1218.1,416.1 1219.4,414.7 1220.7,416.4 1222,416.6 1223.3,417 1224.6,415.4 1225.9,415.6 1227.2,415.4 1228.5,417.5 1229.8,418 1231.1,419.5 1232.4,417.9 1233.7,417.1 1235,416.4 1236.3,417.4 1237.6,417.2 1238.9,418.1 1240.2,418.2 1241.5,419.4 1242.8,418.6 1244.1,419.3 1245.4,416.5" fill="none" stroke="#0e4b70" stroke-width="1.5" stroke-linejoin="round"/>
<path d="M989,418.2 990.6,418.3 991.1,418.4 991.6,418.4 992.1,418.4 992.6,418.5 993.1,417.5 993.6,415.7 994.1,414.1 994.6,413.2 995.1,412.5 995.6,413.4 996.1,414.9 996.6,418.3 997.1,424.5 997.6,433.4 998.1,444.2 998.6,456 999.1,468.5 999.6,481 1000.1,492.6 1000.6,503.1 1001.1,512.3 1001.6,520.5 1002.1,527.9 1002.6,533.7 1003.1,537.7 1003.6,540.9 1004.1,542.9 1004.6,544.1 1005.1,544.3 1005.6,543.7 1006.1,543 1006.6,540.9 1007.1,539.2 1007.6,537.3 1008.1,534.1 1008.6,531.4 1009.1,527.8 1009.6,523.8 1010.1,518.9 1010.6,515.9 1011.1,513.5 1011.6,509.8 1012.1,505.9 1012.6,502.3 1013.1,499.2 1013.6,495.9 1014.1,492.7 1014.6,490.4 1015.1,485.9 1015.6,483.2 1016.1,481 1016.6,478.2 1017.1,475.5 1017.6,474 1018.1,470.3 1018.6,468.9 1019.1,467.1 1019.6,466.1 1020.1,464.9 1020.6,461.5 1021.1,461.2 1021.6,458.3 1022.1,456.9 1022.6,454.1 1023.1,454.2 1023.6,452.6 1024.1,452.9 1024.6,450.2 1025.1,449.5 1025.6,450 1026.1,446.9 1026.6,446.2 1027.1,444.1 1027.6,444.4 1028.1,443.5 1028.6,444.6 1029.1,445 1029.6,442.7 1030.1,441.2 1030.6,441 1031.1,440.6 1031.6,439.7 1032.1,439.2 1032.6,438.9 1033.1,437.7 1033.6,435.8 1034.1,436.3 1034.6,438.2 1035.1,436.7 1035.6,437.1 1036.1,435.8 1036.6,436.6 1037.1,434.4 1037.6,434.1 1038.1,435.1 1038.6,434.3 1039.1,433.3 1039.6,431.4 1040.1,430.6 1040.6,428.1 1041.1,428.1 1041.6,426.2 1042.1,426.4 1042.6,426.5 1043.9,428 1045.2,426.5 1046.5,424.3 1047.8,422.6 1049.1,425.4 1050.4,426.3 1051.7,427.4 1053,424.8 1054.3,424.8 1055.6,424 1056.9,424.7 1058.2,425.3 1059.5,426.2 1060.8,424.8 1062.1,424.4 1063.4,424.8 1064.7,425.9 1066,425.3 1067.3,420.4 1068.6,421.4 1069.9,423.3 1071.2,425.4 1072.5,422.8 1073.8,420.9 1075.1,421.8 1076.4,421.2 1077.7,419.3 1079,418.1 1080.3,418.2 1081.6,417.1 1082.9,417.4 1084.2,417 1085.5,416.8 1086.8,417.9 1088.1,418 1089.4,418.1 1090.7,418.7 1092,419.6 1093.3,423 1094.6,421.5 1095.9,419.3 1097.2,417.2 1098.5,417.5 1099.8,417.7 1101.1,417.7 1102.4,418 1103.7,420.4 1105,421 1106.3,420.6 1107.6,421.9 1108.9,420.7 1110.2,420 1111.5,418.6 1112.8,418.4 1114.1,419.2 1115.4,418.3 1116.7,419.4 1118,420.6 1119.3,421 1120.6,421.7 1121.9,420.8 1123.2,420.5 1124.5,419.9 1125.8,420.9 1127.1,420.9 1128.4,417.8 1129.7,417 1131,418.7 1132.3,419.8 1133.6,419.4 1134.9,420 1136.2,419.7 1137.5,421.7 1138.8,421.2 1140.1,422.8 1141.4,419.5 1142.7,420.7 1144,420.8 1145.3,421.2 1146.6,420.4 1147.9,420.9 1149.2,422.3 1150.5,420.9 1151.8,421.6 1153.1,420.9 1154.4,420.1 1155.7,420 1157,420.7 1158.3,421.3 1159.6,421.1 1160.9,421.6 1162.2,421.1 1163.5,421.6 1164.8,420.5 1166.1,420.8 1167.4,420.9 1168.7,420 1170,418.2 1171.3,417 1172.6,415.8 1173.9,416.8 1175.2,417.5 1176.5,416.7 1177.8,415.7 1179.1,416.2 1180.4,419.1 1181.7,419.7 1183,418.5 1184.3,418.4 1185.6,419.4 1186.9,419.3 1188.2,420.5 1189.5,420.6 1190.8,421 1192.1,421.7 1193.4,420.4 1194.7,418.7 1196,418.6 1197.3,422.1 1198.6,423.5 1199.9,421.7 1201.2,419.5 1202.5,419.6 1203.8,418.1 1205.1,415.8 1206.4,415.9 1207.7,416.2 1209,416.4 1210.3,416.1 1211.6,416.8 1212.9,418.5 1214.2,416.5 1215.5,416.4 1216.8,415.9 1218.1,415.1 1219.4,415.2 1220.7,415 1222,417.1 1223.3,417.8 1224.6,418 1225.9,417.5 1227.2,417.9 1228.5,418.2 1229.8,417.9 1231.1,416.9 1232.4,415.8 1233.7,415.6 1235,417.3 1236.3,418.3 1237.6,419.9 1238.9,419.6 1240.2,419.5 1241.5,419.9 1242.8,418.6 1244.1,418.9 1245.4,417.7" fill="none" stroke="#0e4b70" stroke-width="1.5" stroke-linejoin="round"/>
<path d="M989,417.5 990.6,417.3 991.1,417.5 991.6,417.1 992.1,417.4 992.6,417.1 993.1,415.7 993.6,412.2 994.1,409.8 994.6,408.9 995.1,408.9 995.6,409.6 996.1,410.8 996.6,412.7 997.1,416.1 997.6,421.1 998.1,427.4 998.6,433.7 999.1,439.7 999.6,445.9 1000.1,452.1 1000.6,457.8 1001.1,462.3 1001.6,466.3 1002.1,470 1002.6,472.9 1003.1,475 1003.6,476.4 1004.1,478 1004.6,479.1 1005.1,479.4 1005.6,479.4 1006.1,478.9 1006.6,478.5 1007.1,477.8 1007.6,476.4 1008.1,474.5 1008.6,472.7 1009.1,471 1009.6,469.4 1010.1,468 1010.6,465.9 1011.1,463.3 1011.6,461.6 1012.1,461.1 1012.6,461.6 1013.1,460.2 1013.6,458.3 1014.1,455.7 1014.6,453.3 1015.1,452.1 1015.6,450.6 1016.1,448.6 1016.6,448.6 1017.1,448.4 1017.6,447.8 1018.1,446 1018.6,445.1 1019.1,444 1019.6,443.2 1020.1,441.6 1020.6,438.9 1021.1,438.1 1021.6,437.6 1022.1,438.2 1022.6,437.3 1023.1,435.6 1023.6,435.9 1024.1,435.2 1024.6,434.6 1025.1,433.9 1025.6,432.6 1026.1,432.4 1026.6,432.6 1027.1,433.3 1027.6,432.3 1028.1,430.8 1028.6,429.2 1029.1,429.3 1029.6,429.4 1030.1,428.8 1030.6,427.4 1031.1,426.6 1031.6,425.9 1032.1,424.4 1032.6,422.9 1033.1,423.1 1033.6,423.5 1034.1,423.5 1034.6,424.6 1035.1,425.5 1035.6,423.8 1036.1,423.4 1036.6,424.1 1037.1,425.4 1037.6,425.4 1038.1,425 1038.6,424 1039.1,424.7 1039.6,424.3 1040.1,425.2 1040.6,424.8 1041.1,424.9 1041.6,426.5 1042.1,425.8 1042.6,425.9 1043.9,423.7 1045.2,422.3 1046.5,421.3 1047.8,421.3 1049.1,421.5 1050.4,420.1 1051.7,418.9 1053,417.8 1054.3,418.5 1055.6,420 1056.9,421.6 1058.2,421.3 1059.5,421.4 1060.8,420.5 1062.1,422.1 1063.4,420.4 1064.7,420.9 1066,420.6 1067.3,420.2 1068.6,420.2 1069.9,419.4 1071.2,420.8 1072.5,419.7 1073.8,420.5 1075.1,420 1076.4,420.5 1077.7,419.9 1079,420.8 1080.3,418.8 1081.6,419.3 1082.9,417.9 1084.2,420 1085.5,419 1086.8,418.4 1088.1,418.3 1089.4,419.2 1090.7,418.5 1092,416.9 1093.3,415 1094.6,414.5 1095.9,416.3 1097.2,415.7 1098.5,418 1099.8,417.1 1101.1,417.9 1102.4,417.3 1103.7,416.2 1105,416.1 1106.3,417.7 1107.6,419.2 1108.9,419.6 1110.2,418.1 1111.5,416.8 1112.8,418.2 1114.1,417 1115.4,416.6 1116.7,414.7 1118,414.8 1119.3,415.2 1120.6,414.7 1121.9,414.6 1123.2,413.6 1124.5,415.9 1125.8,416.4 1127.1,417.2 1128.4,417.1 1129.7,417.5 1131,419.6 1132.3,420.2 1133.6,421.7 1134.9,422.6 1136.2,421.2 1137.5,420.6 1138.8,420.9 1140.1,420.3 1141.4,420.5 1142.7,418.4 1144,420 1145.3,420.5 1146.6,420.7 1147.9,419.1 1149.2,416.5 1150.5,416.7 1151.8,418 1153.1,418.9 1154.4,418.2 1155.7,418.9 1157,419.1 1158.3,418.8 1159.6,416.6 1160.9,416 1162.2,416.3 1163.5,416.9 1164.8,415.6 1166.1,414.7 1167.4,414.9 1168.7,417.8 1170,417.2 1171.3,415.3 1172.6,413.4 1173.9,414.4 1175.2,415.4 1176.5,416.2 1177.8,415.8 1179.1,416.9 1180.4,418.1 1181.7,418.5 1183,419.3 1184.3,417.5 1185.6,418.5 1186.9,419.4 1188.2,418.6 1189.5,417 1190.8,417.3 1192.1,417.1 1193.4,417.4 1194.7,414.9 1196,414.1 1197.3,415 1198.6,415.2 1199.9,415.9 1201.2,413.9 1202.5,412.8 1203.8,413.1 1205.1,414.3 1206.4,414.4 1207.7,414.9 1209,416 1210.3,415.3 1211.6,416 1212.9,415.9 1214.2,416.2 1215.5,414.8 1216.8,415.5 1218.1,417 1219.4,417.8 1220.7,417.1 1222,418 1223.3,417.2 1224.6,417 1225.9,416.6 1227.2,418 1228.5,418.1 1229.8,417.8 1231.1,418.1 1232.4,419.1 1233.7,418.5 1235,417.6 1236.3,417.7 1237.6,417.4 1238.9,420 1240.2,421 1241.5,422.9 1242.8,422 1244.1,421.6 1245.4,421.1" fill="none" stroke="#0e4b70" stroke-width="1.5" stroke-linejoin="round"/>
<path d="M989,417.6 990.6,417.8 991.1,417.7 991.6,417.7 992.1,417.4 992.6,417.7 993.1,416.4 993.6,414.9 994.1,413.8 994.6,413.1 995.1,413.2 995.6,413.6 996.1,414 996.6,414.8 997.1,416.1 997.6,418.2 998.1,420.5 998.6,423 999.1,426.2 999.6,429.5 1000.1,432.3 1000.6,434.7 1001.1,436.8 1001.6,439.4 1002.1,441.4 1002.6,443.1 1003.1,443.9 1003.6,444.8 1004.1,445.6 1004.6,446.4 1005.1,446.5 1005.6,446.6 1006.1,446.5 1006.6,446.3 1007.1,446.3 1007.6,445.1 1008.1,443.5 1008.6,442 1009.1,441.4 1009.6,441 1010.1,440.8 1010.6,440.3 1011.1,440.1 1011.6,438.8 1012.1,437.4 1012.6,436.2 1013.1,435.8 1013.6,435.4 1014.1,435.4 1014.6,434.6 1015.1,434 1015.6,433.3 1016.1,432.9 1016.6,432 1017.1,431.6 1017.6,431.7 1018.1,432.3 1018.6,433.5 1019.1,432.7 1019.6,430.7 1020.1,427.5 1020.6,425.9 1021.1,424 1021.6,425.3 1022.1,425.8 1022.6,425.5 1023.1,423.8 1023.6,423.6 1024.1,424.4 1024.6,424.4 1025.1,423.2 1025.6,423.5 1026.1,422.8 1026.6,424.1 1027.1,423.1 1027.6,423.2 1028.1,422.1 1028.6,423.9 1029.1,423.4 1029.6,424.3 1030.1,426.8 1030.6,428.2 1031.1,426.6 1031.6,422.5 1032.1,422.6 1032.6,423.6 1033.1,422.6 1033.6,422.8 1034.1,420.5 1034.6,419.6 1035.1,418.6 1035.6,417.8 1036.1,419.3 1036.6,420.4 1037.1,421.6 1037.6,421.8 1038.1,421 1038.6,421.7 1039.1,422.9 1039.6,422.6 1040.1,421.6 1040.6,422.2 1041.1,421.7 1041.6,423.6 1042.1,423 1042.6,422.1 1043.9,421.6 1045.2,420.2 1046.5,419.6 1047.8,418.8 1049.1,419.8 1050.4,420.5 1051.7,419.8 1053,419.2 1054.3,420 1055.6,416.9 1056.9,415.2 1058.2,414.7 1059.5,415.5 1060.8,417.1 1062.1,417 1063.4,417.2 1064.7,416.4 1066,414.8 1067.3,414.4 1068.6,416.2 1069.9,417 1071.2,417.8 1072.5,418.2 1073.8,417.7 1075.1,420.4 1076.4,419.6 1077.7,420.9 1079,419.7 1080.3,419.9 1081.6,420 1082.9,418.9 1084.2,417.2 1085.5,417.2 1086.8,418 1088.1,418.6 1089.4,417.7 1090.7,416.7 1092,417.1 1093.3,416.9 1094.6,416.6 1095.9,416.7 1097.2,416.1 1098.5,417.3 1099.8,416.8 1101.1,416.9 1102.4,416.8 1103.7,416.3 1105,416.1 1106.3,415.2 1107.6,414.7 1108.9,414.6 1110.2,415.4 1111.5,413.8 1112.8,414.8 1114.1,415.2 1115.4,417.5 1116.7,417.1 1118,416.8 1119.3,417 1120.6,418.4 1121.9,418.4 1123.2,418.4 1124.5,418 1125.8,419.4 1127.1,418.6 1128.4,419.2 1129.7,417.7 1131,418.1 1132.3,417.2 1133.6,416.4 1134.9,415.1 1136.2,415.6 1137.5,416.7 1138.8,417.1 1140.1,415.2 1141.4,415.2 1142.7,415.1 1144,416.4 1145.3,415.8 1146.6,416.7 1147.9,415.2 1149.2,413.9 1150.5,413.3 1151.8,414.4 1153.1,416.3 1154.4,419 1155.7,419.7 1157,420.6 1158.3,419.8 1159.6,420.1 1160.9,418.9 1162.2,419.4 1163.5,419.4 1164.8,418.4 1166.1,418.6 1167.4,417.6 1168.7,418.1 1170,417.4 1171.3,418 1172.6,418 1173.9,419.3 1175.2,419.6 1176.5,419.3 1177.8,417.7 1179.1,418.4 1180.4,420.7 1181.7,420.7 1183,420.7 1184.3,421.2 1185.6,422.1 1186.9,420.6 1188.2,421.1 1189.5,419.5 1190.8,419.8 1192.1,418.8 1193.4,419 1194.7,420.4 1196,421.6 1197.3,421.4 1198.6,419.7 1199.9,418.9 1201.2,418 1202.5,420.6 1203.8,419.5 1205.1,419.3 1206.4,416.1 1207.7,416.6 1209,417.7 1210.3,421.1 1211.6,419.1 1212.9,419.5 1214.2,418.3 1215.5,417.9 1216.8,418.6 1218.1,416.7 1219.4,416.3 1220.7,416.6 1222,417.6 1223.3,418.1 1224.6,416.7 1225.9,417.7 1227.2,417.3 1228.5,418.2 1229.8,418.2 1231.1,418.8 1232.4,416.8 1233.7,416.1 1235,415.8 1236.3,415.8 1237.6,416.1 1238.9,419.1 1240.2,417.6 1241.5,417.6 1242.8,417.4 1244.1,419.8 1245.4,421.4" fill="none" stroke="#0e4b70" stroke-width="1.5" stroke-linejoin="round"/>
<path d="M989,417.5 990.6,417.4 991.1,417.4 991.6,417.1 992.1,417.1 992.6,416.6 993.1,414.8 993.6,411.7 994.1,409.6 994.6,408.7 995.1,409.1 995.6,409.6 996.1,410.1 996.6,410.9 997.1,412.2 997.6,414.4 998.1,415.8 998.6,417.7 999.1,419 999.6,420.3 1000.1,420.8 1000.6,421.9 1001.1,422.6 1001.6,423.6 1002.1,424.9 1002.6,424.7 1003.1,425.6 1003.6,425.9 1004.1,427.1 1004.6,427.4 1005.1,427 1005.6,426.7 1006.1,426.5 1006.6,426.1 1007.1,425.6 1007.6,425.5 1008.1,425.4 1008.6,426.2 1009.1,425.4 1009.6,425.3 1010.1,424.5 1010.6,424.8 1011.1,426 1011.6,425.7 1012.1,425.6 1012.6,425.1 1013.1,426.1 1013.6,426 1014.1,425.9 1014.6,423.3 1015.1,424.5 1015.6,422.9 1016.1,423.8 1016.6,423 1017.1,422.8 1017.6,422.8 1018.1,421.6 1018.6,422.5 1019.1,423 1019.6,422.1 1020.1,420.7 1020.6,420.7 1021.1,419.7 1021.6,419.4 1022.1,420.8 1022.6,420.5 1023.1,421.6 1023.6,420.8 1024.1,422.8 1024.6,420.9 1025.1,420.5 1025.6,419.1 1026.1,421.6 1026.6,421.4 1027.1,423.1 1027.6,422 1028.1,421.3 1028.6,420 1029.1,421.9 1029.6,422.6 1030.1,423.3 1030.6,422.2 1031.1,422.8 1031.6,423.9 1032.1,423.1 1032.6,422.6 1033.1,419.2 1033.6,418.9 1034.1,417.6 1034.6,418.7 1035.1,419.1 1035.6,421.3 1036.1,422 1036.6,421.4 1037.1,420.7 1037.6,420 1038.1,419.1 1038.6,420.1 1039.1,420.5 1039.6,421.1 1040.1,419.3 1040.6,419.7 1041.1,419.5 1041.6,420.1 1042.1,419 1042.6,418 1043.9,418.8 1045.2,418.6 1046.5,419.8 1047.8,418.1 1049.1,417.6 1050.4,415.3 1051.7,416.5 1053,417.4 1054.3,418.3 1055.6,420.8 1056.9,420.7 1058.2,421.4 1059.5,421.8 1060.8,423 1062.1,423.6 1063.4,421.6 1064.7,419.6 1066,420.6 1067.3,419.6 1068.6,419.6 1069.9,417.9 1071.2,418.8 1072.5,418.5 1073.8,419.4 1075.1,419 1076.4,419.2 1077.7,417.5 1079,418.2 1080.3,417 1081.6,418.5 1082.9,417.2 1084.2,419.3 1085.5,419.4 1086.8,417.5 1088.1,417.6 1089.4,416.8 1090.7,418.3 1092,418 1093.3,418.8 1094.6,418.7 1095.9,418.5 1097.2,418.7 1098.5,417.6 1099.8,416.8 1101.1,415.6 1102.4,415.8 1103.7,416.2 1105,416.9 1106.3,416.2 1107.6,415.6 1108.9,413.9 1110.2,416 1111.5,415.2 1112.8,415 1114.1,414.7 1115.4,416.6 1116.7,415.1 1118,413.4 1119.3,413.9 1120.6,416.3 1121.9,418.3 1123.2,419.3 1124.5,420.7 1125.8,419.8 1127.1,418.5 1128.4,420.1 1129.7,420.9 1131,421.6 1132.3,420.2 1133.6,421 1134.9,420.4 1136.2,419.9 1137.5,418.9 1138.8,418.1 1140.1,419.5 1141.4,418.9 1142.7,419.9 1144,418.5 1145.3,417.6 1146.6,416.9 1147.9,417.4 1149.2,417.6 1150.5,417.7 1151.8,418.8 1153.1,419.1 1154.4,419.6 1155.7,417.4 1157,418.7 1158.3,417.4 1159.6,418.5 1160.9,419.8 1162.2,420.8 1163.5,419.2 1164.8,420.1 1166.1,418.4 1167.4,420 1168.7,419.1 1170,420.1 1171.3,419.4 1172.6,419.4 1173.9,421.1 1175.2,420.8 1176.5,420.1 1177.8,420.2 1179.1,421.4 1180.4,420.4 1181.7,420.2 1183,420.1 1184.3,418.7 1185.6,418.6 1186.9,417.9 1188.2,418 1189.5,415.8 1190.8,414.6 1192.1,415.5 1193.4,418.3 1194.7,420.2 1196,420.3 1197.3,420.1 1198.6,419.8 1199.9,419.6 1201.2,419.4 1202.5,420.1 1203.8,419.5 1205.1,419.7 1206.4,417.7 1207.7,416.4 1209,414.1 1210.3,415.6 1211.6,418.7 1212.9,419.1 1214.2,419.4 1215.5,418.3 1216.8,419.8 1218.1,418.9 1219.4,419.2 1220.7,418.3 1222,419.7 1223.3,420.7 1224.6,421.1 1225.9,418.5 1227.2,416.7 1228.5,417.2 1229.8,419.6 1231.1,420.3 1232.4,420.9 1233.7,418.2 1235,417.3 1236.3,416.8 1237.6,418.6 1238.9,420.7 1240.2,420.7 1241.5,419.8 1242.8,417.6 1244.1,416 1245.4,416.8" fill="none" stroke="#0e4b70" stroke-width="1.5" stroke-linejoin="round"/>
<path d="M989,419.2 990.6,419.5 991.1,419.3 991.6,419.5 992.1,419.3 992.6,419.3 993.1,417.2 993.6,414 994.1,411.4 994.6,410 995.1,409.5 995.6,410.1 996.1,411 996.6,412.2 997.1,413.1 997.6,413.9 998.1,414.9 998.6,416.1 999.1,416.9 999.6,417.5 1000.1,418.3 1000.6,418.8 1001.1,418.9 1001.6,419.3 1002.1,419.8 1002.6,420.5 1003.1,420.8 1003.6,421.2 1004.1,421 1004.6,421.1 1005.1,421 1005.6,421.2 1006.1,420.6 1006.6,420.8 1007.1,420.7 1007.6,421.3 1008.1,421.2 1008.6,421.4 1009.1,421.4 1009.6,421.3 1010.1,420.9 1010.6,421.1 1011.1,421.7 1011.6,422.1 1012.1,421.4 1012.6,420.7 1013.1,420.6 1013.6,421.2 1014.1,420.6 1014.6,420.6 1015.1,420.7 1015.6,421.1 1016.1,421.5 1016.6,421 1017.1,422.4 1017.6,421.9 1018.1,422.1 1018.6,421.8 1019.1,422.7 1019.6,422 1020.1,423.8 1020.6,423.2 1021.1,422.7 1021.6,418.8 1022.1,418.7 1022.6,418.4 1023.1,419.9 1023.6,419 1024.1,418.2 1024.6,418 1025.1,417.7 1025.6,418.4 1026.1,417.3 1026.6,418.1 1027.1,417.7 1027.6,416.4 1028.1,416.3 1028.6,418.5 1029.1,421.7 1029.6,423 1030.1,423.3 1030.6,421.7 1031.1,421.2 1031.6,420.4 1032.1,419.8 1032.6,417.9 1033.1,417.2 1033.6,416.5 1034.1,418 1034.6,417.3 1035.1,418.2 1035.6,419.7 1036.1,418.3 1036.6,419.6 1037.1,416.2 1037.6,415.6 1038.1,413.9 1038.6,414.4 1039.1,417.6 1039.6,419.6 1040.1,420.9 1040.6,422.9 1041.1,422.2 1041.6,423.1 1042.1,421 1042.6,421.6 1043.9,420.5 1045.2,422.2 1046.5,421.3 1047.8,420.7 1049.1,420 1050.4,417.3 1051.7,418.2 1053,416.6 1054.3,418.1 1055.6,418.4 1056.9,420.2 1058.2,419.1 1059.5,418.5 1060.8,417.7 1062.1,418.5 1063.4,418.1 1064.7,417.3 1066,415.8 1067.3,417.1 1068.6,417.1 1069.9,417.9 1071.2,418.3 1072.5,419.5 1073.8,420.3 1075.1,417.4 1076.4,417.7 1077.7,419.2 1079,421.3 1080.3,417.9 1081.6,417.8 1082.9,418.7 1084.2,419.4 1085.5,421.1 1086.8,421.6 1088.1,418.2 1089.4,414.9 1090.7,414.4 1092,416.3 1093.3,417.5 1094.6,417.7 1095.9,417.8 1097.2,416.6 1098.5,416.1 1099.8,417.2 1101.1,416 1102.4,415.3 1103.7,416.3 1105,418.1 1106.3,418.9 1107.6,421.4 1108.9,421.1 1110.2,422.2 1111.5,421.7 1112.8,422.2 1114.1,423.5 1115.4,421.2 1116.7,424.2 1118,420.9 1119.3,422.7 1120.6,421.3 1121.9,421 1123.2,420.3 1124.5,420.3 1125.8,419.7 1127.1,420.2 1128.4,421.5 1129.7,420.8 1131,423.1 1132.3,421.8 1133.6,422.7 1134.9,420.2 1136.2,417.3 1137.5,418.7 1138.8,418.7 1140.1,418.9 1141.4,418.3 1142.7,419.5 1144,421.6 1145.3,424.1 1146.6,422.8 1147.9,421.3 1149.2,419.3 1150.5,418 1151.8,417.5 1153.1,417.4 1154.4,417.9 1155.7,417.9 1157,418 1158.3,416.7 1159.6,416 1160.9,415.8 1162.2,415.6 1163.5,415.4 1164.8,415.8 1166.1,415.3 1167.4,415.9 1168.7,415.5 1170,417.7 1171.3,417.4 1172.6,415.8 1173.9,415.9 1175.2,416.7 1176.5,417.4 1177.8,417 1179.1,417.4 1180.4,418.2 1181.7,416.7 1183,417.7 1184.3,418.1 1185.6,420.1 1186.9,419.6 1188.2,420.5 1189.5,419 1190.8,421.3 1192.1,420.3 1193.4,419.9 1194.7,417.5 1196,416.2 1197.3,416.6 1198.6,417.9 1199.9,418.9 1201.2,418.8 1202.5,417.3 1203.8,417.5 1205.1,418.9 1206.4,419 1207.7,418.8 1209,421.1 1210.3,420 1211.6,419.3 1212.9,420.1 1214.2,419.7 1215.5,420.7 1216.8,419 1218.1,417.9 1219.4,417.4 1220.7,417 1222,418.8 1223.3,420.7 1224.6,420.2 1225.9,420.2 1227.2,419.2 1228.5,417.2 1229.8,418.1 1231.1,418.5 1232.4,418.1 1233.7,420.7 1235,419.7 1236.3,418 1237.6,416.3 1238.9,414.4 1240.2,414.2 1241.5,415.8 1242.8,416.8 1244.1,418.6 1245.4,417.3" fill="none" stroke="#0e4b70" stroke-width="1.5" stroke-linejoin="round"/>
<path d="M989,419.1 990.6,419.1 991.1,419.3 991.6,419.1 992.1,419.1 992.6,419.3 993.1,418.7 993.6,416.8 994.1,415.4 994.6,414.5 995.1,414.6 995.6,415 996.1,415.5 996.6,416 997.1,416 997.6,416.2 998.1,416.2 998.6,416.5 999.1,417.1 999.6,417.1 1000.1,417.4 1000.6,417.2 1001.1,417.8 1001.6,418 1002.1,418.2 1002.6,418 1003.1,418 1003.6,418.5 1004.1,418.5 1004.6,418.6 1005.1,418.4 1005.6,418 1006.1,418.1 1006.6,418.3 1007.1,418.5 1007.6,418.4 1008.1,418.3 1008.6,419.1 1009.1,419.5 1009.6,419.9 1010.1,420.4 1010.6,420.7 1011.1,421 1011.6,420.5 1012.1,419.1 1012.6,419 1013.1,418.9 1013.6,418.6 1014.1,417.8 1014.6,418.1 1015.1,418.8 1015.6,419.4 1016.1,419.6 1016.6,419.5 1017.1,419 1017.6,419.8 1018.1,421.1 1018.6,421.3 1019.1,420.5 1019.6,420.8 1020.1,419.2 1020.6,418.3 1021.1,417.1 1021.6,417.3 1022.1,418 1022.6,418.2 1023.1,419.3 1023.6,419.1 1024.1,419.9 1024.6,421.5 1025.1,422.5 1025.6,421.1 1026.1,420.4 1026.6,420.8 1027.1,420.5 1027.6,420.2 1028.1,419.3 1028.6,419 1029.1,418.3 1029.6,419.6 1030.1,419.4 1030.6,418.8 1031.1,419.7 1031.6,418.3 1032.1,419.1 1032.6,417.2 1033.1,418.7 1033.6,418 1034.1,418.2 1034.6,419.2 1035.1,419 1035.6,416.8 1036.1,416 1036.6,417.1 1037.1,418.2 1037.6,420 1038.1,418.6 1038.6,417.3 1039.1,416.1 1039.6,417.6 1040.1,417.5 1040.6,418.5 1041.1,418 1041.6,418.2 1042.1,418.8 1042.6,419.1 1043.9,419.5 1045.2,419.7 1046.5,418.8 1047.8,419.1 1049.1,419.9 1050.4,420 1051.7,419.5 1053,418.2 1054.3,420 1055.6,421.2 1056.9,419.6 1058.2,418.2 1059.5,420 1060.8,420.3 1062.1,419.4 1063.4,418.4 1064.7,418.3 1066,418.8 1067.3,417 1068.6,416.9 1069.9,417.3 1071.2,417.8 1072.5,418.8 1073.8,420.3 1075.1,420.5 1076.4,420.5 1077.7,418.4 1079,418 1080.3,418.5 1081.6,418.1 1082.9,420.9 1084.2,419.9 1085.5,420.8 1086.8,420.3 1088.1,419 1089.4,418.4 1090.7,417.4 1092,417.6 1093.3,418.8 1094.6,418.8 1095.9,419.1 1097.2,417.3 1098.5,418.1 1099.8,419.2 1101.1,421.3 1102.4,421.9 1103.7,422.6 1105,421.2 1106.3,420.6 1107.6,420.3 1108.9,420.8 1110.2,419.3 1111.5,419 1112.8,417.4 1114.1,417 1115.4,416.4 1116.7,414.7 1118,415.1 1119.3,416.5 1120.6,417.7 1121.9,416.1 1123.2,415.5 1124.5,414.8 1125.8,415.8 1127.1,415.3 1128.4,416.4 1129.7,416.5 1131,416.4 1132.3,417.4 1133.6,418 1134.9,418.3 1136.2,418.6 1137.5,418.4 1138.8,420.2 1140.1,420.4 1141.4,420 1142.7,419.4 1144,417.6 1145.3,417 1146.6,416.9 1147.9,419.8 1149.2,421.1 1150.5,420.8 1151.8,418.3 1153.1,417.5 1154.4,416.4 1155.7,418.6 1157,418 1158.3,420.3 1159.6,420.3 1160.9,422.2 1162.2,419.7 1163.5,420.8 1164.8,420.7 1166.1,423 1167.4,422.4 1168.7,421.3 1170,420.9 1171.3,420.2 1172.6,420.8 1173.9,419.3 1175.2,419.1 1176.5,419.8 1177.8,420.5 1179.1,421.7 1180.4,421.9 1181.7,421.3 1183,421.1 1184.3,420.2 1185.6,420.8 1186.9,420.9 1188.2,420.1 1189.5,417.6 1190.8,415.7 1192.1,416.8 1193.4,417.9 1194.7,417.6 1196,416.5 1197.3,416.1 1198.6,416.9 1199.9,417.3 1201.2,419.3 1202.5,417.7 1203.8,417.9 1205.1,415.9 1206.4,418 1207.7,416.8 1209,417.7 1210.3,417.2 1211.6,420.1 1212.9,418.2 1214.2,416 1215.5,413.2 1216.8,412.6 1218.1,414.4 1219.4,415.7 1220.7,417.9 1222,416 1223.3,416 1224.6,416 1225.9,417.3 1227.2,413.6 1228.5,413.2 1229.8,413.6 1231.1,417.3 1232.4,418.8 1233.7,418.9 1235,418.8 1236.3,419.8 1237.6,419.1 1238.9,417.8 1240.2,417.3 1241.5,416.2 1242.8,416.5 1244.1,413.7 1245.4,413.7" fill="none" stroke="#0e4b70" stroke-width="1.5" stroke-linejoin="round"/>
<path d="M989,417.5 990.6,417.3 991.1,417.1 991.6,417.1 992.1,417.2 992.6,416.9 993.1,415.7 993.6,413 994.1,410.8 994.6,410.2 995.1,410.3 995.6,410.9 996.1,411 996.6,411.2 997.1,412.7 997.6,413.5 998.1,414.4 998.6,414.5 999.1,414.8 999.6,415.1 1000.1,415.4 1000.6,415.8 1001.1,415.6 1001.6,416.1 1002.1,416.2 1002.6,416.5 1003.1,416.6 1003.6,416.4 1004.1,416.6 1004.6,416.6 1005.1,416.6 1005.6,417.2 1006.1,416.6 1006.6,416.1 1007.1,414.8 1007.6,416.1 1008.1,417.1 1008.6,418 1009.1,417.7 1009.6,417.1 1010.1,417.3 1010.6,417.2 1011.1,419.1 1011.6,420.1 1012.1,418.8 1012.6,419.4 1013.1,419.2 1013.6,419 1014.1,418.4 1014.6,418.5 1015.1,419.5 1015.6,419.9 1016.1,419.8 1016.6,419.3 1017.1,418 1017.6,417 1018.1,418.5 1018.6,418.3 1019.1,418.7 1019.6,418.6 1020.1,417.6 1020.6,416.2 1021.1,415.5 1021.6,415.5 1022.1,417.6 1022.6,418.1 1023.1,418 1023.6,417.7 1024.1,418.2 1024.6,420.7 1025.1,422.5 1025.6,423.3 1026.1,421.7 1026.6,421.8 1027.1,419 1027.6,420.2 1028.1,419.5 1028.6,420.6 1029.1,419 1029.6,417.3 1030.1,416.8 1030.6,415.1 1031.1,414.2 1031.6,414.2 1032.1,416.2 1032.6,417.7 1033.1,418.3 1033.6,417.4 1034.1,416.1 1034.6,416.8 1035.1,415.9 1035.6,415.1 1036.1,413.2 1036.6,413.2 1037.1,414.4 1037.6,416.3 1038.1,416.3 1038.6,415.8 1039.1,414.9 1039.6,415.3 1040.1,415.3 1040.6,416.4 1041.1,417.5 1041.6,418.1 1042.1,420.9 1042.6,420.9 1043.9,422.5 1045.2,420.8 1046.5,419.5 1047.8,418.5 1049.1,418.8 1050.4,419.1 1051.7,419.1 1053,418.3 1054.3,420.5 1055.6,421 1056.9,419.1 1058.2,419.5 1059.5,419.9 1060.8,420.5 1062.1,419.2 1063.4,418.4 1064.7,418.8 1066,420.9 1067.3,420.5 1068.6,418.6 1069.9,416.8 1071.2,415.2 1072.5,416.4 1073.8,416.7 1075.1,415.8 1076.4,415.1 1077.7,416.9 1079,418.2 1080.3,417.1 1081.6,416.9 1082.9,417.5 1084.2,417.6 1085.5,415 1086.8,415.1 1088.1,414.6 1089.4,416.2 1090.7,416.5 1092,417.2 1093.3,416.8 1094.6,416.5 1095.9,418 1097.2,417.4 1098.5,416.9 1099.8,416.6 1101.1,416.3 1102.4,417 1103.7,416.2 1105,415.9 1106.3,415.5 1107.6,415.5 1108.9,416.5 1110.2,416 1111.5,417.2 1112.8,415.7 1114.1,416.3 1115.4,416.8 1116.7,419 1118,420.3 1119.3,419 1120.6,419 1121.9,415.6 1123.2,416.4 1124.5,416 1125.8,417.2 1127.1,418 1128.4,418 1129.7,419.3 1131,419.2 1132.3,419 1133.6,417.8 1134.9,418.2 1136.2,416.4 1137.5,418.4 1138.8,418.3 1140.1,420.3 1141.4,418.8 1142.7,417.7 1144,416.7 1145.3,416 1146.6,417.1 1147.9,417.7 1149.2,417.4 1150.5,416.4 1151.8,415.6 1153.1,414.9 1154.4,414.9 1155.7,416.4 1157,417.5 1158.3,415.6 1159.6,415.3 1160.9,416.6 1162.2,417.4 1163.5,415.9 1164.8,415.4 1166.1,415.5 1167.4,415.6 1168.7,415.4 1170,416.8 1171.3,416.5 1172.6,416.5 1173.9,415.5 1175.2,414.5 1176.5,416 1177.8,415.4 1179.1,417.9 1180.4,416.7 1181.7,417.5 1183,416.5 1184.3,415.5 1185.6,414.7 1186.9,415.3 1188.2,415.4 1189.5,416.3 1190.8,418.1 1192.1,418.5 1193.4,419 1194.7,418.1 1196,420 1197.3,418.1 1198.6,418 1199.9,418.3 1201.2,420.1 1202.5,420.2 1203.8,418 1205.1,418.9 1206.4,418.9 1207.7,419.3 1209,418.1 1210.3,417.7 1211.6,415.5 1212.9,416.4 1214.2,416.9 1215.5,418.8 1216.8,419 1218.1,417.9 1219.4,417.9 1220.7,418.4 1222,417.5 1223.3,416.2 1224.6,414.6 1225.9,415.6 1227.2,414.6 1228.5,415.8 1229.8,415.9 1231.1,416.6 1232.4,416.6 1233.7,417 1235,418.8 1236.3,418.1 1237.6,416 1238.9,416.3 1240.2,415.3 1241.5,415.7 1242.8,416.5 1244.1,418.9 1245.4,420.3" fill="none" stroke="#0e4b70" stroke-width="1.5" stroke-linejoin="round"/>
<line x1="1350" y1="411.2" x2="1441" y2="411.2" stroke="#6aa7cc" stroke-width="5.4"/>
<path d="M1437,410.3 1438.2,410.4 1438.7,410.5 1439.2,410.4 1439.7,410.5 1440.2,410.2 1440.7,410 1441.2,408.9 1441.7,408.2 1442.2,407.9 1442.7,408.2 1443.2,408.7 1443.7,410.1 1444.2,417.1 1444.7,431.5 1445.2,452.1 1445.7,476.7 1446.2,503.9 1446.7,531.5 1447.2,558.6 1447.7,583.9 1448.2,606.8 1448.7,626.4 1449.2,642.6 1449.7,655.4 1450.2,665.1 1450.7,671.5 1451.2,675.5 1451.7,676.8 1452.2,676.2 1452.7,673.3 1453.2,668.6 1453.7,663.2 1454.2,656.6 1454.7,649.2 1455.2,641.3 1455.7,633 1456.2,624.4 1456.7,615.7 1457.2,607.2 1457.7,599.1 1458.2,590 1458.7,581.4 1459.2,572.7 1459.7,564.4 1460.2,556.7 1460.7,549.6 1461.2,543.3 1461.7,535.2 1462.2,528.9 1462.7,522.1 1463.2,517.2 1463.7,510.9 1464.2,506.1 1464.7,500 1465.2,494.8 1465.7,490 1466.2,485.9 1466.7,482.2 1467.2,478.1 1467.7,475.5 1468.2,471.9 1468.7,469 1469.2,464.7 1469.7,462.5 1470.2,458.5 1470.7,456.8 1471.2,453.7 1471.7,450.8 1472.2,449.5 1472.7,447.8 1473.2,446.6 1473.7,444.9 1474.2,442.8 1474.7,440.7 1475.2,438.9 1475.7,437.8 1476.2,438 1476.7,436.3 1477.2,435 1477.7,433.8 1478.2,431.7 1478.7,430 1479.2,428.1 1479.7,427.3 1480.2,426.4 1480.7,425.2 1481.2,425.6 1481.7,427.6 1482.2,429 1482.7,427.9 1483.2,426 1483.7,424.6 1484.2,424.3 1484.7,424.5 1485.2,425.5 1485.7,425.4 1486.2,422.3 1486.7,421.8 1487.2,420.8 1487.7,422.1 1488.2,421.8 1488.7,421.6 1489.2,422.5 1489.7,423.5 1490.2,421.3 1491.5,420.1 1492.8,419.2 1494.1,420.6 1495.4,420.6 1496.7,419 1498,418.9 1499.3,419.8 1500.6,419.9 1501.9,420.1 1503.2,417.5 1504.5,417.6 1505.8,418.4 1507.1,418.3 1508.4,416.2 1509.7,416.1 1511,416.7 1512.3,418.8 1513.6,419.1 1514.9,418.3 1516.2,416.1 1517.5,414.5 1518.8,415.8 1520.1,415.4 1521.4,416 1522.7,416.4 1524,417.7 1525.3,416.2 1526.6,416.9 1527.9,416.3 1529.2,416.6 1530.5,415.7 1531.8,415.2 1533.1,415.8 1534.4,416.1 1535.7,416.6 1537,417.9 1538.3,417 1539.6,416.8 1540.9,413.8 1542.2,414.6 1543.5,414 1544.8,416.3 1546.1,414.7 1547.4,415.6 1548.7,414.8 1550,414.5 1551.3,413.7 1552.6,411.4 1553.9,411.9 1555.2,411.9 1556.5,414.2 1557.8,414.7 1559.1,415.1 1560.4,415.6 1561.7,414.3 1563,414.8 1564.3,414.8 1565.6,416 1566.9,415.8 1568.2,415.9 1569.5,415.9 1570.8,417.7 1572.1,417.9 1573.4,419.1 1574.7,417.3 1576,416.3 1577.3,415.6 1578.6,416.9 1579.9,418.4 1581.2,417.4 1582.5,416.3 1583.8,414.9 1585.1,416.7 1586.4,416.9 1587.7,415.5 1589,414.2 1590.3,414.2 1591.6,414.9 1592.9,414.2 1594.2,413.5 1595.5,414.5 1596.8,414.1 1598.1,413.3 1599.4,412.7 1600.7,412.5 1602,411.8 1603.3,410.8 1604.6,411.4 1605.9,412.5 1607.2,412.2 1608.5,411.9 1609.8,412.8 1611.1,412.6 1612.4,411.5 1613.7,410.2 1615,411.3 1616.3,412.3 1617.6,412.5 1618.9,412.8 1620.2,413 1621.5,412 1622.8,410.7 1624.1,410.9 1625.4,411.8 1626.7,412.9 1628,413.2 1629.3,412.6 1630.6,412.3 1631.9,411.7 1633.2,412.1 1634.5,412.5 1635.8,413.1 1637.1,413.4 1638.4,412.6 1639.7,412.8 1641,414.1 1642.3,414 1643.6,412.6 1644.9,412.7 1646.2,413.3 1647.5,412.5 1648.8,411.3 1650.1,412.2 1651.4,413.4 1652.7,415 1654,414.6 1655.3,413.9 1656.6,412.8 1657.9,412 1659.2,412.9 1660.5,412 1661.8,412.1 1663.1,411.7 1664.4,411.2 1665.7,410.3 1667,409.4 1668.3,410.3 1669.6,411.4 1670.9,413 1672.2,413.8 1673.5,413.1 1674.8,412.5 1676.1,412.3 1677.4,412.4 1678.7,413.9 1680,413.9 1681.3,415.8 1682.6,415.6 1683.9,414.9 1685.2,414.2 1686.5,413.9 1687.8,413.4 1689.1,412.5 1690.4,412.8" fill="none" stroke="#6aa7cc" stroke-width="1.5" stroke-linejoin="round"/>
<path d="M1437,410.6 1438.2,410.5 1438.7,410.6 1439.2,410.6 1439.7,410.7 1440.2,410.9 1440.7,410.3 1441.2,408.3 1441.7,407.1 1442.2,406.5 1442.7,407.2 1443.2,407.9 1443.7,409.6 1444.2,416.9 1444.7,430.9 1445.2,451.4 1445.7,475.9 1446.2,503.1 1446.7,530.5 1447.2,557.3 1447.7,582.6 1448.2,605.7 1448.7,625.2 1449.2,641.3 1449.7,653.7 1450.2,663.1 1450.7,669.9 1451.2,673.8 1451.7,675.3 1452.2,674.3 1452.7,671.6 1453.2,667.2 1453.7,661.9 1454.2,655 1454.7,647.5 1455.2,639.3 1455.7,631.1 1456.2,623.3 1456.7,615 1457.2,606.4 1457.7,597.7 1458.2,589 1458.7,580.9 1459.2,572.5 1459.7,564.4 1460.2,556.7 1460.7,549.6 1461.2,542.1 1461.7,535.1 1462.2,528.4 1462.7,522.5 1463.2,516.6 1463.7,510.8 1464.2,505.2 1464.7,498.9 1465.2,492.4 1465.7,487.5 1466.2,482.7 1466.7,479 1467.2,475.3 1467.7,473.3 1468.2,469.9 1468.7,467.9 1469.2,464 1469.7,461.6 1470.2,460.6 1470.7,457.3 1471.2,455.2 1471.7,452 1472.2,450 1472.7,448.5 1473.2,445.2 1473.7,443.3 1474.2,441.2 1474.7,440 1475.2,439.1 1475.7,437.2 1476.2,435.2 1476.7,434.6 1477.2,434 1477.7,432.6 1478.2,432.7 1478.7,432.4 1479.2,432.2 1479.7,432.3 1480.2,432.1 1480.7,432.1 1481.2,429.2 1481.7,429 1482.2,428.4 1482.7,427.7 1483.2,426.6 1483.7,426.7 1484.2,427 1484.7,425.3 1485.2,424.4 1485.7,424.3 1486.2,424.1 1486.7,424.5 1487.2,425.6 1487.7,424.8 1488.2,424.7 1488.7,422.5 1489.2,422.5 1489.7,421.7 1490.2,421.7 1491.5,422.3 1492.8,420.7 1494.1,420.6 1495.4,418.8 1496.7,417.5 1498,415.4 1499.3,416.6 1500.6,415.2 1501.9,416.8 1503.2,415.8 1504.5,417 1505.8,417.4 1507.1,417.6 1508.4,417.3 1509.7,415.5 1511,416.2 1512.3,417.4 1513.6,419.2 1514.9,417.7 1516.2,416.9 1517.5,415.9 1518.8,417.3 1520.1,416.8 1521.4,416.4 1522.7,416.4 1524,417 1525.3,417.6 1526.6,415.8 1527.9,414.7 1529.2,413.3 1530.5,413.1 1531.8,414 1533.1,413.9 1534.4,414.7 1535.7,413.9 1537,414 1538.3,414.5 1539.6,415.7 1540.9,416.5 1542.2,416.1 1543.5,415.9 1544.8,416.1 1546.1,417.1 1547.4,418.1 1548.7,418.2 1550,416.7 1551.3,415.6 1552.6,416.1 1553.9,416.4 1555.2,415.5 1556.5,415.2 1557.8,415.1 1559.1,415.9 1560.4,415.3 1561.7,414.7 1563,415.6 1564.3,416.4 1565.6,416.2 1566.9,415.1 1568.2,414.2 1569.5,414.4 1570.8,413.1 1572.1,413.8 1573.4,413.2 1574.7,412.3 1576,412.1 1577.3,413 1578.6,414.1 1579.9,413.6 1581.2,414 1582.5,413.6 1583.8,414 1585.1,414.8 1586.4,415.7 1587.7,414.6 1589,413.3 1590.3,414.1 1591.6,414.5 1592.9,414.6 1594.2,413.6 1595.5,414 1596.8,414.3 1598.1,413.9 1599.4,414.5 1600.7,414.6 1602,414.9 1603.3,413.5 1604.6,413.9 1605.9,413.6 1607.2,413.9 1608.5,412.6 1609.8,411.8 1611.1,410.5 1612.4,410.7 1613.7,411.3 1615,412.6 1616.3,413.5 1617.6,413.4 1618.9,412.8 1620.2,412 1621.5,411.4 1622.8,411 1624.1,410.9 1625.4,412.8 1626.7,414 1628,413.2 1629.3,412.9 1630.6,412.9 1631.9,413.8 1633.2,414.1 1634.5,414.5 1635.8,413.7 1637.1,412.9 1638.4,412.9 1639.7,413.2 1641,412.9 1642.3,413.1 1643.6,414.4 1644.9,415.9 1646.2,415.6 1647.5,415.8 1648.8,414.5 1650.1,414 1651.4,413.4 1652.7,414.5 1654,413.7 1655.3,413.3 1656.6,413.6 1657.9,415.3 1659.2,415.1 1660.5,414.6 1661.8,413.6 1663.1,414.2 1664.4,413.6 1665.7,412.4 1667,411.8 1668.3,410.8 1669.6,410.6 1670.9,410.4 1672.2,411.1 1673.5,410.6 1674.8,409.5 1676.1,409.5 1677.4,410.1 1678.7,411.8 1680,412 1681.3,411 1682.6,411.7 1683.9,411.4 1685.2,412.3 1686.5,412.9 1687.8,413.5 1689.1,414.4 1690.4,413.1" fill="none" stroke="#6aa7cc" stroke-width="1.5" stroke-linejoin="round"/>
<path d="M1437,410.7 1438.2,410.7 1438.7,410.9 1439.2,410.9 1439.7,410.9 1440.2,410.9 1440.7,410.2 1441.2,409.4 1441.7,408.4 1442.2,408.4 1442.7,408.3 1443.2,408.9 1443.7,410.7 1444.2,417.6 1444.7,431.2 1445.2,450.7 1445.7,474.6 1446.2,501.4 1446.7,528.7 1447.2,555.4 1447.7,580.1 1448.2,602.2 1448.7,621.5 1449.2,637.5 1449.7,650 1450.2,659.3 1450.7,665.8 1451.2,669.8 1451.7,671 1452.2,669.9 1452.7,667.3 1453.2,663.1 1453.7,657.9 1454.2,651.3 1454.7,644.1 1455.2,636.6 1455.7,628.5 1456.2,620.5 1456.7,611.1 1457.2,602.7 1457.7,593.9 1458.2,586 1458.7,577.3 1459.2,568.9 1459.7,560.7 1460.2,552.7 1460.7,544.5 1461.2,536.9 1461.7,531.3 1462.2,526.5 1462.7,521.8 1463.2,516.2 1463.7,509.1 1464.2,502.7 1464.7,498.4 1465.2,493.8 1465.7,489.6 1466.2,484.5 1466.7,480.7 1467.2,475.8 1467.7,472.6 1468.2,469.2 1468.7,467.7 1469.2,464.8 1469.7,462.8 1470.2,460.4 1470.7,457.2 1471.2,455.3 1471.7,451.9 1472.2,450.4 1472.7,448.3 1473.2,447.1 1473.7,444.9 1474.2,442.5 1474.7,440.7 1475.2,439.5 1475.7,438 1476.2,435.8 1476.7,434.5 1477.2,434 1477.7,433.1 1478.2,431.5 1478.7,430.6 1479.2,429.6 1479.7,429.1 1480.2,429.6 1480.7,431 1481.2,430.9 1481.7,430.2 1482.2,430 1482.7,428.6 1483.2,427.9 1483.7,428.8 1484.2,428.5 1484.7,428.9 1485.2,429.2 1485.7,427.8 1486.2,426.4 1486.7,424.3 1487.2,423.9 1487.7,423.7 1488.2,421.2 1488.7,421.2 1489.2,420.6 1489.7,419.9 1490.2,420.6 1491.5,419.5 1492.8,419.2 1494.1,418.8 1495.4,419.3 1496.7,419.1 1498,418.3 1499.3,417.3 1500.6,417.7 1501.9,417.9 1503.2,418.4 1504.5,418.7 1505.8,417.5 1507.1,417.3 1508.4,416.2 1509.7,416.7 1511,417 1512.3,415.1 1513.6,414.8 1514.9,413.6 1516.2,415.1 1517.5,414.9 1518.8,414.7 1520.1,415.7 1521.4,416.9 1522.7,418.7 1524,417.8 1525.3,417.2 1526.6,416.4 1527.9,416.5 1529.2,415.2 1530.5,415.4 1531.8,416.4 1533.1,415.9 1534.4,414.6 1535.7,414.9 1537,415.6 1538.3,416.1 1539.6,416.2 1540.9,415.5 1542.2,415.7 1543.5,415.1 1544.8,416.8 1546.1,415.6 1547.4,413.2 1548.7,412 1550,412.7 1551.3,414.4 1552.6,413.7 1553.9,414 1555.2,412.9 1556.5,412.5 1557.8,411.5 1559.1,411.6 1560.4,412.6 1561.7,413 1563,412.7 1564.3,413.1 1565.6,412.4 1566.9,411.8 1568.2,410.9 1569.5,411.5 1570.8,411.5 1572.1,409.8 1573.4,410.6 1574.7,411.7 1576,414.4 1577.3,414.3 1578.6,415.2 1579.9,414.1 1581.2,414 1582.5,413.2 1583.8,414 1585.1,414.2 1586.4,414 1587.7,414.4 1589,414 1590.3,414.5 1591.6,414.3 1592.9,413.8 1594.2,413.3 1595.5,413.9 1596.8,413.4 1598.1,414.2 1599.4,414.5 1600.7,414 1602,413.3 1603.3,412.6 1604.6,413 1605.9,413.8 1607.2,414.6 1608.5,415.9 1609.8,416.8 1611.1,416.2 1612.4,417 1613.7,417.1 1615,417.1 1616.3,417 1617.6,414.6 1618.9,413.4 1620.2,414.6 1621.5,415.9 1622.8,415.7 1624.1,413.9 1625.4,412 1626.7,412.9 1628,413.6 1629.3,415 1630.6,415.2 1631.9,415.2 1633.2,415.4 1634.5,415.1 1635.8,413.2 1637.1,413.6 1638.4,413.9 1639.7,415.6 1641,413.9 1642.3,415.2 1643.6,414.1 1644.9,414.2 1646.2,414.4 1647.5,412.8 1648.8,413.4 1650.1,413 1651.4,414.5 1652.7,413.5 1654,412.5 1655.3,412.5 1656.6,412.3 1657.9,413.5 1659.2,413.1 1660.5,412.9 1661.8,413.5 1663.1,414.6 1664.4,414.5 1665.7,412.5 1667,412 1668.3,412.9 1669.6,413.1 1670.9,413.7 1672.2,413.9 1673.5,412.7 1674.8,412.8 1676.1,414.2 1677.4,414.2 1678.7,414.4 1680,414.4 1681.3,414.1 1682.6,413.1 1683.9,413.1 1685.2,412.3 1686.5,412.7 1687.8,413.5 1689.1,413.6 1690.4,413.5" fill="none" stroke="#6aa7cc" stroke-width="1.5" stroke-linejoin="round"/>
<path d="M1437,411.4 1438.2,411.5 1438.7,411.4 1439.2,411.3 1439.7,411.2 1440.2,410.8 1440.7,411.1 1441.2,410.4 1441.7,410.1 1442.2,409.9 1442.7,410 1443.2,410.5 1443.7,412.2 1444.2,418.9 1444.7,432.5 1445.2,452 1445.7,475.6 1446.2,501.4 1446.7,528.3 1447.2,554.5 1447.7,578.9 1448.2,600.5 1448.7,619.6 1449.2,635.2 1449.7,647.1 1450.2,656.4 1450.7,662.7 1451.2,666.6 1451.7,667.7 1452.2,666.9 1452.7,664.1 1453.2,660.1 1453.7,655.1 1454.2,648.7 1454.7,641.8 1455.2,634.2 1455.7,626.2 1456.2,617.5 1456.7,609 1457.2,600.7 1457.7,592.1 1458.2,583.7 1458.7,576 1459.2,568.6 1459.7,560.7 1460.2,552.4 1460.7,544.1 1461.2,536.7 1461.7,531 1462.2,525 1462.7,518.9 1463.2,512.9 1463.7,507.5 1464.2,502.9 1464.7,497.3 1465.2,492.8 1465.7,487.1 1466.2,484.2 1466.7,479.9 1467.2,476.7 1467.7,473.4 1468.2,470.5 1468.7,467.4 1469.2,464.5 1469.7,461.9 1470.2,459 1470.7,455.9 1471.2,453.4 1471.7,452.2 1472.2,450.5 1472.7,450 1473.2,447.3 1473.7,446.2 1474.2,442.8 1474.7,441.5 1475.2,437.8 1475.7,437.5 1476.2,436 1476.7,436 1477.2,433.9 1477.7,433.2 1478.2,431.7 1478.7,432.8 1479.2,431.3 1479.7,430.8 1480.2,430 1480.7,429.7 1481.2,430 1481.7,428.7 1482.2,426.3 1482.7,426.5 1483.2,424.5 1483.7,425.6 1484.2,423 1484.7,421.6 1485.2,421 1485.7,420.7 1486.2,422.7 1486.7,422.5 1487.2,423.6 1487.7,423.2 1488.2,423.8 1488.7,422.1 1489.2,421.7 1489.7,421 1490.2,421.8 1491.5,421.2 1492.8,421.2 1494.1,419.8 1495.4,420.1 1496.7,417.6 1498,417.6 1499.3,416.6 1500.6,417.2 1501.9,417.4 1503.2,417.6 1504.5,418.2 1505.8,418.1 1507.1,417.8 1508.4,416.7 1509.7,416.7 1511,417.1 1512.3,417.5 1513.6,416.8 1514.9,416.1 1516.2,416.2 1517.5,415.2 1518.8,414 1520.1,414.3 1521.4,416.4 1522.7,416.3 1524,416.1 1525.3,414.2 1526.6,413.9 1527.9,413.5 1529.2,416.1 1530.5,415.8 1531.8,415.4 1533.1,414 1534.4,415.4 1535.7,417.2 1537,418.7 1538.3,418.2 1539.6,417.5 1540.9,416.3 1542.2,418.4 1543.5,418.2 1544.8,419.1 1546.1,417.3 1547.4,417 1548.7,415.9 1550,415 1551.3,415.2 1552.6,414.8 1553.9,413.4 1555.2,412.6 1556.5,412.2 1557.8,413.6 1559.1,415.1 1560.4,416.2 1561.7,415.7 1563,413.4 1564.3,411.9 1565.6,411.1 1566.9,412.8 1568.2,413.1 1569.5,413.7 1570.8,412.2 1572.1,411.4 1573.4,412 1574.7,413 1576,413.3 1577.3,413.7 1578.6,414.1 1579.9,413.6 1581.2,412.1 1582.5,412.2 1583.8,413.5 1585.1,412.7 1586.4,411.8 1587.7,410.1 1589,410.5 1590.3,410.8 1591.6,410.1 1592.9,411.2 1594.2,411.4 1595.5,412.2 1596.8,412.6 1598.1,412.4 1599.4,413.5 1600.7,412.8 1602,414.1 1603.3,415.8 1604.6,417.7 1605.9,417.7 1607.2,417.2 1608.5,416.7 1609.8,415.5 1611.1,416.3 1612.4,416.7 1613.7,417.6 1615,415.3 1616.3,413.5 1617.6,412.5 1618.9,414 1620.2,414.4 1621.5,415.6 1622.8,415 1624.1,415.6 1625.4,414.9 1626.7,414.8 1628,416 1629.3,415.5 1630.6,416.8 1631.9,415 1633.2,413.9 1634.5,413.9 1635.8,413.2 1637.1,413.5 1638.4,412.9 1639.7,413.8 1641,413.1 1642.3,411.9 1643.6,411 1644.9,411.6 1646.2,411.6 1647.5,414.2 1648.8,413.9 1650.1,415.3 1651.4,413.6 1652.7,414 1654,411.8 1655.3,411.4 1656.6,411 1657.9,411.5 1659.2,414.2 1660.5,413.2 1661.8,413.1 1663.1,411.5 1664.4,412.6 1665.7,413.6 1667,413.3 1668.3,413.7 1669.6,414 1670.9,412.5 1672.2,413.5 1673.5,414.4 1674.8,415.6 1676.1,416.5 1677.4,416 1678.7,416.2 1680,414.3 1681.3,412.8 1682.6,413.9 1683.9,414.3 1685.2,415.6 1686.5,414.7 1687.8,413.3 1689.1,412.3 1690.4,412.3" fill="none" stroke="#6aa7cc" stroke-width="1.5" stroke-linejoin="round"/>
<path d="M1437,412 1438.2,411.8 1438.7,412 1439.2,411.6 1439.7,411.8 1440.2,411.6 1440.7,411.4 1441.2,410.2 1441.7,409.8 1442.2,409.7 1442.7,409.6 1443.2,409.4 1443.7,411 1444.2,417.6 1444.7,430.9 1445.2,450.3 1445.7,473.5 1446.2,499.5 1446.7,525.7 1447.2,551.1 1447.7,574.8 1448.2,596.1 1448.7,614.8 1449.2,630.4 1449.7,642.6 1450.2,651.7 1450.7,657.8 1451.2,661.7 1451.7,662.9 1452.2,661.8 1452.7,659.1 1453.2,655.1 1453.7,650.1 1454.2,643.5 1454.7,636 1455.2,628.6 1455.7,620.7 1456.2,613.7 1456.7,605.5 1457.2,597.2 1457.7,588.6 1458.2,579.7 1458.7,571.6 1459.2,563.9 1459.7,557 1460.2,550.2 1460.7,543.2 1461.2,535.2 1461.7,528.6 1462.2,521.9 1462.7,517.6 1463.2,512.2 1463.7,506.5 1464.2,500.6 1464.7,494.9 1465.2,489.9 1465.7,484.9 1466.2,481 1466.7,477.2 1467.2,475.6 1467.7,471.6 1468.2,469.4 1468.7,464.2 1469.2,462.7 1469.7,459.8 1470.2,457.9 1470.7,455.9 1471.2,456.4 1471.7,454.1 1472.2,452.1 1472.7,448.4 1473.2,446.6 1473.7,445.4 1474.2,444.3 1474.7,443.2 1475.2,440.4 1475.7,439.6 1476.2,437.5 1476.7,436.1 1477.2,435.6 1477.7,434.6 1478.2,433.5 1478.7,432.4 1479.2,432.5 1479.7,430.7 1480.2,429.4 1480.7,430 1481.2,430.6 1481.7,430.5 1482.2,429.8 1482.7,429.6 1483.2,428.3 1483.7,427.3 1484.2,427.2 1484.7,427.3 1485.2,426.5 1485.7,425.3 1486.2,425.5 1486.7,425.1 1487.2,424.5 1487.7,421.3 1488.2,420.1 1488.7,419.2 1489.2,418.4 1489.7,418 1490.2,418.3 1491.5,419.1 1492.8,418.3 1494.1,418.9 1495.4,417.4 1496.7,419.3 1498,417.9 1499.3,419 1500.6,417.1 1501.9,419.2 1503.2,419.5 1504.5,419.3 1505.8,419.3 1507.1,417.8 1508.4,419.2 1509.7,418.6 1511,419 1512.3,416.7 1513.6,415.9 1514.9,416.1 1516.2,416.4 1517.5,415.6 1518.8,415.3 1520.1,416 1521.4,415.5 1522.7,417.4 1524,417.5 1525.3,418 1526.6,417.2 1527.9,417.6 1529.2,418 1530.5,417.4 1531.8,417.3 1533.1,417.3 1534.4,418.8 1535.7,419.3 1537,419.6 1538.3,418.5 1539.6,418.3 1540.9,418.8 1542.2,417.8 1543.5,416.7 1544.8,414.7 1546.1,414.2 1547.4,414.2 1548.7,415.4 1550,413.9 1551.3,414.9 1552.6,413.5 1553.9,415.5 1555.2,415.2 1556.5,415.4 1557.8,415.5 1559.1,415.4 1560.4,415.3 1561.7,416.6 1563,417.1 1564.3,415 1565.6,415.5 1566.9,415 1568.2,415.2 1569.5,415.5 1570.8,417 1572.1,418.1 1573.4,417.1 1574.7,417.5 1576,416.6 1577.3,416.7 1578.6,418.4 1579.9,418.1 1581.2,415.9 1582.5,414.8 1583.8,414.9 1585.1,415.5 1586.4,414.6 1587.7,415.6 1589,415.7 1590.3,414.6 1591.6,415.6 1592.9,415.6 1594.2,414.4 1595.5,414.5 1596.8,414.8 1598.1,414.5 1599.4,414.1 1600.7,414.5 1602,415.3 1603.3,414.8 1604.6,414.8 1605.9,415.2 1607.2,415.5 1608.5,415.4 1609.8,417.4 1611.1,416.6 1612.4,417.3 1613.7,414.3 1615,415.5 1616.3,415.2 1617.6,415.5 1618.9,415.2 1620.2,414.4 1621.5,414.2 1622.8,413.4 1624.1,413.6 1625.4,414.2 1626.7,414.9 1628,414 1629.3,412 1630.6,413.3 1631.9,415 1633.2,416.5 1634.5,415.7 1635.8,413.4 1637.1,413.4 1638.4,411.9 1639.7,412.4 1641,412.4 1642.3,411.4 1643.6,411.4 1644.9,412.2 1646.2,412.6 1647.5,412.1 1648.8,413.1 1650.1,413.9 1651.4,413.6 1652.7,412.9 1654,415.9 1655.3,416.3 1656.6,414.5 1657.9,413.2 1659.2,414.3 1660.5,415.8 1661.8,415.3 1663.1,413.2 1664.4,412.8 1665.7,412.7 1667,413.9 1668.3,413.6 1669.6,412.4 1670.9,412.6 1672.2,413.9 1673.5,415.6 1674.8,413.9 1676.1,413.8 1677.4,414.3 1678.7,415.3 1680,415.4 1681.3,415.4 1682.6,415.1 1683.9,416.1 1685.2,416.2 1686.5,416.5 1687.8,415.3 1689.1,413.9 1690.4,414.2" fill="none" stroke="#6aa7cc" stroke-width="1.5" stroke-linejoin="round"/>
<path d="M1437,411.4 1438.2,411.5 1438.7,411.5 1439.2,411.6 1439.7,411.4 1440.2,411.3 1440.7,410.1 1441.2,408.2 1441.7,407 1442.2,406.3 1442.7,406.6 1443.2,407 1443.7,409 1444.2,415.2 1444.7,427.5 1445.2,445.4 1445.7,467.3 1446.2,491.7 1446.7,516.8 1447.2,541.2 1447.7,564 1448.2,584 1448.7,601.3 1449.2,616.2 1449.7,627.7 1450.2,636.4 1450.7,642.1 1451.2,645.7 1451.7,646.9 1452.2,646 1452.7,643.6 1453.2,639.6 1453.7,634.4 1454.2,628.8 1454.7,622.1 1455.2,614.5 1455.7,606.7 1456.2,599.1 1456.7,591.6 1457.2,583.8 1457.7,576.9 1458.2,569.7 1458.7,562.2 1459.2,553.7 1459.7,546.7 1460.2,539.6 1460.7,532.4 1461.2,526.5 1461.7,519.3 1462.2,513.6 1462.7,507.6 1463.2,503.5 1463.7,498 1464.2,493.7 1464.7,489.2 1465.2,485.1 1465.7,482.4 1466.2,480 1466.7,478.1 1467.2,474.5 1467.7,471.2 1468.2,466.8 1468.7,462.9 1469.2,458.4 1469.7,456 1470.2,452.7 1470.7,451.8 1471.2,450.3 1471.7,447.7 1472.2,445.3 1472.7,443.4 1473.2,442.2 1473.7,440.2 1474.2,439.9 1474.7,437.6 1475.2,436 1475.7,433.8 1476.2,433.2 1476.7,431.7 1477.2,432.1 1477.7,432.7 1478.2,432.5 1478.7,429.9 1479.2,429.6 1479.7,428.4 1480.2,428.6 1480.7,426.9 1481.2,426.4 1481.7,427.6 1482.2,427 1482.7,427 1483.2,425.1 1483.7,422.7 1484.2,421.5 1484.7,422.5 1485.2,422.7 1485.7,423.6 1486.2,422.2 1486.7,421.2 1487.2,421.6 1487.7,420.4 1488.2,421 1488.7,419.5 1489.2,421.2 1489.7,421.9 1490.2,421.9 1491.5,420.8 1492.8,420 1494.1,418.7 1495.4,417.9 1496.7,417.9 1498,418.6 1499.3,418 1500.6,417.8 1501.9,417.5 1503.2,418.2 1504.5,418 1505.8,418 1507.1,418.2 1508.4,417.4 1509.7,418.2 1511,418.7 1512.3,418.4 1513.6,417.7 1514.9,416.1 1516.2,416.7 1517.5,416.7 1518.8,415.4 1520.1,417.2 1521.4,416.1 1522.7,415.3 1524,412.6 1525.3,412.4 1526.6,411.9 1527.9,413.9 1529.2,414.4 1530.5,416.3 1531.8,416.7 1533.1,415.9 1534.4,416.9 1535.7,415.7 1537,414.7 1538.3,414.1 1539.6,414.2 1540.9,414.6 1542.2,413.1 1543.5,412.6 1544.8,412.7 1546.1,412.8 1547.4,411.8 1548.7,413.6 1550,413.4 1551.3,413.1 1552.6,413.7 1553.9,413.6 1555.2,414.1 1556.5,414.5 1557.8,414.4 1559.1,413.9 1560.4,411.1 1561.7,410.5 1563,411.4 1564.3,413.2 1565.6,413.5 1566.9,413.1 1568.2,413.6 1569.5,413.6 1570.8,414.1 1572.1,413.9 1573.4,413.8 1574.7,414.8 1576,414.6 1577.3,413.8 1578.6,414 1579.9,413.7 1581.2,413.3 1582.5,414.2 1583.8,413.6 1585.1,414.1 1586.4,413.8 1587.7,414.2 1589,414.7 1590.3,413.8 1591.6,413.7 1592.9,412.6 1594.2,412.3 1595.5,410.8 1596.8,412.4 1598.1,412.8 1599.4,413.3 1600.7,415 1602,414.5 1603.3,413.2 1604.6,412.7 1605.9,413.5 1607.2,414.7 1608.5,416.4 1609.8,417.6 1611.1,417.2 1612.4,415.3 1613.7,414.3 1615,415.3 1616.3,415.9 1617.6,415 1618.9,415.1 1620.2,414.1 1621.5,414.6 1622.8,413.5 1624.1,412.8 1625.4,413 1626.7,414.3 1628,414.9 1629.3,413.8 1630.6,412.8 1631.9,413.5 1633.2,412.4 1634.5,412.9 1635.8,412.8 1637.1,413.4 1638.4,414.1 1639.7,414.2 1641,413.5 1642.3,412.9 1643.6,412.5 1644.9,412.7 1646.2,413.6 1647.5,412.1 1648.8,412.6 1650.1,410.5 1651.4,412.3 1652.7,412.1 1654,414 1655.3,412.6 1656.6,413.1 1657.9,412 1659.2,412.6 1660.5,413 1661.8,413.8 1663.1,414.8 1664.4,415.6 1665.7,417.1 1667,415.7 1668.3,415.1 1669.6,413.5 1670.9,414.4 1672.2,413.9 1673.5,413.9 1674.8,413.8 1676.1,413.5 1677.4,413.1 1678.7,412.8 1680,413.1 1681.3,413.6 1682.6,415.2 1683.9,414.1 1685.2,413.6 1686.5,412.8 1687.8,412.4 1689.1,414.1 1690.4,415.2" fill="none" stroke="#6aa7cc" stroke-width="1.5" stroke-linejoin="round"/>
<path d="M1437,410.9 1438.2,410.6 1438.7,410.2 1439.2,410.2 1439.7,410.4 1440.2,410.6 1440.7,408.8 1441.2,406.7 1441.7,405.2 1442.2,404.7 1442.7,404.6 1443.2,405.2 1443.7,406.8 1444.2,412.8 1444.7,423.8 1445.2,439.4 1445.7,457.8 1446.2,478.5 1446.7,499.9 1447.2,520.5 1447.7,539.9 1448.2,556.7 1448.7,571.5 1449.2,583.9 1449.7,593.8 1450.2,601.5 1450.7,606.6 1451.2,609.7 1451.7,610.3 1452.2,610.1 1452.7,608.6 1453.2,605.9 1453.7,601.8 1454.2,596.7 1454.7,591.3 1455.2,585.2 1455.7,578.7 1456.2,572.4 1456.7,566.2 1457.2,559.9 1457.7,553.3 1458.2,546.1 1458.7,539.6 1459.2,532.9 1459.7,526.1 1460.2,519.9 1460.7,513.6 1461.2,507.9 1461.7,503 1462.2,498.8 1462.7,494 1463.2,489.3 1463.7,484.4 1464.2,480.7 1464.7,477.7 1465.2,475 1465.7,471.7 1466.2,468.6 1466.7,465.5 1467.2,463.4 1467.7,460.4 1468.2,458.3 1468.7,453.6 1469.2,449.8 1469.7,446.8 1470.2,445.6 1470.7,444.5 1471.2,442.8 1471.7,442 1472.2,439.7 1472.7,437.3 1473.2,436 1473.7,435.1 1474.2,434.8 1474.7,434.7 1475.2,434 1475.7,433.8 1476.2,432.5 1476.7,432.8 1477.2,430.7 1477.7,429.7 1478.2,428.3 1478.7,429 1479.2,429.7 1479.7,429.4 1480.2,428.7 1480.7,426.3 1481.2,425.9 1481.7,424.8 1482.2,425.7 1482.7,424.6 1483.2,425.9 1483.7,424.2 1484.2,423.9 1484.7,422.4 1485.2,422.3 1485.7,423.1 1486.2,421.8 1486.7,421.3 1487.2,420.2 1487.7,420.8 1488.2,419.1 1488.7,419.4 1489.2,418.4 1489.7,419.1 1490.2,419.5 1491.5,420.1 1492.8,419.3 1494.1,417.9 1495.4,417.3 1496.7,417.2 1498,414.8 1499.3,413.4 1500.6,413.5 1501.9,415.1 1503.2,415.3 1504.5,416.3 1505.8,414.4 1507.1,413.3 1508.4,412.8 1509.7,413 1511,413.4 1512.3,413.4 1513.6,412.9 1514.9,413.2 1516.2,412.2 1517.5,413 1518.8,414.4 1520.1,413.2 1521.4,413.8 1522.7,413.2 1524,413.1 1525.3,414.1 1526.6,413 1527.9,412.9 1529.2,412.1 1530.5,411.2 1531.8,412.1 1533.1,412.1 1534.4,412.4 1535.7,414 1537,414 1538.3,412.2 1539.6,412.3 1540.9,410.1 1542.2,411.7 1543.5,411.4 1544.8,412.5 1546.1,412.2 1547.4,411.9 1548.7,412.6 1550,413.9 1551.3,412.8 1552.6,412.7 1553.9,412.7 1555.2,412 1556.5,412.9 1557.8,412.5 1559.1,413.9 1560.4,413.3 1561.7,413 1563,413.1 1564.3,411 1565.6,410.8 1566.9,410.5 1568.2,411.1 1569.5,411.3 1570.8,410.5 1572.1,411.3 1573.4,411.9 1574.7,411.8 1576,411.3 1577.3,411.8 1578.6,412.4 1579.9,411.9 1581.2,411.8 1582.5,411.8 1583.8,411.4 1585.1,410.4 1586.4,410 1587.7,410.7 1589,410.9 1590.3,411.3 1591.6,412.8 1592.9,413.4 1594.2,412.8 1595.5,411.8 1596.8,412 1598.1,412.4 1599.4,413.2 1600.7,411.8 1602,411.1 1603.3,410 1604.6,411.9 1605.9,412.5 1607.2,413.7 1608.5,412.8 1609.8,413.7 1611.1,413.5 1612.4,414.7 1613.7,414.1 1615,413.9 1616.3,412.8 1617.6,413.6 1618.9,413.8 1620.2,414.8 1621.5,415.3 1622.8,415.7 1624.1,414.3 1625.4,412.4 1626.7,412 1628,411.7 1629.3,412.5 1630.6,411.9 1631.9,412 1633.2,411 1634.5,413.2 1635.8,413.4 1637.1,413.1 1638.4,410.6 1639.7,410.6 1641,410.3 1642.3,409.8 1643.6,410.1 1644.9,410.6 1646.2,412.1 1647.5,412.2 1648.8,412.9 1650.1,412.2 1651.4,412.6 1652.7,413.8 1654,414.5 1655.3,414.6 1656.6,414.9 1657.9,415.2 1659.2,415.1 1660.5,413.9 1661.8,413 1663.1,413 1664.4,412.8 1665.7,413.4 1667,412.7 1668.3,413.7 1669.6,413.5 1670.9,412.8 1672.2,412.1 1673.5,412.3 1674.8,412.4 1676.1,411.4 1677.4,411.8 1678.7,411.2 1680,413.9 1681.3,412.8 1682.6,414 1683.9,412.6 1685.2,413.2 1686.5,414.2 1687.8,414.8 1689.1,415.1 1690.4,414.1" fill="none" stroke="#6aa7cc" stroke-width="1.5" stroke-linejoin="round"/>
<path d="M1437,411.7 1438.2,411.6 1438.7,411.5 1439.2,411.3 1439.7,411.2 1440.2,411.3 1440.7,411 1441.2,410.3 1441.7,409.4 1442.2,409.1 1442.7,409.2 1443.2,409.7 1443.7,411 1444.2,415.6 1444.7,425.1 1445.2,438.1 1445.7,454.7 1446.2,472.8 1446.7,491 1447.2,508.8 1447.7,525.4 1448.2,540.6 1448.7,553.8 1449.2,564.2 1449.7,572.5 1450.2,578.8 1450.7,583.2 1451.2,585.6 1451.7,586.2 1452.2,585.7 1452.7,584.2 1453.2,581.6 1453.7,577.9 1454.2,573.7 1454.7,568.6 1455.2,563.4 1455.7,558 1456.2,552.2 1456.7,545.9 1457.2,540.4 1457.7,534.4 1458.2,528.9 1458.7,523.4 1459.2,518.2 1459.7,513 1460.2,507.4 1460.7,502.7 1461.2,497.7 1461.7,493 1462.2,487.7 1462.7,485 1463.2,482.3 1463.7,479.3 1464.2,474.9 1464.7,471.2 1465.2,467.5 1465.7,464.2 1466.2,462.6 1466.7,460.3 1467.2,457.5 1467.7,453 1468.2,451.6 1468.7,448 1469.2,446.8 1469.7,444 1470.2,443.7 1470.7,442.3 1471.2,439.7 1471.7,438 1472.2,434.8 1472.7,435.1 1473.2,434.3 1473.7,433.6 1474.2,433.5 1474.7,435.3 1475.2,435 1475.7,434.6 1476.2,432.3 1476.7,430.2 1477.2,428.6 1477.7,428.4 1478.2,428.4 1478.7,427.8 1479.2,427.3 1479.7,426.6 1480.2,425 1480.7,424.9 1481.2,425.5 1481.7,425.1 1482.2,423.4 1482.7,422.3 1483.2,423 1483.7,422.9 1484.2,422.3 1484.7,421.7 1485.2,421.5 1485.7,422.3 1486.2,422.2 1486.7,421.3 1487.2,419 1487.7,418.9 1488.2,419.1 1488.7,419.1 1489.2,418.4 1489.7,417.3 1490.2,415.6 1491.5,415.2 1492.8,415.2 1494.1,415.2 1495.4,416.7 1496.7,416.7 1498,416.7 1499.3,415.6 1500.6,415.2 1501.9,415.9 1503.2,417.1 1504.5,418.1 1505.8,418.4 1507.1,417.3 1508.4,417.1 1509.7,417.6 1511,417.8 1512.3,418.1 1513.6,417.4 1514.9,417.7 1516.2,416.1 1517.5,417.4 1518.8,416.2 1520.1,418 1521.4,417.8 1522.7,418.2 1524,417.3 1525.3,416.1 1526.6,414.8 1527.9,414.6 1529.2,415.8 1530.5,416.2 1531.8,415.6 1533.1,414.7 1534.4,414.8 1535.7,415.6 1537,416.4 1538.3,416.2 1539.6,415.6 1540.9,415.8 1542.2,416.4 1543.5,415.4 1544.8,414.2 1546.1,413.4 1547.4,414.2 1548.7,414.2 1550,414 1551.3,413.2 1552.6,414.1 1553.9,415.4 1555.2,416.2 1556.5,416.7 1557.8,415.6 1559.1,414.6 1560.4,415 1561.7,415.4 1563,416.8 1564.3,414.9 1565.6,415.8 1566.9,413.9 1568.2,413.6 1569.5,414 1570.8,415.5 1572.1,414.7 1573.4,413.7 1574.7,413.5 1576,413.1 1577.3,412.8 1578.6,413.2 1579.9,415.7 1581.2,415 1582.5,415.2 1583.8,413.3 1585.1,413.7 1586.4,415 1587.7,416 1589,416.4 1590.3,415 1591.6,414.7 1592.9,413.1 1594.2,414.1 1595.5,413.5 1596.8,414.4 1598.1,412.9 1599.4,414.1 1600.7,413.6 1602,414.9 1603.3,412.3 1604.6,412.6 1605.9,410.3 1607.2,412.1 1608.5,411.6 1609.8,413.9 1611.1,414 1612.4,413.3 1613.7,411.4 1615,411.6 1616.3,412.4 1617.6,414.1 1618.9,414.2 1620.2,413.4 1621.5,412.7 1622.8,414.1 1624.1,412.8 1625.4,411.7 1626.7,410.3 1628,410.2 1629.3,410.4 1630.6,410.6 1631.9,412.3 1633.2,411.6 1634.5,411.6 1635.8,412.2 1637.1,412.8 1638.4,412.4 1639.7,412.9 1641,413.2 1642.3,413.3 1643.6,414.1 1644.9,413.7 1646.2,414.2 1647.5,414.1 1648.8,413.5 1650.1,413.9 1651.4,413.7 1652.7,413.8 1654,413.7 1655.3,412.3 1656.6,412.9 1657.9,413.1 1659.2,413.7 1660.5,414.5 1661.8,414.5 1663.1,413.6 1664.4,413.4 1665.7,413 1667,412.4 1668.3,412.5 1669.6,413.6 1670.9,414.4 1672.2,414.9 1673.5,415.6 1674.8,416 1676.1,416.4 1677.4,416.3 1678.7,416.8 1680,416.7 1681.3,416.3 1682.6,417.5 1683.9,415.9 1685.2,415.6 1686.5,415 1687.8,414.9 1689.1,414.8 1690.4,415.1" fill="none" stroke="#6aa7cc" stroke-width="1.5" stroke-linejoin="round"/>
<path d="M1437,411.8 1438.2,411.6 1438.7,411.7 1439.2,411.9 1439.7,411.9 1440.2,411.4 1440.7,410.4 1441.2,408.8 1441.7,408 1442.2,407.6 1442.7,407.8 1443.2,408.2 1443.7,409.3 1444.2,413.3 1444.7,420.5 1445.2,431.2 1445.7,444 1446.2,457.9 1446.7,472.2 1447.2,486 1447.7,499.2 1448.2,511.1 1448.7,521.4 1449.2,529.9 1449.7,536.6 1450.2,541.7 1450.7,545.3 1451.2,547.3 1451.7,548.4 1452.2,548.5 1452.7,547.2 1453.2,545.1 1453.7,542.4 1454.2,538.9 1454.7,535.4 1455.2,531.7 1455.7,528 1456.2,523.4 1456.7,519 1457.2,514.1 1457.7,508.8 1458.2,504.3 1458.7,500.7 1459.2,496.5 1459.7,491.5 1460.2,487.6 1460.7,483.6 1461.2,480.6 1461.7,476.5 1462.2,473.2 1462.7,470.2 1463.2,465.7 1463.7,462.8 1464.2,460.2 1464.7,458.7 1465.2,455.8 1465.7,452.5 1466.2,449.9 1466.7,448.1 1467.2,446.4 1467.7,444.1 1468.2,444 1468.7,441.9 1469.2,440.2 1469.7,437.8 1470.2,436.8 1470.7,437.4 1471.2,436.7 1471.7,434.9 1472.2,433.2 1472.7,434.4 1473.2,434.1 1473.7,434.2 1474.2,430.1 1474.7,428.8 1475.2,425.8 1475.7,427.2 1476.2,427.7 1476.7,427.3 1477.2,425.4 1477.7,422.6 1478.2,422.9 1478.7,421 1479.2,422.4 1479.7,420.9 1480.2,421.2 1480.7,420.7 1481.2,421.2 1481.7,422.5 1482.2,421.3 1482.7,421.2 1483.2,420.4 1483.7,421.1 1484.2,420.7 1484.7,420.9 1485.2,421.6 1485.7,421 1486.2,420.2 1486.7,419.3 1487.2,420 1487.7,417.9 1488.2,419.1 1488.7,419.3 1489.2,420.1 1489.7,419.1 1490.2,418.9 1491.5,418.1 1492.8,417.7 1494.1,417.4 1495.4,417.3 1496.7,416.7 1498,415.9 1499.3,415.3 1500.6,414.7 1501.9,413.2 1503.2,413.5 1504.5,413.8 1505.8,414.3 1507.1,415.4 1508.4,415 1509.7,413.8 1511,413.7 1512.3,413.7 1513.6,414 1514.9,413.1 1516.2,412.5 1517.5,414.4 1518.8,414.5 1520.1,414 1521.4,413.1 1522.7,412 1524,411.3 1525.3,411 1526.6,411.9 1527.9,412.7 1529.2,412.6 1530.5,410.4 1531.8,411 1533.1,410.8 1534.4,413.8 1535.7,412.3 1537,413.8 1538.3,414.1 1539.6,415.1 1540.9,414.4 1542.2,413.7 1543.5,413.9 1544.8,413.4 1546.1,413.9 1547.4,413.5 1548.7,413 1550,412.3 1551.3,413.1 1552.6,414.3 1553.9,414.3 1555.2,413.9 1556.5,415.6 1557.8,415.7 1559.1,416.4 1560.4,416.7 1561.7,417.2 1563,417.2 1564.3,415.3 1565.6,415.5 1566.9,416.1 1568.2,414.2 1569.5,412.9 1570.8,410.4 1572.1,410.9 1573.4,411.4 1574.7,411.6 1576,411.4 1577.3,409.5 1578.6,410.7 1579.9,411.7 1581.2,411.9 1582.5,410.8 1583.8,411.9 1585.1,412 1586.4,411.3 1587.7,412.4 1589,414.4 1590.3,415.7 1591.6,414.8 1592.9,414.9 1594.2,414.1 1595.5,414.3 1596.8,413.2 1598.1,414.6 1599.4,413.2 1600.7,412.4 1602,412.2 1603.3,413 1604.6,413.1 1605.9,410.8 1607.2,410.4 1608.5,411.1 1609.8,413.3 1611.1,414.4 1612.4,414.4 1613.7,414 1615,414.7 1616.3,416 1617.6,416.5 1618.9,415.4 1620.2,414.9 1621.5,415.6 1622.8,413.8 1624.1,414 1625.4,414.2 1626.7,415 1628,414.2 1629.3,413.7 1630.6,412.5 1631.9,411.7 1633.2,411.7 1634.5,412.5 1635.8,411.6 1637.1,410.4 1638.4,410.3 1639.7,411.1 1641,413 1642.3,412.7 1643.6,413 1644.9,411.8 1646.2,411.8 1647.5,410.9 1648.8,410.4 1650.1,411.2 1651.4,411.7 1652.7,412.5 1654,413.5 1655.3,412.2 1656.6,412.5 1657.9,412.6 1659.2,414.6 1660.5,416.1 1661.8,415.5 1663.1,415 1664.4,414.3 1665.7,413.5 1667,413.9 1668.3,413.3 1669.6,413.3 1670.9,414 1672.2,415.4 1673.5,415.2 1674.8,414.7 1676.1,413.9 1677.4,414.3 1678.7,414.4 1680,415.2 1681.3,415.6 1682.6,414.8 1683.9,413 1685.2,413.3 1686.5,413.5 1687.8,412.2 1689.1,412.5 1690.4,411.2" fill="none" stroke="#6aa7cc" stroke-width="1.5" stroke-linejoin="round"/>
<path d="M1437,411.4 1438.2,411.5 1438.7,411.3 1439.2,411.3 1439.7,411.2 1440.2,411.4 1440.7,409.8 1441.2,407.5 1441.7,405.9 1442.2,405.4 1442.7,404.9 1443.2,405.4 1443.7,406.7 1444.2,409.8 1444.7,414.9 1445.2,422.2 1445.7,431.2 1446.2,440.6 1446.7,450.9 1447.2,461.2 1447.7,470.5 1448.2,478.2 1448.7,485.1 1449.2,491.4 1449.7,496.5 1450.2,500 1450.7,502.7 1451.2,504.4 1451.7,505.4 1452.2,505.6 1452.7,504.9 1453.2,503.9 1453.7,502.2 1454.2,500.2 1454.7,498.3 1455.2,495.7 1455.7,493 1456.2,489.8 1456.7,486.5 1457.2,483.3 1457.7,479.7 1458.2,476.7 1458.7,473.5 1459.2,470.9 1459.7,468.2 1460.2,465.6 1460.7,462.7 1461.2,460 1461.7,457.2 1462.2,454.8 1462.7,453 1463.2,451 1463.7,448.8 1464.2,446.9 1464.7,445.2 1465.2,443.2 1465.7,440.7 1466.2,439.1 1466.7,437.5 1467.2,435.9 1467.7,433.1 1468.2,432 1468.7,432.2 1469.2,431.7 1469.7,430.7 1470.2,429.1 1470.7,427.6 1471.2,427.8 1471.7,429 1472.2,430.3 1472.7,429 1473.2,426.5 1473.7,423.8 1474.2,423.2 1474.7,423.2 1475.2,424.1 1475.7,423.2 1476.2,421.7 1476.7,419.6 1477.2,418.6 1477.7,419.3 1478.2,420.2 1478.7,419.8 1479.2,418.9 1479.7,418.7 1480.2,417.1 1480.7,416.5 1481.2,414.9 1481.7,415.1 1482.2,414.6 1482.7,415.8 1483.2,415.6 1483.7,416 1484.2,416.1 1484.7,416.3 1485.2,416.7 1485.7,416.1 1486.2,418.5 1486.7,417.5 1487.2,418 1487.7,415.8 1488.2,415.9 1488.7,415.4 1489.2,415.9 1489.7,415.5 1490.2,414 1491.5,415.3 1492.8,414.7 1494.1,417.1 1495.4,416.2 1496.7,415.7 1498,415.2 1499.3,416.9 1500.6,416.3 1501.9,415 1503.2,413.8 1504.5,414.4 1505.8,415.1 1507.1,412.9 1508.4,413.6 1509.7,413.3 1511,413.7 1512.3,413.1 1513.6,412.1 1514.9,410.6 1516.2,409.7 1517.5,410.9 1518.8,412 1520.1,412.7 1521.4,412.2 1522.7,412.3 1524,412.1 1525.3,412 1526.6,411.9 1527.9,412.5 1529.2,412.4 1530.5,412.4 1531.8,411.7 1533.1,411.6 1534.4,411.7 1535.7,412.9 1537,413.1 1538.3,413.3 1539.6,412.2 1540.9,412.5 1542.2,412.2 1543.5,414 1544.8,412.9 1546.1,412.9 1547.4,413.3 1548.7,414.2 1550,414.6 1551.3,413.6 1552.6,415.4 1553.9,415.2 1555.2,416.3 1556.5,415.1 1557.8,415.1 1559.1,414.5 1560.4,414.9 1561.7,414.9 1563,413.9 1564.3,413.1 1565.6,411.6 1566.9,411 1568.2,410 1569.5,410.2 1570.8,409.7 1572.1,410.4 1573.4,409.8 1574.7,409.1 1576,408.8 1577.3,409.2 1578.6,410.8 1579.9,410.2 1581.2,409.4 1582.5,407.8 1583.8,407.9 1585.1,408 1586.4,409.4 1587.7,408.9 1589,410 1590.3,409.5 1591.6,410.5 1592.9,410.3 1594.2,410.1 1595.5,411.4 1596.8,410.2 1598.1,409.5 1599.4,410.1 1600.7,411.6 1602,412.1 1603.3,410.9 1604.6,411.6 1605.9,411.1 1607.2,412.4 1608.5,413.3 1609.8,413.4 1611.1,413.5 1612.4,414 1613.7,414.5 1615,413.7 1616.3,412.1 1617.6,410.9 1618.9,412.6 1620.2,413.2 1621.5,414.6 1622.8,413.4 1624.1,411.8 1625.4,413.4 1626.7,412.9 1628,414.1 1629.3,414.1 1630.6,413.3 1631.9,413.8 1633.2,412.7 1634.5,412.3 1635.8,412.3 1637.1,412.8 1638.4,413.2 1639.7,413.6 1641,410.8 1642.3,410.6 1643.6,408.9 1644.9,409.6 1646.2,410.5 1647.5,411.9 1648.8,412.8 1650.1,413.4 1651.4,412.5 1652.7,412.9 1654,412 1655.3,411.6 1656.6,411.8 1657.9,411.9 1659.2,412.3 1660.5,413.3 1661.8,412.5 1663.1,411.2 1664.4,409.4 1665.7,409.6 1667,410.7 1668.3,411.2 1669.6,411.8 1670.9,411.4 1672.2,410.4 1673.5,409.5 1674.8,409.5 1676.1,410.2 1677.4,411.8 1678.7,411.9 1680,412.6 1681.3,411.1 1682.6,412 1683.9,411 1685.2,411.9 1686.5,411.3 1687.8,412.3 1689.1,412.6 1690.4,412.2" fill="none" stroke="#6aa7cc" stroke-width="1.5" stroke-linejoin="round"/>
<path d="M1437,411.5 1438.2,411.6 1438.7,411.4 1439.2,411 1439.7,410.9 1440.2,410.8 1440.7,410.1 1441.2,408.7 1441.7,407.7 1442.2,407.5 1442.7,407.3 1443.2,407.5 1443.7,407.9 1444.2,409.8 1444.7,412.2 1445.2,415.8 1445.7,420.2 1446.2,425.3 1446.7,430.1 1447.2,434.5 1447.7,439.1 1448.2,443.4 1448.7,447.2 1449.2,450.4 1449.7,453.2 1450.2,455.1 1450.7,456.8 1451.2,457.9 1451.7,458.1 1452.2,458.3 1452.7,458.3 1453.2,458.1 1453.7,457.2 1454.2,456.3 1454.7,455.3 1455.2,454 1455.7,452.9 1456.2,451.3 1456.7,450.1 1457.2,448.6 1457.7,447.4 1458.2,446 1458.7,444.7 1459.2,443.3 1459.7,441.4 1460.2,439.4 1460.7,438.6 1461.2,437 1461.7,436.2 1462.2,435.3 1462.7,433.7 1463.2,433.2 1463.7,432.6 1464.2,431.8 1464.7,431.4 1465.2,429.9 1465.7,428.7 1466.2,426.6 1466.7,425.6 1467.2,424.3 1467.7,423.8 1468.2,421.1 1468.7,421.1 1469.2,420.2 1469.7,422.3 1470.2,423.6 1470.7,423.4 1471.2,423.6 1471.7,422.7 1472.2,422 1472.7,420.3 1473.2,420.2 1473.7,418.6 1474.2,418.5 1474.7,418.5 1475.2,420.2 1475.7,420.9 1476.2,419.9 1476.7,419.8 1477.2,417.4 1477.7,417.4 1478.2,417.5 1478.7,417.9 1479.2,418.6 1479.7,418.7 1480.2,417.9 1480.7,416 1481.2,413.9 1481.7,414.6 1482.2,416 1482.7,414.7 1483.2,414.6 1483.7,413.4 1484.2,413.9 1484.7,413.5 1485.2,413.3 1485.7,413.2 1486.2,414.2 1486.7,415.2 1487.2,416 1487.7,414.7 1488.2,414.9 1488.7,415.6 1489.2,415 1489.7,415 1490.2,414 1491.5,413.4 1492.8,413.3 1494.1,412.6 1495.4,412.6 1496.7,412.9 1498,413.8 1499.3,414.7 1500.6,413.8 1501.9,413 1503.2,413.6 1504.5,412.3 1505.8,412.8 1507.1,412.7 1508.4,411.7 1509.7,411.6 1511,410.7 1512.3,411 1513.6,411.1 1514.9,410.3 1516.2,410.9 1517.5,411.7 1518.8,411.6 1520.1,412.4 1521.4,413.4 1522.7,414.1 1524,414 1525.3,413.4 1526.6,413 1527.9,413.6 1529.2,412.7 1530.5,412.6 1531.8,412.7 1533.1,413.5 1534.4,413 1535.7,412.7 1537,412.7 1538.3,413.3 1539.6,414.5 1540.9,412.8 1542.2,413 1543.5,413.7 1544.8,413.1 1546.1,413.1 1547.4,412.4 1548.7,413.9 1550,415.5 1551.3,415 1552.6,415 1553.9,414.8 1555.2,414.7 1556.5,414.9 1557.8,414.6 1559.1,413.2 1560.4,414.4 1561.7,414.1 1563,415.2 1564.3,414.5 1565.6,414.8 1566.9,414.4 1568.2,413.6 1569.5,413.8 1570.8,413.9 1572.1,414.3 1573.4,414.3 1574.7,414.5 1576,414 1577.3,413 1578.6,412.3 1579.9,411.8 1581.2,410.3 1582.5,409.9 1583.8,412 1585.1,413.8 1586.4,414.1 1587.7,413.8 1589,412.9 1590.3,413 1591.6,409.8 1592.9,409.9 1594.2,407.8 1595.5,409.5 1596.8,409.6 1598.1,410.8 1599.4,409.8 1600.7,411.1 1602,412.1 1603.3,412.4 1604.6,410.9 1605.9,410.1 1607.2,410 1608.5,409.6 1609.8,410.5 1611.1,409.9 1612.4,409.1 1613.7,409.4 1615,408.9 1616.3,410.5 1617.6,411.3 1618.9,412.7 1620.2,411.9 1621.5,411.8 1622.8,412.2 1624.1,413.7 1625.4,413.9 1626.7,411.9 1628,412.1 1629.3,410.5 1630.6,411.8 1631.9,412.8 1633.2,412.8 1634.5,413 1635.8,412 1637.1,411.8 1638.4,410.6 1639.7,408.7 1641,407.6 1642.3,408.8 1643.6,408.4 1644.9,408.3 1646.2,409.9 1647.5,410.5 1648.8,410.4 1650.1,409.9 1651.4,410.4 1652.7,412.2 1654,412 1655.3,412 1656.6,413.6 1657.9,411.6 1659.2,412.3 1660.5,410.7 1661.8,411.8 1663.1,411.8 1664.4,412.2 1665.7,411.9 1667,412.1 1668.3,411.1 1669.6,411.7 1670.9,410.5 1672.2,410.6 1673.5,412.3 1674.8,410.9 1676.1,410.9 1677.4,410.7 1678.7,411.3 1680,411.7 1681.3,411.1 1682.6,411.3 1683.9,410.9 1685.2,410.1 1686.5,410.2 1687.8,411.7 1689.1,409.6 1690.4,410.1" fill="none" stroke="#6aa7cc" stroke-width="1.5" stroke-linejoin="round"/>
<path d="M1437,410.5 1438.2,410.2 1438.7,410.1 1439.2,410.1 1439.7,410.2 1440.2,410 1440.7,409.4 1441.2,408.3 1441.7,407.6 1442.2,407.5 1442.7,407.3 1443.2,407.3 1443.7,407.1 1444.2,407.6 1444.7,408.5 1445.2,410 1445.7,411.2 1446.2,412.2 1446.7,413.2 1447.2,414.4 1447.7,415.4 1448.2,416.4 1448.7,417.3 1449.2,418.3 1449.7,419.3 1450.2,419.8 1450.7,420.2 1451.2,420.2 1451.7,420.4 1452.2,420.7 1452.7,421.3 1453.2,421.3 1453.7,421.3 1454.2,420.7 1454.7,420.4 1455.2,420.1 1455.7,420 1456.2,420.2 1456.7,420.2 1457.2,419.9 1457.7,420.2 1458.2,420 1458.7,419.7 1459.2,419.2 1459.7,419.3 1460.2,419.1 1460.7,418.9 1461.2,418.3 1461.7,417.5 1462.2,416.3 1462.7,415.4 1463.2,415.3 1463.7,415.5 1464.2,415.5 1464.7,415.6 1465.2,415.7 1465.7,416 1466.2,416.6 1466.7,416.4 1467.2,415.3 1467.7,413.6 1468.2,414.4 1468.7,414.9 1469.2,414.6 1469.7,413.4 1470.2,411.6 1470.7,412.5 1471.2,412.2 1471.7,412.4 1472.2,412 1472.7,411.4 1473.2,411.5 1473.7,413 1474.2,413.4 1474.7,413.1 1475.2,412.1 1475.7,412.9 1476.2,413.6 1476.7,414.6 1477.2,414.4 1477.7,413.8 1478.2,411.9 1478.7,411.3 1479.2,412.7 1479.7,413.8 1480.2,412.4 1480.7,412.8 1481.2,412.4 1481.7,412.7 1482.2,410.6 1482.7,410 1483.2,409.6 1483.7,411.4 1484.2,410.6 1484.7,410.2 1485.2,408.9 1485.7,409.8 1486.2,410.3 1486.7,409.1 1487.2,408.2 1487.7,408.2 1488.2,408.9 1488.7,409.8 1489.2,409.6 1489.7,408.6 1490.2,408.5 1491.5,408.3 1492.8,409.5 1494.1,410.3 1495.4,409.7 1496.7,409.9 1498,409.5 1499.3,410.5 1500.6,410.7 1501.9,411.9 1503.2,410.6 1504.5,410.4 1505.8,410.5 1507.1,412 1508.4,413.7 1509.7,414 1511,414.1 1512.3,413.9 1513.6,413.3 1514.9,412.9 1516.2,413.1 1517.5,413.7 1518.8,414.1 1520.1,413.5 1521.4,412.3 1522.7,410.6 1524,411.5 1525.3,409.9 1526.6,410.8 1527.9,410.1 1529.2,411.2 1530.5,412.4 1531.8,413.1 1533.1,412.6 1534.4,413.1 1535.7,412.1 1537,411.9 1538.3,411.4 1539.6,410.9 1540.9,411.2 1542.2,411 1543.5,410.9 1544.8,412 1546.1,412.6 1547.4,412.1 1548.7,412.1 1550,411 1551.3,411.6 1552.6,411.9 1553.9,410.5 1555.2,411.7 1556.5,411.2 1557.8,411.7 1559.1,411.4 1560.4,413.2 1561.7,414.4 1563,415.9 1564.3,415.7 1565.6,415.9 1566.9,414.4 1568.2,412.6 1569.5,412.8 1570.8,412.9 1572.1,413.1 1573.4,411.7 1574.7,411.7 1576,409.9 1577.3,410.2 1578.6,409.1 1579.9,410 1581.2,409.8 1582.5,409.7 1583.8,410.2 1585.1,410.5 1586.4,410.4 1587.7,410.2 1589,410.3 1590.3,410.2 1591.6,409.1 1592.9,410.3 1594.2,411 1595.5,412.1 1596.8,410.8 1598.1,410.7 1599.4,410.4 1600.7,410.8 1602,410.6 1603.3,411.5 1604.6,412.4 1605.9,411.6 1607.2,411.4 1608.5,409.7 1609.8,410.8 1611.1,411.6 1612.4,411.9 1613.7,410.4 1615,411.5 1616.3,412 1617.6,413.9 1618.9,413.3 1620.2,413.6 1621.5,413 1622.8,410.4 1624.1,410.4 1625.4,409.3 1626.7,411.7 1628,411.6 1629.3,412.4 1630.6,410.8 1631.9,410.3 1633.2,410.7 1634.5,411 1635.8,411 1637.1,409.3 1638.4,409.9 1639.7,410.9 1641,411.6 1642.3,411.3 1643.6,411.2 1644.9,412.5 1646.2,412.4 1647.5,411.8 1648.8,409.9 1650.1,410.2 1651.4,409.6 1652.7,413.3 1654,413.1 1655.3,414.3 1656.6,412.2 1657.9,411.1 1659.2,410.9 1660.5,412.3 1661.8,412.4 1663.1,411.2 1664.4,410 1665.7,411.1 1667,412.5 1668.3,411 1669.6,410.1 1670.9,409.7 1672.2,410 1673.5,409 1674.8,408.9 1676.1,409.7 1677.4,410.3 1678.7,410.2 1680,410.6 1681.3,411.3 1682.6,411.5 1683.9,412.3 1685.2,411.7 1686.5,411.3 1687.8,411.4 1689.1,410.6 1690.4,410.7" fill="none" stroke="#6aa7cc" stroke-width="1.5" stroke-linejoin="round"/>
<path d="M1437,410.5 1438.2,410.5 1438.7,410.4 1439.2,410.5 1439.7,410.4 1440.2,410.5 1440.7,409.1 1441.2,407.4 1441.7,405.6 1442.2,405 1442.7,404.9 1443.2,405.4 1443.7,405.9 1444.2,406.3 1444.7,406.7 1445.2,407.4 1445.7,408.7 1446.2,409.8 1446.7,410.7 1447.2,411.6 1447.7,412.5 1448.2,413.4 1448.7,414.2 1449.2,415.2 1449.7,415.3 1450.2,415.2 1450.7,415.2 1451.2,415.5 1451.7,415.9 1452.2,416.1 1452.7,416 1453.2,415.7 1453.7,415.6 1454.2,415.6 1454.7,415.1 1455.2,414.9 1455.7,415.1 1456.2,415.1 1456.7,414.7 1457.2,414.5 1457.7,414.2 1458.2,413.8 1458.7,413.1 1459.2,413.3 1459.7,412.6 1460.2,412.6 1460.7,412.8 1461.2,413.4 1461.7,413.4 1462.2,412.9 1462.7,412.6 1463.2,413.5 1463.7,414.7 1464.2,414.8 1464.7,414.8 1465.2,414.5 1465.7,415.4 1466.2,414.5 1466.7,414 1467.2,413.1 1467.7,413.9 1468.2,414.6 1468.7,414.9 1469.2,413.9 1469.7,413.4 1470.2,413 1470.7,413.5 1471.2,413.2 1471.7,413 1472.2,413 1472.7,413 1473.2,412.1 1473.7,413.2 1474.2,413.5 1474.7,413.3 1475.2,412.9 1475.7,413.3 1476.2,414.2 1476.7,414.2 1477.2,413 1477.7,412.5 1478.2,411.8 1478.7,411.3 1479.2,411.5 1479.7,411.1 1480.2,410.7 1480.7,411.3 1481.2,411.6 1481.7,410.9 1482.2,411.1 1482.7,410.2 1483.2,411.6 1483.7,411.1 1484.2,411.2 1484.7,412 1485.2,413.2 1485.7,411.8 1486.2,412.1 1486.7,411.2 1487.2,410.8 1487.7,411.3 1488.2,411.1 1488.7,412.9 1489.2,412.8 1489.7,412.6 1490.2,412.5 1491.5,411.7 1492.8,412.3 1494.1,413.6 1495.4,413.6 1496.7,414.9 1498,413.7 1499.3,411.4 1500.6,409.4 1501.9,410 1503.2,410.5 1504.5,411 1505.8,411.9 1507.1,411.7 1508.4,410.7 1509.7,410.1 1511,408.9 1512.3,409.9 1513.6,410 1514.9,411.2 1516.2,410.8 1517.5,411.3 1518.8,410.3 1520.1,410.5 1521.4,410.5 1522.7,411.1 1524,411.4 1525.3,410.6 1526.6,411.4 1527.9,410.9 1529.2,411.5 1530.5,412.7 1531.8,411.8 1533.1,411.8 1534.4,411.1 1535.7,410.5 1537,410.5 1538.3,409.7 1539.6,410.3 1540.9,408.7 1542.2,408.6 1543.5,409.5 1544.8,410.1 1546.1,411.4 1547.4,412.8 1548.7,413.5 1550,412 1551.3,411.6 1552.6,411.5 1553.9,413.5 1555.2,412.4 1556.5,412.2 1557.8,411.6 1559.1,412.8 1560.4,412.6 1561.7,411.8 1563,411.9 1564.3,411.2 1565.6,412.5 1566.9,412 1568.2,412.7 1569.5,412.2 1570.8,411.4 1572.1,411.2 1573.4,411.4 1574.7,412.2 1576,413.7 1577.3,413.8 1578.6,413.7 1579.9,413.5 1581.2,412.7 1582.5,412.3 1583.8,411.9 1585.1,412 1586.4,413.5 1587.7,413.4 1589,413.3 1590.3,413.6 1591.6,412.4 1592.9,412.8 1594.2,411.7 1595.5,411.3 1596.8,411.8 1598.1,411.8 1599.4,411.1 1600.7,410.2 1602,409.2 1603.3,409.6 1604.6,409.6 1605.9,410.7 1607.2,411.3 1608.5,411.2 1609.8,411.5 1611.1,412.4 1612.4,412.3 1613.7,413.3 1615,414 1616.3,413.6 1617.6,412.7 1618.9,410.6 1620.2,413 1621.5,412 1622.8,412.8 1624.1,410.9 1625.4,411.9 1626.7,412.3 1628,413.8 1629.3,412.8 1630.6,412.8 1631.9,412 1633.2,412.3 1634.5,411.4 1635.8,410.3 1637.1,411.2 1638.4,411.1 1639.7,411.2 1641,408.6 1642.3,408.3 1643.6,408.7 1644.9,409.4 1646.2,409.8 1647.5,408.8 1648.8,409.4 1650.1,409.6 1651.4,410.9 1652.7,410.7 1654,411.4 1655.3,413.1 1656.6,414.4 1657.9,414.6 1659.2,412.5 1660.5,410.8 1661.8,409.9 1663.1,409.5 1664.4,411.3 1665.7,412.2 1667,412.1 1668.3,411.9 1669.6,411.3 1670.9,411.1 1672.2,411.2 1673.5,411.3 1674.8,411.7 1676.1,409.8 1677.4,408.8 1678.7,407.1 1680,407.8 1681.3,409.5 1682.6,410.8 1683.9,410.3 1685.2,410.2 1686.5,408.8 1687.8,409.4 1689.1,408.8 1690.4,408.9" fill="none" stroke="#6aa7cc" stroke-width="1.5" stroke-linejoin="round"/>
<path d="M1437,410.8 1438.2,410.7 1438.7,410.6 1439.2,410.4 1439.7,410.4 1440.2,410 1440.7,408.6 1441.2,406.3 1441.7,404.9 1442.2,404.6 1442.7,404.2 1443.2,404.5 1443.7,404.8 1444.2,405.9 1444.7,406.9 1445.2,407.7 1445.7,408.1 1446.2,408.4 1446.7,408.5 1447.2,409.1 1447.7,409.3 1448.2,409.8 1448.7,409.5 1449.2,409.6 1449.7,410 1450.2,410 1450.7,409.9 1451.2,409.7 1451.7,409.9 1452.2,410 1452.7,410 1453.2,410.2 1453.7,410.1 1454.2,409.7 1454.7,409.5 1455.2,409.5 1455.7,409.4 1456.2,410 1456.7,410 1457.2,410.5 1457.7,410.6 1458.2,410.5 1458.7,410.3 1459.2,409.9 1459.7,410.8 1460.2,411.3 1460.7,412 1461.2,412.5 1461.7,412.7 1462.2,412.2 1462.7,411.7 1463.2,410.6 1463.7,410.7 1464.2,411.2 1464.7,411.3 1465.2,411.5 1465.7,410.5 1466.2,411 1466.7,411.6 1467.2,410.7 1467.7,410.6 1468.2,410.2 1468.7,411.2 1469.2,412 1469.7,412.4 1470.2,412.4 1470.7,411.9 1471.2,411.1 1471.7,410.7 1472.2,411.8 1472.7,413.7 1473.2,413.6 1473.7,411.9 1474.2,411.3 1474.7,411.9 1475.2,411.8 1475.7,411.7 1476.2,412.4 1476.7,412.8 1477.2,412.1 1477.7,411 1478.2,410.5 1478.7,410.6 1479.2,410.3 1479.7,411.1 1480.2,410.2 1480.7,411.8 1481.2,410.6 1481.7,410 1482.2,407.6 1482.7,408 1483.2,408.6 1483.7,409 1484.2,408.7 1484.7,409.3 1485.2,409.3 1485.7,409.8 1486.2,409.1 1486.7,409.2 1487.2,410 1487.7,410.1 1488.2,411.4 1488.7,410.1 1489.2,409.6 1489.7,409.1 1490.2,408.4 1491.5,408.6 1492.8,407.8 1494.1,407.9 1495.4,406.2 1496.7,407.2 1498,406.2 1499.3,408.1 1500.6,408 1501.9,409.2 1503.2,409.7 1504.5,410.1 1505.8,410.5 1507.1,409.4 1508.4,409 1509.7,410.3 1511,413 1512.3,412.5 1513.6,412.7 1514.9,411.1 1516.2,410.5 1517.5,411.5 1518.8,410.7 1520.1,411.2 1521.4,410.5 1522.7,410.5 1524,410.7 1525.3,409.7 1526.6,409.5 1527.9,410.8 1529.2,409.8 1530.5,409.9 1531.8,409.1 1533.1,408.6 1534.4,408.3 1535.7,409 1537,410.6 1538.3,411.5 1539.6,410.2 1540.9,409.4 1542.2,410.7 1543.5,411.9 1544.8,412.9 1546.1,413.1 1547.4,412 1548.7,410.9 1550,410.3 1551.3,410.7 1552.6,410.1 1553.9,409.8 1555.2,410.9 1556.5,411.9 1557.8,411.3 1559.1,410.1 1560.4,408.7 1561.7,408.6 1563,408.9 1564.3,410 1565.6,410.3 1566.9,410.3 1568.2,410.1 1569.5,408.8 1570.8,408.1 1572.1,408.9 1573.4,411.2 1574.7,410.9 1576,411.1 1577.3,410.5 1578.6,410.3 1579.9,410 1581.2,409.7 1582.5,409.8 1583.8,410.4 1585.1,410.5 1586.4,409 1587.7,409.3 1589,409.3 1590.3,411.3 1591.6,410.6 1592.9,410.4 1594.2,410.7 1595.5,411 1596.8,410.4 1598.1,409.6 1599.4,409.8 1600.7,410.8 1602,410.2 1603.3,409.9 1604.6,410.3 1605.9,409.7 1607.2,410.7 1608.5,409.6 1609.8,410.7 1611.1,411.7 1612.4,413 1613.7,413 1615,411.9 1616.3,411.9 1617.6,412.8 1618.9,413.1 1620.2,413.1 1621.5,414.5 1622.8,413.8 1624.1,413.5 1625.4,411.1 1626.7,410.8 1628,410.5 1629.3,410.6 1630.6,411 1631.9,410.3 1633.2,411.1 1634.5,410.6 1635.8,411.5 1637.1,411.4 1638.4,411.9 1639.7,411.5 1641,411.9 1642.3,411.3 1643.6,412.6 1644.9,413 1646.2,414.6 1647.5,414.4 1648.8,414 1650.1,413.3 1651.4,412 1652.7,412.1 1654,411.1 1655.3,411.4 1656.6,411 1657.9,411.9 1659.2,412.7 1660.5,413.1 1661.8,413.1 1663.1,412.5 1664.4,411.8 1665.7,410.7 1667,409.4 1668.3,410.1 1669.6,410.7 1670.9,410.6 1672.2,409.7 1673.5,409.8 1674.8,409.7 1676.1,409.2 1677.4,409.8 1678.7,411 1680,409.7 1681.3,408.8 1682.6,409.3 1683.9,411.3 1685.2,409.8 1686.5,408.1 1687.8,409.3 1689.1,408.4 1690.4,408.7" fill="none" stroke="#6aa7cc" stroke-width="1.5" stroke-linejoin="round"/>
<path d="M1437,410.6 1438.2,410.4 1438.7,410.6 1439.2,410.7 1439.7,410.9 1440.2,410.8 1440.7,408.9 1441.2,407 1441.7,405.5 1442.2,405.2 1442.7,405.3 1443.2,406 1443.7,406.3 1444.2,406.7 1444.7,407.4 1445.2,407.4 1445.7,407.7 1446.2,408.4 1446.7,408.4 1447.2,409.1 1447.7,409 1448.2,409.8 1448.7,410 1449.2,410.1 1449.7,409.9 1450.2,410.3 1450.7,410.2 1451.2,410.4 1451.7,409.7 1452.2,409.6 1452.7,410.2 1453.2,410.4 1453.7,410.6 1454.2,410.3 1454.7,410.2 1455.2,410.3 1455.7,410.2 1456.2,410.8 1456.7,410.4 1457.2,410.5 1457.7,409.9 1458.2,410.2 1458.7,410.8 1459.2,410.7 1459.7,410.4 1460.2,410.5 1460.7,412 1461.2,411.8 1461.7,412 1462.2,410.9 1462.7,410.6 1463.2,410.3 1463.7,411 1464.2,410.9 1464.7,409.9 1465.2,409.8 1465.7,410.2 1466.2,411.7 1466.7,412.1 1467.2,412.9 1467.7,411.6 1468.2,411.5 1468.7,412.7 1469.2,413.6 1469.7,414.1 1470.2,413.3 1470.7,412.6 1471.2,411.3 1471.7,410.7 1472.2,409.7 1472.7,409.2 1473.2,410.1 1473.7,411.3 1474.2,409.6 1474.7,408.4 1475.2,408.4 1475.7,408.9 1476.2,411.6 1476.7,411.2 1477.2,413.2 1477.7,411 1478.2,409.3 1478.7,409.7 1479.2,408.4 1479.7,410 1480.2,410.2 1480.7,410.9 1481.2,410.4 1481.7,409.6 1482.2,409.5 1482.7,408.6 1483.2,408.1 1483.7,408.4 1484.2,408.2 1484.7,408.6 1485.2,408 1485.7,408.2 1486.2,408 1486.7,407.4 1487.2,408.7 1487.7,408.3 1488.2,410 1488.7,410.4 1489.2,410.5 1489.7,410.5 1490.2,411.4 1491.5,412.6 1492.8,413 1494.1,413 1495.4,412.1 1496.7,411.8 1498,410.7 1499.3,411.1 1500.6,411.3 1501.9,409.7 1503.2,407.5 1504.5,408 1505.8,408.5 1507.1,409.6 1508.4,409.4 1509.7,408.7 1511,407.2 1512.3,407.3 1513.6,409.7 1514.9,411.3 1516.2,411.3 1517.5,411.8 1518.8,411.7 1520.1,410.8 1521.4,410.1 1522.7,410.9 1524,409.9 1525.3,410.1 1526.6,411.1 1527.9,410.6 1529.2,410.1 1530.5,409.9 1531.8,410.3 1533.1,410.2 1534.4,410.6 1535.7,412 1537,412 1538.3,411.3 1539.6,412.4 1540.9,411.9 1542.2,411.5 1543.5,410.6 1544.8,410.9 1546.1,411 1547.4,411.3 1548.7,410.8 1550,410 1551.3,409.4 1552.6,410.8 1553.9,409.3 1555.2,408.8 1556.5,408.5 1557.8,408.4 1559.1,408.2 1560.4,409.3 1561.7,410.4 1563,410 1564.3,408.2 1565.6,408.3 1566.9,408 1568.2,409.1 1569.5,411.1 1570.8,410.6 1572.1,409.6 1573.4,408.8 1574.7,409 1576,408.1 1577.3,408.3 1578.6,409 1579.9,409.9 1581.2,409.1 1582.5,410 1583.8,409.4 1585.1,410.5 1586.4,410.8 1587.7,411.7 1589,409.8 1590.3,410.5 1591.6,410.9 1592.9,411.7 1594.2,410.6 1595.5,410.1 1596.8,410 1598.1,410.6 1599.4,410.2 1600.7,410.4 1602,410.8 1603.3,410.7 1604.6,412.2 1605.9,412 1607.2,413.1 1608.5,413.8 1609.8,413.9 1611.1,413.1 1612.4,410.9 1613.7,410.8 1615,410.1 1616.3,410 1617.6,408.8 1618.9,409.4 1620.2,409.9 1621.5,412.4 1622.8,411.8 1624.1,411.3 1625.4,409.1 1626.7,408.2 1628,409.2 1629.3,408.5 1630.6,409.5 1631.9,408.9 1633.2,408.9 1634.5,410.7 1635.8,411.4 1637.1,411.7 1638.4,411.1 1639.7,410.1 1641,408.8 1642.3,408 1643.6,407.9 1644.9,407.3 1646.2,407.8 1647.5,408.4 1648.8,409.2 1650.1,409 1651.4,409.1 1652.7,409.8 1654,410.5 1655.3,409.7 1656.6,410.8 1657.9,410 1659.2,410.3 1660.5,409 1661.8,408.8 1663.1,408.4 1664.4,410.3 1665.7,411.5 1667,412.5 1668.3,412.1 1669.6,412.8 1670.9,412.1 1672.2,411.4 1673.5,410.5 1674.8,411 1676.1,411 1677.4,411.9 1678.7,412.2 1680,412.9 1681.3,412.1 1682.6,411.9 1683.9,411.5 1685.2,411.1 1686.5,411.3 1687.8,411.4 1689.1,412.1 1690.4,413.5" fill="none" stroke="#6aa7cc" stroke-width="1.5" stroke-linejoin="round"/>
<line x1="1137" y1="192.5" x2="1299.5" y2="192.5" stroke="#0a0a0a" stroke-width="2.6"/>
<line x1="1137" y1="201.8" x2="1299.5" y2="201.8" stroke="#0a0a0a" stroke-width="2.6"/>
<line x1="1137" y1="211" x2="1299.5" y2="211" stroke="#0a0a0a" stroke-width="2.6"/>
<line x1="1137" y1="220.3" x2="1299.5" y2="220.3" stroke="#0a0a0a" stroke-width="2.6"/>
<line x1="1137" y1="229.6" x2="1299.5" y2="229.6" stroke="#0a0a0a" stroke-width="2.6"/>
<line x1="1137" y1="238.8" x2="1299.5" y2="238.8" stroke="#0a0a0a" stroke-width="2.6"/>
<line x1="1137" y1="248.1" x2="1299.5" y2="248.1" stroke="#0a0a0a" stroke-width="2.6"/>
<line x1="1137" y1="257.4" x2="1299.5" y2="257.4" stroke="#0a0a0a" stroke-width="2.6"/>
<line x1="1137" y1="266.7" x2="1299.5" y2="266.7" stroke="#0a0a0a" stroke-width="2.6"/>
<line x1="1137" y1="275.9" x2="1299.5" y2="275.9" stroke="#0a0a0a" stroke-width="2.6"/>
<line x1="1137" y1="285.2" x2="1299.5" y2="285.2" stroke="#0a0a0a" stroke-width="2.6"/>
<line x1="1137" y1="294.5" x2="1299.5" y2="294.5" stroke="#0a0a0a" stroke-width="2.6"/>
<line x1="1137" y1="303.7" x2="1299.5" y2="303.7" stroke="#0a0a0a" stroke-width="2.6"/>
<line x1="1299.5" y1="191.2" x2="1299.5" y2="360.3" stroke="#0a0a0a" stroke-width="2.6"/>
<line x1="1298.2" y1="359" x2="1408.5" y2="359" stroke="#0a0a0a" stroke-width="2.6"/>
<line x1="1083" y1="359" x2="1138.3" y2="359" stroke="#0a0a0a" stroke-width="2.6"/>
<line x1="1137" y1="322" x2="1137" y2="360.3" stroke="#0a0a0a" stroke-width="2.6"/>
<line x1="1137" y1="151" x2="1137" y2="324" stroke="#c41f3b" stroke-width="2.6"/>
<line x1="1292.8" y1="151" x2="1292.8" y2="323" stroke="#c41f3b" stroke-width="2.6"/>
<text x="1130.5" y="197.5" font-size="27.3" text-anchor="end">+60 mV</text>
<text x="1130.5" y="314" font-size="27.3" text-anchor="end">-60 mV</text>
<text x="1078" y="370" font-size="27.3" text-anchor="end">-120 mV</text>
<text x="1214" y="184" font-size="27.3" text-anchor="middle">30 ms</text>
<line x1="1517" y1="179" x2="1517" y2="217.8" stroke="#0a0a0a" stroke-width="2.6"/>
<line x1="1515.7" y1="216.5" x2="1574" y2="216.5" stroke="#0a0a0a" stroke-width="2.6"/>
<text x="1508.5" y="203.5" font-size="27" text-anchor="end">1 nA</text>
<text x="1516.8" y="245.3" font-size="27.3">10 ms</text>
<rect x="1159" y="566" width="163" height="287" fill="#dcdcdc"/>
<line x1="1157.2" y1="566.6" x2="1324.6" y2="566.6" stroke="#0a0a0a" stroke-width="3.2"/>
<line x1="1157.2" y1="582" x2="1324.6" y2="582" stroke="#0a0a0a" stroke-width="3.2"/>
<line x1="1157.2" y1="597.2" x2="1324.6" y2="597.2" stroke="#0a0a0a" stroke-width="3.2"/>
<line x1="1157.2" y1="612.6" x2="1324.6" y2="612.6" stroke="#0a0a0a" stroke-width="3.2"/>
<line x1="1157.2" y1="628.1" x2="1324.6" y2="628.1" stroke="#0a0a0a" stroke-width="3.2"/>
<line x1="1157.2" y1="643.6" x2="1324.6" y2="643.6" stroke="#0a0a0a" stroke-width="3.2"/>
<line x1="1157.2" y1="659" x2="1324.6" y2="659" stroke="#0a0a0a" stroke-width="3.2"/>
<line x1="1157.2" y1="672.6" x2="1324.6" y2="672.6" stroke="#0a0a0a" stroke-width="3.2"/>
<line x1="1157.2" y1="687.2" x2="1324.6" y2="687.2" stroke="#0a0a0a" stroke-width="3.2"/>
<line x1="1157.2" y1="702" x2="1324.6" y2="702" stroke="#0a0a0a" stroke-width="3.2"/>
<line x1="1157.2" y1="715.6" x2="1324.6" y2="715.6" stroke="#0a0a0a" stroke-width="3.2"/>
<line x1="1157.2" y1="730.4" x2="1324.6" y2="730.4" stroke="#0a0a0a" stroke-width="3.2"/>
<line x1="1157.2" y1="747" x2="1324.6" y2="747" stroke="#0a0a0a" stroke-width="3.2"/>
<line x1="1157.2" y1="762.5" x2="1324.6" y2="762.5" stroke="#0a0a0a" stroke-width="3.2"/>
<line x1="1157.2" y1="777.6" x2="1324.6" y2="777.6" stroke="#0a0a0a" stroke-width="3.2"/>
<line x1="1157.2" y1="793" x2="1324.6" y2="793" stroke="#0a0a0a" stroke-width="3.2"/>
<line x1="1157.2" y1="808.6" x2="1324.6" y2="808.6" stroke="#0a0a0a" stroke-width="3.2"/>
<line x1="1157.2" y1="823" x2="1324.6" y2="823" stroke="#0a0a0a" stroke-width="3.2"/>
<line x1="1157.2" y1="838" x2="1324.6" y2="838" stroke="#0a0a0a" stroke-width="3.2"/>
<line x1="1157.2" y1="853" x2="1324.6" y2="853" stroke="#0a0a0a" stroke-width="3.2"/>
<line x1="1158.8" y1="564.6" x2="1158.8" y2="914.6" stroke="#0a0a0a" stroke-width="3.3"/>
<line x1="1323" y1="551" x2="1323" y2="854.6" stroke="#0a0a0a" stroke-width="3.3"/>
<line x1="1321.4" y1="551" x2="1339.6" y2="551" stroke="#0a0a0a" stroke-width="3.2"/>
<line x1="1338" y1="549.4" x2="1338" y2="914.6" stroke="#0a0a0a" stroke-width="3.2"/>
<line x1="1336.4" y1="913" x2="1405" y2="913" stroke="#0a0a0a" stroke-width="3.2"/>
<line x1="1124" y1="913" x2="1160.4" y2="913" stroke="#0a0a0a" stroke-width="3.2"/>
<line x1="1324.4" y1="472" x2="1324.4" y2="804.5" stroke="#c41f3b" stroke-width="2.6"/>
<line x1="1331.4" y1="472" x2="1331.4" y2="804.5" stroke="#c41f3b" stroke-width="2.6"/>
<text x="1247.5" y="560" font-size="27.3" text-anchor="middle">500 ms</text>
<text x="1341" y="528.5" font-size="27.3">50 ms</text>
<text x="1345" y="560" font-size="27.3">0 mV</text>
<text x="1145.5" y="861" font-size="27.3" text-anchor="end">-100 mV</text>
<text x="1120.5" y="923" font-size="27.3" text-anchor="end">-120 mV</text>
<text x="1410" y="920.5" font-size="27.3">-120 mV</text>
<text x="1241" y="747.5" font-size="27.4" text-anchor="middle" fill="#858585" stroke="#e4e4e4" stroke-width="1.6" paint-order="stroke">not displayed</text>
<line x1="1565" y1="525.5" x2="1565" y2="580.3" stroke="#0a0a0a" stroke-width="2.6"/>
<line x1="1563.7" y1="579" x2="1648.5" y2="579" stroke="#0a0a0a" stroke-width="2.6"/>
<text x="1560" y="557.5" font-size="18.9" text-anchor="end">0.5 nA</text>
<text x="1604" y="600.5" font-size="18.9" text-anchor="middle">5 ms</text>
</g>
<g id="panelC">
<text x="11" y="1021" font-size="29.5" font-weight="bold">C</text>
<line x1="103.2" y1="1062" x2="103.2" y2="1635.5" stroke="#0a0a0a" stroke-width="3.2"/>
<line x1="101" y1="1640.8" x2="863" y2="1640.8" stroke="#0a0a0a" stroke-width="3.4"/>
<line x1="91.5" y1="1066.8" x2="103.2" y2="1066.8" stroke="#0a0a0a" stroke-width="3.2"/>
<text x="86" y="1074" font-size="27.3" text-anchor="end">1.0</text>
<line x1="91.5" y1="1179.5" x2="103.2" y2="1179.5" stroke="#0a0a0a" stroke-width="3.2"/>
<text x="85.8" y="1189.2" font-size="27.3" text-anchor="end">0.8</text>
<line x1="91.5" y1="1292.9" x2="103.2" y2="1292.9" stroke="#0a0a0a" stroke-width="3.2"/>
<text x="88.5" y="1304.5" font-size="27.3" text-anchor="end">0.6</text>
<line x1="91.5" y1="1405.9" x2="103.2" y2="1405.9" stroke="#0a0a0a" stroke-width="3.2"/>
<text x="88.5" y="1418.4" font-size="27.3" text-anchor="end">0.4</text>
<line x1="91.5" y1="1518.7" x2="103.2" y2="1518.7" stroke="#0a0a0a" stroke-width="3.2"/>
<text x="88.2" y="1532.4" font-size="27.3" text-anchor="end">0.2</text>
<line x1="109.2" y1="1640.8" x2="109.2" y2="1652.8" stroke="#0a0a0a" stroke-width="3.2"/>
<text x="114.8" y="1675.4" font-size="27.3" text-anchor="middle">-100</text>
<line x1="267.9" y1="1640.8" x2="267.9" y2="1652.8" stroke="#0a0a0a" stroke-width="3.2"/>
<text x="272.9" y="1675.4" font-size="27.3" text-anchor="middle">-80</text>
<line x1="426.4" y1="1640.8" x2="426.4" y2="1652.8" stroke="#0a0a0a" stroke-width="3.2"/>
<text x="428.4" y="1675.4" font-size="27.3" text-anchor="middle">-60</text>
<line x1="585" y1="1640.8" x2="585" y2="1652.8" stroke="#0a0a0a" stroke-width="3.2"/>
<text x="587" y="1675.4" font-size="27.3" text-anchor="middle">-40</text>
<line x1="743.6" y1="1640.8" x2="743.6" y2="1652.8" stroke="#0a0a0a" stroke-width="3.2"/>
<text x="743.1" y="1675.4" font-size="27.3" text-anchor="middle">-20</text>
<text x="480" y="1721.5" font-size="27.3" text-anchor="middle">Voltage (mV)</text>
<text transform="translate(37.6 1418) rotate(-90)" font-size="26.9">I/I<tspan font-size="15.6" dy="7.5">max</tspan><tspan dy="-7.5"> or G/G</tspan><tspan font-size="15.6" dy="7.5">max</tspan></text>
<path d="M109.2,1047.5 C115.9,1047.8 135.7,1048.8 148.9,1049.5 C162.1,1050.2 175.3,1050.8 188.6,1051.5 C201.8,1052.2 215,1052.7 228.2,1054 C241.4,1055.3 254.6,1056.6 267.9,1059.5 C281.1,1062.4 294.3,1065.7 307.5,1071.5 C320.7,1077.3 333.9,1084 347.1,1094.5 C360.4,1105 373.6,1118.2 386.8,1134.5 C400,1150.8 413.2,1167.9 426.4,1192 C439.7,1216.1 452.9,1247.5 466.1,1279 C479.3,1310.5 492.5,1348.7 505.8,1381 C519,1413.3 532.2,1446.3 545.4,1473 C558.6,1499.7 571.8,1522.7 585,1541 C598.3,1559.3 611.5,1572.8 624.7,1583 C637.9,1593.2 651.1,1597.2 664.4,1602 C677.6,1606.8 690.8,1609.2 704,1611.5 C717.2,1613.8 730.4,1614.8 743.6,1616 C756.9,1617.2 770.1,1617.9 783.3,1618.5 C796.5,1619.1 809.7,1619.2 822.9,1619.5 C836.2,1619.8 856,1619.9 862.6,1620" fill="none" stroke="#69a5cb" stroke-width="3.5" stroke-linecap="butt"/>
<path d="M347.1,1611.6 355.1,1611.5 363,1611.4 370.9,1611.3 378.9,1611.1 386.8,1611 394.7,1610.7 402.7,1610.5 410.6,1610.2 418.5,1609.8 426.4,1609.3 434.4,1608.8 442.3,1608.1 450.2,1607.3 458.2,1606.4 466.1,1605.2 474,1603.8 482,1602.1 489.9,1600.1 497.8,1597.7 505.8,1594.9 513.7,1591.5 521.6,1587.4 529.5,1582.5 537.5,1576.8 545.4,1570 553.3,1562.1 561.3,1552.8 569.2,1542.1 577.1,1529.7 585,1515.6 593,1499.6 600.9,1481.7 608.8,1461.9 616.8,1440.4 624.7,1417.2 632.6,1392.6 640.6,1367 648.5,1340.9 656.4,1314.6 664.4,1288.6 672.3,1263.4 680.2,1239.4 688.1,1216.8 696.1,1195.9 704,1176.9 711.9,1159.8 719.9,1144.5 727.8,1131.1 735.7,1119.4 743.6,1109.3 751.6,1100.6 759.5,1093.1 767.4,1086.8 775.4,1081.4 783.3,1076.9 791.2,1073.1 799.2,1069.9 807.1,1067.2 815,1065 822.9,1063.1" fill="none" stroke="#69a5cb" stroke-width="3.5" stroke-linejoin="round"/>
<path d="M109.2,1061.2 C115.9,1064.1 135.7,1071.8 148.9,1078.5 C162.1,1085.2 175.3,1092.2 188.6,1101.8 C201.8,1111.3 215,1122.5 228.2,1135.8 C241.4,1149 254.6,1164 267.9,1181.2 C281.1,1198.5 294.3,1218.1 307.5,1239.2 C320.7,1260.4 333.9,1283.8 347.1,1308.2 C360.4,1332.7 373.6,1361 386.8,1386 C400,1411 413.2,1435.5 426.4,1458 C439.7,1480.5 452.9,1502.9 466.1,1520.8 C479.3,1538.6 492.5,1553.1 505.8,1565 C519,1576.9 532.2,1584.9 545.4,1592 C558.6,1599.1 571.8,1603.6 585,1607.5 C598.3,1611.4 611.5,1613.3 624.7,1615.5 C637.9,1617.7 651.1,1619.2 664.4,1620.5 C677.6,1621.8 690.8,1622.8 704,1623.5 C717.2,1624.2 730.4,1624.6 743.6,1625 C756.9,1625.4 770.1,1625.6 783.3,1625.8 C796.5,1626 809.7,1626.1 822.9,1626.2 C836.2,1626.3 856,1626.4 862.6,1626.4" fill="none" stroke="#0d4468" stroke-width="3.5" stroke-linecap="butt"/>
<path d="M347.1,1596 C353.8,1593.7 373.6,1588.8 386.8,1582 C400,1575.2 413.2,1567.8 426.4,1555 C439.7,1542.2 452.9,1527.5 466.1,1505 C479.3,1482.5 492.5,1450.5 505.8,1420 C519,1389.5 532.2,1353.2 545.4,1322 C558.6,1290.8 571.8,1260.3 585,1233 C598.3,1205.7 611.5,1179.3 624.7,1158 C637.9,1136.7 651.1,1118.3 664.4,1105 C677.6,1091.7 690.8,1084.8 704,1078 C717.2,1071.2 730.4,1067.4 743.6,1064 C756.9,1060.6 776.7,1058.6 783.3,1057.5" fill="none" stroke="#0d4468" stroke-width="3.5" stroke-linecap="butt"/>
<line x1="307.5" y1="1066" x2="307.5" y2="1074" stroke="#69a5cb" stroke-width="2.9"/><line x1="302.2" y1="1066" x2="312.8" y2="1066" stroke="#69a5cb" stroke-width="2.9"/><line x1="302.2" y1="1074" x2="312.8" y2="1074" stroke="#69a5cb" stroke-width="2.9"/>
<line x1="347.1" y1="1086.8" x2="347.1" y2="1100.8" stroke="#69a5cb" stroke-width="2.9"/><line x1="341.9" y1="1086.8" x2="352.4" y2="1086.8" stroke="#69a5cb" stroke-width="2.9"/><line x1="341.9" y1="1100.8" x2="352.4" y2="1100.8" stroke="#69a5cb" stroke-width="2.9"/>
<line x1="386.8" y1="1124.8" x2="386.8" y2="1142.8" stroke="#69a5cb" stroke-width="2.9"/><line x1="381.6" y1="1124.8" x2="392.1" y2="1124.8" stroke="#69a5cb" stroke-width="2.9"/><line x1="381.6" y1="1142.8" x2="392.1" y2="1142.8" stroke="#69a5cb" stroke-width="2.9"/>
<line x1="426.4" y1="1179" x2="426.4" y2="1201" stroke="#69a5cb" stroke-width="2.9"/><line x1="421.2" y1="1179" x2="431.7" y2="1179" stroke="#69a5cb" stroke-width="2.9"/><line x1="421.2" y1="1201" x2="431.7" y2="1201" stroke="#69a5cb" stroke-width="2.9"/>
<line x1="466.1" y1="1267.8" x2="466.1" y2="1289.8" stroke="#69a5cb" stroke-width="2.9"/><line x1="460.8" y1="1267.8" x2="471.3" y2="1267.8" stroke="#69a5cb" stroke-width="2.9"/><line x1="460.8" y1="1289.8" x2="471.3" y2="1289.8" stroke="#69a5cb" stroke-width="2.9"/>
<line x1="505.8" y1="1372" x2="505.8" y2="1392" stroke="#69a5cb" stroke-width="2.9"/><line x1="500.5" y1="1372" x2="511" y2="1372" stroke="#69a5cb" stroke-width="2.9"/><line x1="500.5" y1="1392" x2="511" y2="1392" stroke="#69a5cb" stroke-width="2.9"/>
<line x1="545.4" y1="1466.8" x2="545.4" y2="1484.8" stroke="#69a5cb" stroke-width="2.9"/><line x1="540.1" y1="1466.8" x2="550.6" y2="1466.8" stroke="#69a5cb" stroke-width="2.9"/><line x1="540.1" y1="1484.8" x2="550.6" y2="1484.8" stroke="#69a5cb" stroke-width="2.9"/>
<line x1="585" y1="1535" x2="585" y2="1549" stroke="#69a5cb" stroke-width="2.9"/><line x1="579.8" y1="1535" x2="590.3" y2="1535" stroke="#69a5cb" stroke-width="2.9"/><line x1="579.8" y1="1549" x2="590.3" y2="1549" stroke="#69a5cb" stroke-width="2.9"/>
<line x1="624.7" y1="1582.5" x2="624.7" y2="1592.5" stroke="#69a5cb" stroke-width="2.9"/><line x1="619.4" y1="1582.5" x2="629.9" y2="1582.5" stroke="#69a5cb" stroke-width="2.9"/><line x1="619.4" y1="1592.5" x2="629.9" y2="1592.5" stroke="#69a5cb" stroke-width="2.9"/>
<line x1="664.4" y1="1596.8" x2="664.4" y2="1604.8" stroke="#69a5cb" stroke-width="2.9"/><line x1="659.1" y1="1596.8" x2="669.6" y2="1596.8" stroke="#69a5cb" stroke-width="2.9"/><line x1="659.1" y1="1604.8" x2="669.6" y2="1604.8" stroke="#69a5cb" stroke-width="2.9"/>
<line x1="822.9" y1="1600.5" x2="822.9" y2="1618.5" stroke="#69a5cb" stroke-width="2.9"/><line x1="817.7" y1="1600.5" x2="828.2" y2="1600.5" stroke="#69a5cb" stroke-width="2.9"/><line x1="817.7" y1="1618.5" x2="828.2" y2="1618.5" stroke="#69a5cb" stroke-width="2.9"/>
<line x1="466.1" y1="1592.2" x2="466.1" y2="1614.2" stroke="#69a5cb" stroke-width="2.9"/><line x1="460.8" y1="1592.2" x2="471.3" y2="1592.2" stroke="#69a5cb" stroke-width="2.9"/><line x1="460.8" y1="1614.2" x2="471.3" y2="1614.2" stroke="#69a5cb" stroke-width="2.9"/>
<line x1="505.8" y1="1584" x2="505.8" y2="1600" stroke="#69a5cb" stroke-width="2.9"/><line x1="500.5" y1="1584" x2="511" y2="1584" stroke="#69a5cb" stroke-width="2.9"/><line x1="500.5" y1="1600" x2="511" y2="1600" stroke="#69a5cb" stroke-width="2.9"/>
<line x1="545.4" y1="1566.2" x2="545.4" y2="1585.2" stroke="#69a5cb" stroke-width="2.9"/><line x1="540.1" y1="1566.2" x2="550.6" y2="1566.2" stroke="#69a5cb" stroke-width="2.9"/><line x1="540.1" y1="1585.2" x2="550.6" y2="1585.2" stroke="#69a5cb" stroke-width="2.9"/>
<line x1="585" y1="1489.5" x2="585" y2="1519.5" stroke="#69a5cb" stroke-width="2.9"/><line x1="579.8" y1="1489.5" x2="590.3" y2="1489.5" stroke="#69a5cb" stroke-width="2.9"/><line x1="579.8" y1="1519.5" x2="590.3" y2="1519.5" stroke="#69a5cb" stroke-width="2.9"/>
<line x1="624.7" y1="1420" x2="624.7" y2="1479" stroke="#69a5cb" stroke-width="2.9"/><line x1="619.4" y1="1420" x2="629.9" y2="1420" stroke="#69a5cb" stroke-width="2.9"/><line x1="619.4" y1="1479" x2="629.9" y2="1479" stroke="#69a5cb" stroke-width="2.9"/>
<line x1="664.4" y1="1244.2" x2="664.4" y2="1283.2" stroke="#69a5cb" stroke-width="2.9"/><line x1="659.1" y1="1244.2" x2="669.6" y2="1244.2" stroke="#69a5cb" stroke-width="2.9"/><line x1="659.1" y1="1283.2" x2="669.6" y2="1283.2" stroke="#69a5cb" stroke-width="2.9"/>
<line x1="704" y1="1167.5" x2="704" y2="1227.5" stroke="#69a5cb" stroke-width="2.9"/><line x1="698.8" y1="1167.5" x2="709.2" y2="1167.5" stroke="#69a5cb" stroke-width="2.9"/><line x1="698.8" y1="1227.5" x2="709.2" y2="1227.5" stroke="#69a5cb" stroke-width="2.9"/>
<line x1="743.6" y1="1092.8" x2="743.6" y2="1114.8" stroke="#69a5cb" stroke-width="2.9"/><line x1="738.4" y1="1092.8" x2="748.9" y2="1092.8" stroke="#69a5cb" stroke-width="2.9"/><line x1="738.4" y1="1114.8" x2="748.9" y2="1114.8" stroke="#69a5cb" stroke-width="2.9"/>
<line x1="783.3" y1="1069.8" x2="783.3" y2="1092.8" stroke="#69a5cb" stroke-width="2.9"/><line x1="778" y1="1069.8" x2="788.5" y2="1069.8" stroke="#69a5cb" stroke-width="2.9"/><line x1="778" y1="1092.8" x2="788.5" y2="1092.8" stroke="#69a5cb" stroke-width="2.9"/>
<line x1="466.1" y1="1492.2" x2="466.1" y2="1514.2" stroke="#0d4468" stroke-width="2.9"/><line x1="460.8" y1="1492.2" x2="471.3" y2="1492.2" stroke="#0d4468" stroke-width="2.9"/><line x1="460.8" y1="1514.2" x2="471.3" y2="1514.2" stroke="#0d4468" stroke-width="2.9"/>
<line x1="505.8" y1="1404.5" x2="505.8" y2="1429.5" stroke="#0d4468" stroke-width="2.9"/><line x1="500.5" y1="1404.5" x2="511" y2="1404.5" stroke="#0d4468" stroke-width="2.9"/><line x1="500.5" y1="1429.5" x2="511" y2="1429.5" stroke="#0d4468" stroke-width="2.9"/>
<line x1="545.4" y1="1310" x2="545.4" y2="1340" stroke="#0d4468" stroke-width="2.9"/><line x1="540.1" y1="1310" x2="550.6" y2="1310" stroke="#0d4468" stroke-width="2.9"/><line x1="540.1" y1="1340" x2="550.6" y2="1340" stroke="#0d4468" stroke-width="2.9"/>
<line x1="585" y1="1222.2" x2="585" y2="1245.2" stroke="#0d4468" stroke-width="2.9"/><line x1="579.8" y1="1222.2" x2="590.3" y2="1222.2" stroke="#0d4468" stroke-width="2.9"/><line x1="579.8" y1="1245.2" x2="590.3" y2="1245.2" stroke="#0d4468" stroke-width="2.9"/>
<line x1="624.7" y1="1147.2" x2="624.7" y2="1170.2" stroke="#0d4468" stroke-width="2.9"/><line x1="619.4" y1="1147.2" x2="629.9" y2="1147.2" stroke="#0d4468" stroke-width="2.9"/><line x1="619.4" y1="1170.2" x2="629.9" y2="1170.2" stroke="#0d4468" stroke-width="2.9"/>
<line x1="664.4" y1="1089" x2="664.4" y2="1101" stroke="#0d4468" stroke-width="2.9"/><line x1="659.1" y1="1089" x2="669.6" y2="1089" stroke="#0d4468" stroke-width="2.9"/><line x1="659.1" y1="1101" x2="669.6" y2="1101" stroke="#0d4468" stroke-width="2.9"/>
<path d="M109.2,1045 L117.8,1059.5 L100.8,1059.5 Z" fill="#69a5cb"/><path d="M109.2,1053.2 L111,1056.2 L107.5,1056.2 Z" fill="#b4d2e6"/>
<path d="M148.9,1042.8 L157.4,1057.3 L140.4,1057.3 Z" fill="#69a5cb"/><path d="M148.9,1051 L150.6,1054 L147.2,1054 Z" fill="#b4d2e6"/>
<path d="M188.6,1039.8 L197.1,1054.3 L180.1,1054.3 Z" fill="#69a5cb"/><path d="M188.6,1048 L190.2,1051 L186.9,1051 Z" fill="#b4d2e6"/>
<path d="M228.2,1041 L236.7,1055.5 L219.7,1055.5 Z" fill="#69a5cb"/><path d="M228.2,1049.2 L229.9,1052.2 L226.5,1052.2 Z" fill="#b4d2e6"/>
<path d="M267.9,1045.5 L276.4,1060 L259.4,1060 Z" fill="#69a5cb"/><path d="M267.9,1053.7 L269.6,1056.7 L266.2,1056.7 Z" fill="#b4d2e6"/>
<path d="M307.5,1061 L316,1075.5 L299,1075.5 Z" fill="#69a5cb"/><path d="M307.5,1069.2 L309.2,1072.2 L305.8,1072.2 Z" fill="#b4d2e6"/>
<path d="M347.1,1084.8 L355.6,1099.3 L338.6,1099.3 Z" fill="#69a5cb"/><path d="M347.1,1093 L348.8,1096 L345.4,1096 Z" fill="#b4d2e6"/>
<path d="M386.8,1124.8 L395.3,1139.3 L378.3,1139.3 Z" fill="#69a5cb"/><path d="M386.8,1133 L388.5,1136 L385.1,1136 Z" fill="#b4d2e6"/>
<path d="M426.4,1181 L434.9,1195.5 L417.9,1195.5 Z" fill="#69a5cb"/><path d="M426.4,1189.2 L428.1,1192.2 L424.8,1192.2 Z" fill="#b4d2e6"/>
<path d="M466.1,1269.8 L474.6,1284.3 L457.6,1284.3 Z" fill="#69a5cb"/><path d="M466.1,1278 L467.8,1281 L464.4,1281 Z" fill="#b4d2e6"/>
<path d="M505.8,1373 L514.2,1387.5 L497.2,1387.5 Z" fill="#69a5cb"/><path d="M505.8,1381.2 L507.4,1384.2 L504.1,1384.2 Z" fill="#b4d2e6"/>
<path d="M545.4,1466.8 L553.9,1481.3 L536.9,1481.3 Z" fill="#69a5cb"/><path d="M545.4,1475 L547.1,1478 L543.7,1478 Z" fill="#b4d2e6"/>
<path d="M585,1533 L593.5,1547.5 L576.5,1547.5 Z" fill="#69a5cb"/><path d="M585,1541.2 L586.8,1544.2 L583.3,1544.2 Z" fill="#b4d2e6"/>
<path d="M624.7,1578.5 L633.2,1593 L616.2,1593 Z" fill="#69a5cb"/><path d="M624.7,1586.7 L626.4,1589.7 L623,1589.7 Z" fill="#b4d2e6"/>
<path d="M664.4,1591.8 L672.9,1606.3 L655.9,1606.3 Z" fill="#69a5cb"/><path d="M664.4,1600 L666.1,1603 L662.6,1603 Z" fill="#b4d2e6"/>
<path d="M704,1603 L712.5,1617.5 L695.5,1617.5 Z" fill="#69a5cb"/><path d="M704,1611.2 L705.7,1614.2 L702.3,1614.2 Z" fill="#b4d2e6"/>
<path d="M743.6,1604.3 L752.1,1618.8 L735.1,1618.8 Z" fill="#69a5cb"/><path d="M743.6,1612.5 L745.4,1615.5 L741.9,1615.5 Z" fill="#b4d2e6"/>
<path d="M783.3,1606.8 L791.8,1621.3 L774.8,1621.3 Z" fill="#69a5cb"/><path d="M783.3,1615 L785,1618 L781.6,1618 Z" fill="#b4d2e6"/>
<path d="M822.9,1600.5 L831.4,1615 L814.4,1615 Z" fill="#69a5cb"/><path d="M822.9,1608.7 L824.6,1611.7 L821.2,1611.7 Z" fill="#b4d2e6"/>
<path d="M862.6,1610.5 L871.1,1625 L854.1,1625 Z" fill="#69a5cb"/><path d="M862.6,1618.7 L864.3,1621.7 L860.9,1621.7 Z" fill="#b4d2e6"/>
<path d="M347.1,1612.2 L353.4,1623.2 L340.9,1623.2 Z" fill="#69a5cb"/>
<path d="M386.8,1603.9 L393.1,1614.9 L380.6,1614.9 Z" fill="#69a5cb"/>
<path d="M426.4,1597.7 L432.7,1608.7 L420.2,1608.7 Z" fill="#69a5cb"/>
<path d="M466.1,1594.9 L473.8,1608.4 L458.3,1608.4 Z" fill="#69a5cb"/>
<path d="M505.8,1583.6 L513.5,1597.1 L498,1597.1 Z" fill="#69a5cb"/>
<path d="M545.4,1567.4 L553.1,1580.9 L537.6,1580.9 Z" fill="#69a5cb"/>
<path d="M585,1496.1 L592.8,1509.6 L577.3,1509.6 Z" fill="#69a5cb"/>
<path d="M624.7,1442.7 L630.9,1453.7 L618.4,1453.7 Z" fill="#69a5cb"/>
<path d="M664.4,1255.4 L672.1,1268.9 L656.6,1268.9 Z" fill="#69a5cb"/>
<path d="M704,1189.1 L711.8,1202.6 L696.2,1202.6 Z" fill="#69a5cb"/>
<path d="M743.6,1095.4 L751.4,1108.9 L735.9,1108.9 Z" fill="#69a5cb"/>
<path d="M783.3,1072.9 L791,1086.4 L775.5,1086.4 Z" fill="#69a5cb"/>
<path d="M822.9,1055.3 L828.9,1065.3 L816.9,1065.3 Z" fill="#69a5cb"/>
<rect x="102.5" y="1054.5" width="13.4" height="13.4" fill="#0d4468"/><rect x="108" y="1060" width="2.6" height="2.6" fill="#b9cbd8"/>
<rect x="142.2" y="1071.8" width="13.4" height="13.4" fill="#0d4468"/><rect x="147.6" y="1077.2" width="2.6" height="2.6" fill="#b9cbd8"/>
<rect x="181.9" y="1095" width="13.4" height="13.4" fill="#0d4468"/><rect x="187.2" y="1100.5" width="2.6" height="2.6" fill="#b9cbd8"/>
<rect x="221.5" y="1129" width="13.4" height="13.4" fill="#0d4468"/><rect x="226.9" y="1134.5" width="2.6" height="2.6" fill="#b9cbd8"/>
<rect x="261.2" y="1174.5" width="13.4" height="13.4" fill="#0d4468"/><rect x="266.6" y="1180" width="2.6" height="2.6" fill="#b9cbd8"/>
<rect x="300.8" y="1232.5" width="13.4" height="13.4" fill="#0d4468"/><rect x="306.2" y="1238" width="2.6" height="2.6" fill="#b9cbd8"/>
<rect x="340.4" y="1301.5" width="13.4" height="13.4" fill="#0d4468"/><rect x="345.8" y="1307" width="2.6" height="2.6" fill="#b9cbd8"/>
<rect x="380.1" y="1382.3" width="13.4" height="13.4" fill="#0d4468"/><rect x="385.5" y="1387.7" width="2.6" height="2.6" fill="#b9cbd8"/>
<rect x="419.8" y="1451.3" width="13.4" height="13.4" fill="#0d4468"/><rect x="425.1" y="1456.7" width="2.6" height="2.6" fill="#b9cbd8"/>
<rect x="459.4" y="1514" width="13.4" height="13.4" fill="#0d4468"/><rect x="464.8" y="1519.5" width="2.6" height="2.6" fill="#b9cbd8"/>
<rect x="499.1" y="1560.3" width="13.4" height="13.4" fill="#0d4468"/><rect x="504.4" y="1565.7" width="2.6" height="2.6" fill="#b9cbd8"/>
<rect x="538.7" y="1582.8" width="13.4" height="13.4" fill="#0d4468"/><rect x="544.1" y="1588.2" width="2.6" height="2.6" fill="#b9cbd8"/>
<rect x="578.3" y="1600.8" width="13.4" height="13.4" fill="#0d4468"/><rect x="583.8" y="1606.2" width="2.6" height="2.6" fill="#b9cbd8"/>
<rect x="618" y="1607" width="13.4" height="13.4" fill="#0d4468"/><rect x="623.4" y="1612.5" width="2.6" height="2.6" fill="#b9cbd8"/>
<rect x="657.6" y="1611.5" width="13.4" height="13.4" fill="#0d4468"/><rect x="663.1" y="1617" width="2.6" height="2.6" fill="#b9cbd8"/>
<rect x="697.3" y="1617.8" width="13.4" height="13.4" fill="#0d4468"/><rect x="702.7" y="1623.2" width="2.6" height="2.6" fill="#b9cbd8"/>
<rect x="736.9" y="1617.8" width="13.4" height="13.4" fill="#0d4468"/><rect x="742.4" y="1623.2" width="2.6" height="2.6" fill="#b9cbd8"/>
<rect x="776.6" y="1618.3" width="13.4" height="13.4" fill="#0d4468"/><rect x="782" y="1623.7" width="2.6" height="2.6" fill="#b9cbd8"/>
<rect x="816.2" y="1624" width="13.4" height="13.4" fill="#0d4468"/><rect x="821.6" y="1629.5" width="2.6" height="2.6" fill="#b9cbd8"/>
<rect x="855.9" y="1619" width="13.4" height="13.4" fill="#0d4468"/><rect x="861.3" y="1624.5" width="2.6" height="2.6" fill="#b9cbd8"/>
<rect x="341.4" y="1583.8" width="11.4" height="11.4" fill="#0d4468"/>
<rect x="381.1" y="1578.8" width="11.4" height="11.4" fill="#0d4468"/>
<rect x="420.8" y="1561.8" width="11.4" height="11.4" fill="#0d4468"/>
<rect x="460.4" y="1497.5" width="11.4" height="11.4" fill="#0d4468"/>
<rect x="500.1" y="1411.3" width="11.4" height="11.4" fill="#0d4468"/>
<rect x="539.7" y="1319.3" width="11.4" height="11.4" fill="#0d4468"/>
<rect x="579.3" y="1228" width="11.4" height="11.4" fill="#0d4468"/>
<rect x="619" y="1153" width="11.4" height="11.4" fill="#0d4468"/>
<rect x="658.6" y="1089.3" width="11.4" height="11.4" fill="#0d4468"/>
<rect x="698.3" y="1066.8" width="11.4" height="11.4" fill="#0d4468"/>
<rect x="737.9" y="1054.8" width="11.4" height="11.4" fill="#0d4468"/>
<rect x="777.6" y="1061" width="11.4" height="11.4" fill="#0d4468"/>
<rect x="817.2" y="1101" width="11.4" height="11.4" fill="#0d4468"/>
<line x1="95.4" y1="958.2" x2="125.8" y2="958.2" stroke="#0d4468" stroke-width="2.4"/>
<rect x="105.6" y="953" width="10.8" height="10.4" fill="#fff" stroke="#0d4468" stroke-width="2.8"/>
<line x1="104.5" y1="958.2" x2="117.5" y2="958.2" stroke="#0d4468" stroke-width="2.4"/>
<line x1="95.4" y1="993.4" x2="125.8" y2="993.4" stroke="#69a5cb" stroke-width="2.4"/>
<path d="M111,986.8 L118.3,998.4 L103.7,998.4 Z" fill="#fff" stroke="#69a5cb" stroke-width="2.8"/>
<line x1="101" y1="993.4" x2="121" y2="993.4" stroke="#69a5cb" stroke-width="2.4"/>
<text x="128" y="968.4" font-size="27.3">Inactivation standard internal</text>
<text x="128" y="1001" font-size="27.3">Inactivation Fluoride-free</text>
<line x1="517" y1="957.4" x2="546.8" y2="957.4" stroke="#0d4468" stroke-width="2.4"/>
<rect x="527" y="952" width="10.4" height="10.4" fill="#0d4468"/>
<line x1="517" y1="990.2" x2="546.8" y2="990.2" stroke="#69a5cb" stroke-width="2.4"/>
<path d="M532,980.5 L539.4,993.8 L524.6,993.8 Z" fill="#69a5cb"/>
<text x="547.5" y="969.5" font-size="27.3">Activation standard internal</text>
<text x="547.5" y="1001" font-size="27.3">Activation Fluoride-free</text>
</g>
<g id="panelDE">
<text x="915" y="1021" font-size="29.5" font-weight="bold">D</text>
<text x="1368.5" y="1021" font-size="29.5" font-weight="bold">E</text>
<rect x="1099" y="1073.5" width="16" height="9.5" fill="#0b4567"/>
<rect x="1099" y="1096" width="16" height="9.5" fill="#68a5cb"/>
<text x="1121" y="1088.2" font-size="27.3">Standard internal</text>
<text x="1122" y="1112.6" font-size="27.3">Fluoride-free internal</text>
<text x="971" y="1148" font-size="27.3">Na<tspan font-size="14.8" dy="9">V</tspan><tspan dy="-9" dx="1.6">1.5</tspan></text>
<line x1="960.5" y1="1153.5" x2="960.5" y2="1643" stroke="#0a0a0a" stroke-width="2.6"/>
<line x1="959.1" y1="1641.6" x2="1299.5" y2="1641.6" stroke="#0a0a0a" stroke-width="2.8"/>
<line x1="948.2" y1="1166.2" x2="960.5" y2="1166.2" stroke="#0a0a0a" stroke-width="2.8"/>
<text x="949.3" y="1177.7" font-size="27.3" text-anchor="end">0</text>
<line x1="948.2" y1="1271" x2="960.5" y2="1271" stroke="#0a0a0a" stroke-width="2.8"/>
<text x="946.3" y="1281.2" font-size="27.3" text-anchor="end">-20</text>
<line x1="948.2" y1="1376.5" x2="960.5" y2="1376.5" stroke="#0a0a0a" stroke-width="2.8"/>
<text x="946.3" y="1386.7" font-size="27.3" text-anchor="end">-40</text>
<line x1="948.2" y1="1481.7" x2="960.5" y2="1481.7" stroke="#0a0a0a" stroke-width="2.8"/>
<text x="947" y="1491.9" font-size="27.3" text-anchor="end">-60</text>
<line x1="948.2" y1="1579.3" x2="960.5" y2="1579.3" stroke="#0a0a0a" stroke-width="2.8"/>
<text x="948.7" y="1585.9" font-size="27.3" text-anchor="end">-80</text>
<line x1="1048" y1="1641.6" x2="1048" y2="1652.5" stroke="#0a0a0a" stroke-width="2.8"/>
<text transform="translate(1058 1669) rotate(-45)" font-size="27.3" text-anchor="end">Activation</text>
<line x1="1238.2" y1="1641.6" x2="1238.2" y2="1652.5" stroke="#0a0a0a" stroke-width="2.8"/>
<text transform="translate(1248.2 1669) rotate(-45)" font-size="27.3" text-anchor="end">Inactivation</text>
<text transform="translate(895 1437.5) rotate(-90)" font-size="27.3">V<tspan font-size="15.8" dy="8.5">half</tspan><tspan dy="-8.5"> (mV)</tspan></text>
<line x1="1003.2" y1="1300" x2="1003.2" y2="1326.6" stroke="#0a0a0a" stroke-width="2.7"/><line x1="1003.2" y1="1398.3" x2="1003.2" y2="1422.5" stroke="#0a0a0a" stroke-width="2.7"/><line x1="999" y1="1300" x2="1007.5" y2="1300" stroke="#0a0a0a" stroke-width="2.7"/><line x1="999" y1="1422.5" x2="1007.5" y2="1422.5" stroke="#0a0a0a" stroke-width="2.7"/><rect x="976.2" y="1327.9" width="54" height="69" fill="#0b4567" stroke="#0a0a0a" stroke-width="2.7"/><line x1="975.9" y1="1365" x2="1030.6" y2="1365" stroke="#0a0a0a" stroke-width="2.7"/>
<line x1="1079.3" y1="1245.5" x2="1079.3" y2="1266.6" stroke="#0a0a0a" stroke-width="2.7"/><line x1="1079.3" y1="1331" x2="1079.3" y2="1350" stroke="#0a0a0a" stroke-width="2.7"/><line x1="1075.1" y1="1245.5" x2="1083.6" y2="1245.5" stroke="#0a0a0a" stroke-width="2.7"/><line x1="1075.1" y1="1350" x2="1083.6" y2="1350" stroke="#0a0a0a" stroke-width="2.7"/><rect x="1052.5" y="1267.9" width="53.8" height="61.7" fill="#68a5cb" stroke="#0a0a0a" stroke-width="2.7"/><line x1="1052.1" y1="1294.5" x2="1106.6" y2="1294.5" stroke="#0a0a0a" stroke-width="2.7"/>
<line x1="1190.9" y1="1462" x2="1190.9" y2="1491.1" stroke="#0a0a0a" stroke-width="2.7"/><line x1="1190.9" y1="1560.5" x2="1190.9" y2="1593.2" stroke="#0a0a0a" stroke-width="2.7"/><line x1="1186.7" y1="1462" x2="1195.2" y2="1462" stroke="#0a0a0a" stroke-width="2.7"/><line x1="1186.7" y1="1593.2" x2="1195.2" y2="1593.2" stroke="#0a0a0a" stroke-width="2.7"/><rect x="1163.8" y="1492.4" width="54.3" height="66.7" fill="#0b4567" stroke="#0a0a0a" stroke-width="2.7"/><line x1="1163.4" y1="1521.2" x2="1218.4" y2="1521.2" stroke="#0a0a0a" stroke-width="2.7"/>
<line x1="1267" y1="1400" x2="1267" y2="1418.6" stroke="#0a0a0a" stroke-width="2.7"/><line x1="1267" y1="1474.2" x2="1267" y2="1503.5" stroke="#0a0a0a" stroke-width="2.7"/><line x1="1262.8" y1="1400" x2="1271.2" y2="1400" stroke="#0a0a0a" stroke-width="2.7"/><line x1="1262.8" y1="1503.5" x2="1271.2" y2="1503.5" stroke="#0a0a0a" stroke-width="2.7"/><rect x="1240" y="1419.9" width="54.1" height="52.9" fill="#68a5cb" stroke="#0a0a0a" stroke-width="2.7"/><line x1="1239.6" y1="1440" x2="1294.4" y2="1440" stroke="#0a0a0a" stroke-width="2.7"/>
<line x1="1005.5" y1="1223" x2="1078" y2="1223" stroke="#0a0a0a" stroke-width="2.6"/><text x="1040.2" y="1224.7" font-size="26.5" text-anchor="middle">***</text>
<line x1="1189" y1="1384.3" x2="1261.5" y2="1384.3" stroke="#0a0a0a" stroke-width="2.6"/><text x="1223.8" y="1386" font-size="26.5" text-anchor="middle">***</text>
<text x="1393.8" y="1144.5" font-size="27.3">Na<tspan font-size="14.8" dy="9" dx="0.7">V</tspan><tspan dy="-9" dx="0.8">1.7</tspan></text>
<line x1="1385.8" y1="1203.6" x2="1385.8" y2="1643.4" stroke="#0a0a0a" stroke-width="2.6"/>
<line x1="1384.4" y1="1642.5" x2="1719" y2="1642.5" stroke="#0a0a0a" stroke-width="2.8"/>
<line x1="1375" y1="1205" x2="1385.8" y2="1205" stroke="#0a0a0a" stroke-width="2.8"/>
<text x="1368.3" y="1216" font-size="27.3" text-anchor="end">0</text>
<line x1="1375" y1="1320.5" x2="1385.8" y2="1320.5" stroke="#0a0a0a" stroke-width="2.8"/>
<text x="1372.3" y="1333.5" font-size="27.3" text-anchor="end">-20</text>
<line x1="1375" y1="1436.5" x2="1385.8" y2="1436.5" stroke="#0a0a0a" stroke-width="2.8"/>
<text x="1374" y="1449" font-size="27.3" text-anchor="end">-40</text>
<line x1="1375" y1="1552.8" x2="1385.8" y2="1552.8" stroke="#0a0a0a" stroke-width="2.8"/>
<text x="1374" y="1566.2" font-size="27.3" text-anchor="end">-60</text>
<line x1="1491.5" y1="1642" x2="1491.5" y2="1652.5" stroke="#0a0a0a" stroke-width="2.8"/>
<text transform="translate(1501.5 1669) rotate(-45)" font-size="27.3" text-anchor="end">Activation</text>
<line x1="1648.2" y1="1642" x2="1648.2" y2="1652.5" stroke="#0a0a0a" stroke-width="2.8"/>
<text transform="translate(1658.2 1669) rotate(-45)" font-size="27.3" text-anchor="end">Inactivation</text>
<line x1="1428" y1="1298.8" x2="1428" y2="1323.6" stroke="#0a0a0a" stroke-width="2.7"/><line x1="1428" y1="1383.5" x2="1428" y2="1404.2" stroke="#0a0a0a" stroke-width="2.7"/><line x1="1423.8" y1="1298.8" x2="1432.2" y2="1298.8" stroke="#0a0a0a" stroke-width="2.7"/><line x1="1423.8" y1="1404.2" x2="1432.2" y2="1404.2" stroke="#0a0a0a" stroke-width="2.7"/><rect x="1401.5" y="1324.9" width="53.1" height="57.2" fill="#0b4567" stroke="#0a0a0a" stroke-width="2.7"/><line x1="1401.1" y1="1355" x2="1454.9" y2="1355" stroke="#0a0a0a" stroke-width="2.7"/>
<line x1="1508" y1="1235" x2="1508" y2="1260.3" stroke="#0a0a0a" stroke-width="2.7"/><line x1="1508" y1="1306.8" x2="1508" y2="1317.5" stroke="#0a0a0a" stroke-width="2.7"/><line x1="1503.8" y1="1235" x2="1512.2" y2="1235" stroke="#0a0a0a" stroke-width="2.7"/><line x1="1503.8" y1="1317.5" x2="1512.2" y2="1317.5" stroke="#0a0a0a" stroke-width="2.7"/><rect x="1481.5" y="1261.6" width="53.1" height="43.8" fill="#68a5cb" stroke="#0a0a0a" stroke-width="2.7"/><line x1="1481.1" y1="1289.2" x2="1534.9" y2="1289.2" stroke="#0a0a0a" stroke-width="2.7"/>
<line x1="1604.2" y1="1526.5" x2="1604.2" y2="1545.6" stroke="#0a0a0a" stroke-width="2.7"/><line x1="1604.2" y1="1597.2" x2="1604.2" y2="1620.8" stroke="#0a0a0a" stroke-width="2.7"/><line x1="1600" y1="1526.5" x2="1608.5" y2="1526.5" stroke="#0a0a0a" stroke-width="2.7"/><line x1="1600" y1="1620.8" x2="1608.5" y2="1620.8" stroke="#0a0a0a" stroke-width="2.7"/><rect x="1577.8" y="1546.9" width="53" height="48.9" fill="#0b4567" stroke="#0a0a0a" stroke-width="2.7"/><line x1="1577.4" y1="1571.5" x2="1631.1" y2="1571.5" stroke="#0a0a0a" stroke-width="2.7"/>
<line x1="1684.3" y1="1429" x2="1684.3" y2="1472.9" stroke="#0a0a0a" stroke-width="2.7"/><line x1="1684.3" y1="1507.5" x2="1684.3" y2="1564.5" stroke="#0a0a0a" stroke-width="2.7"/><line x1="1680.1" y1="1429" x2="1688.6" y2="1429" stroke="#0a0a0a" stroke-width="2.7"/><line x1="1680.1" y1="1564.5" x2="1688.6" y2="1564.5" stroke="#0a0a0a" stroke-width="2.7"/><rect x="1658" y="1474.2" width="52.8" height="31.9" fill="#68a5cb" stroke="#0a0a0a" stroke-width="2.7"/><line x1="1657.6" y1="1481.2" x2="1711.1" y2="1481.2" stroke="#0a0a0a" stroke-width="2.7"/>
<line x1="1427.5" y1="1207.5" x2="1500.5" y2="1207.5" stroke="#0a0a0a" stroke-width="2.6"/><text x="1462.5" y="1209.2" font-size="26.5" text-anchor="middle">***</text>
<line x1="1608.5" y1="1410.3" x2="1681.5" y2="1410.3" stroke="#0a0a0a" stroke-width="2.6"/><text x="1645.9" y="1412" font-size="26.5" text-anchor="middle">***</text>
</g>
</svg>
</body>
</html>
